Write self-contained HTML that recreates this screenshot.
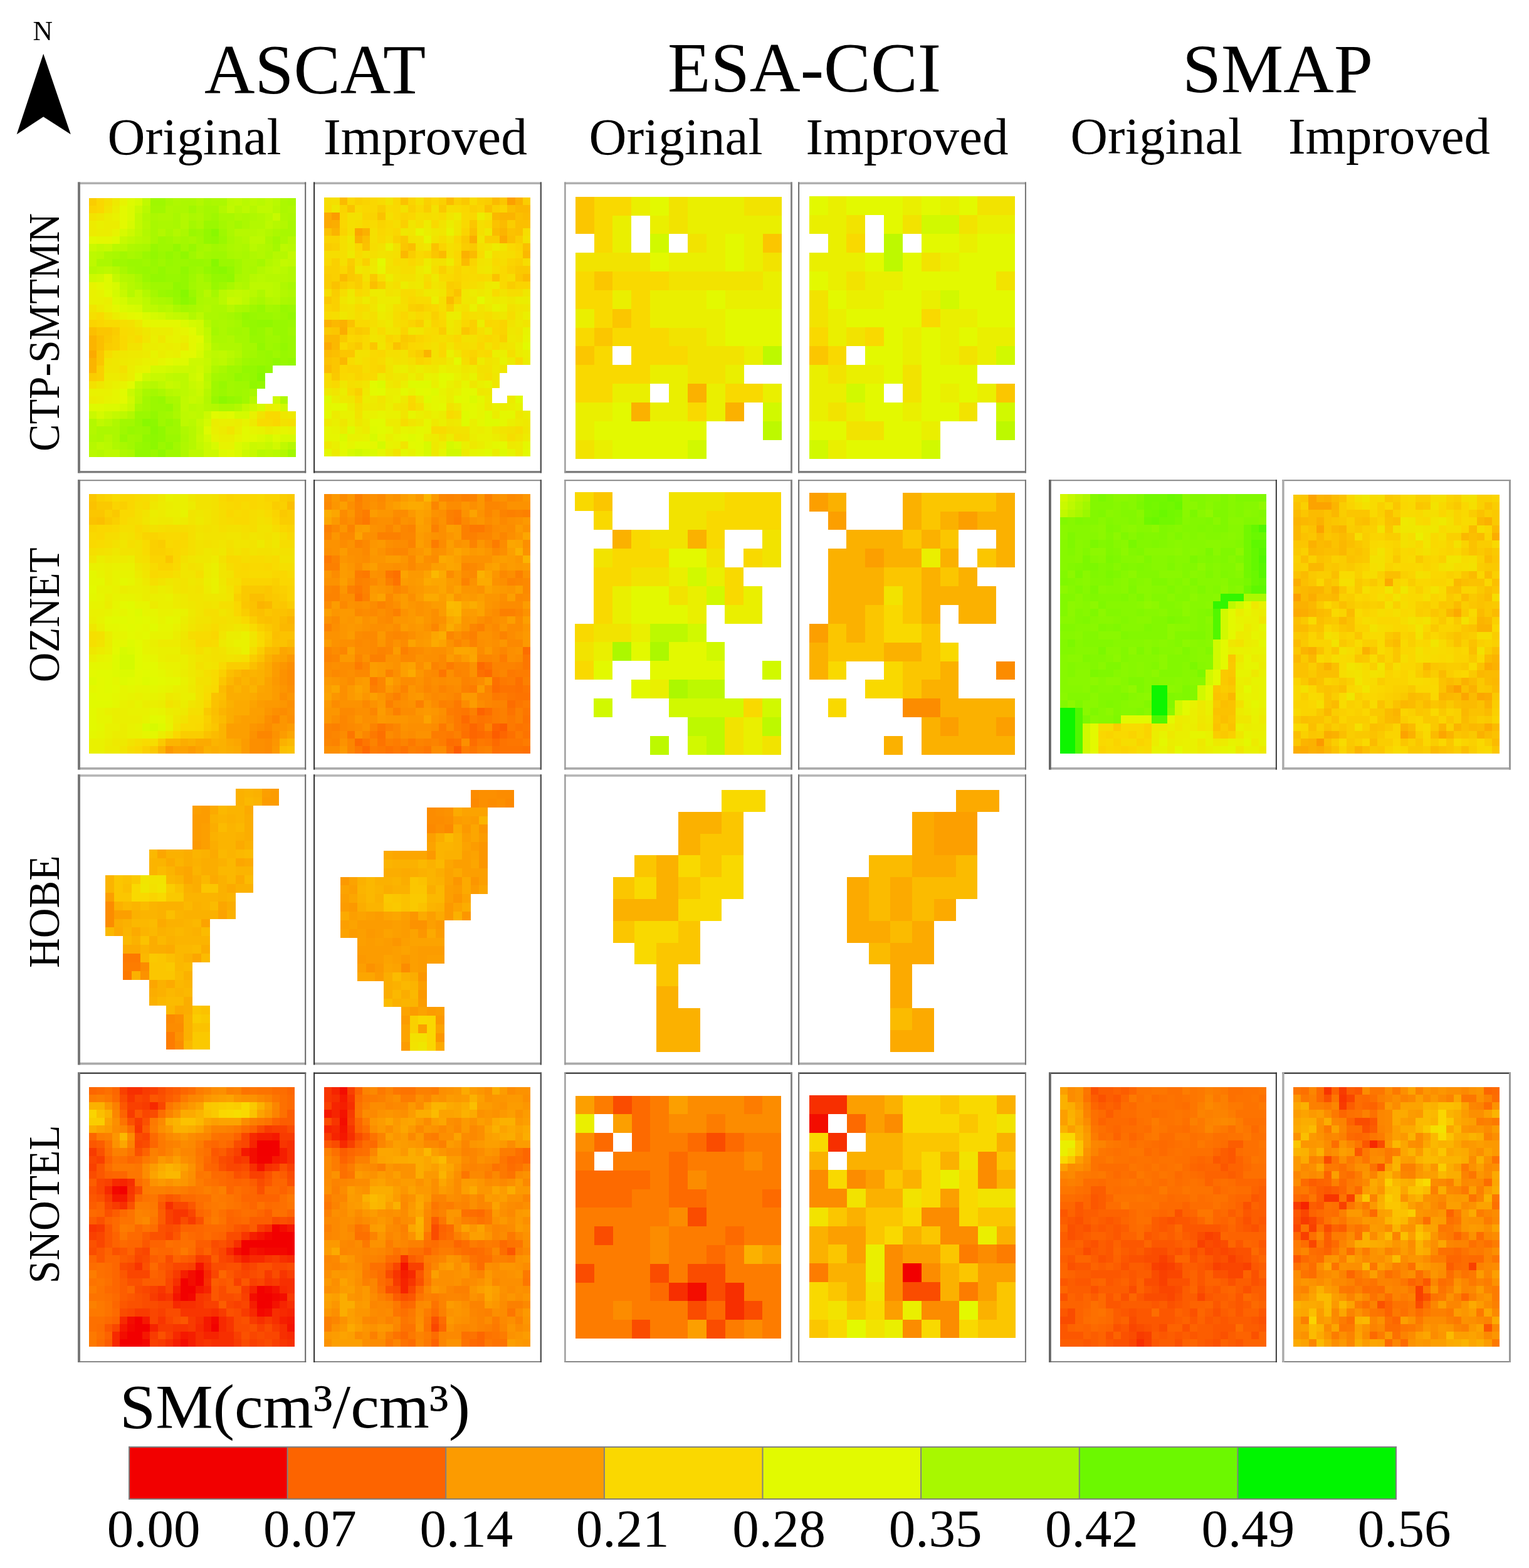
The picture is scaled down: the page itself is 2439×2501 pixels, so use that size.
<!DOCTYPE html><html><head><meta charset="utf-8"><style>html,body{margin:0;padding:0;background:#fff;width:2439px;height:2501px;overflow:hidden}svg{display:block}text{font-family:"Liberation Serif","Times New Roman",serif;fill:#000}</style></head><body>
<svg width="2439" height="2501" viewBox="0 0 2439 2501">
<g shape-rendering="crispEdges">
<path fill="#facd00" d="M142 316h12v12h-12zM179 522h12v13h-12zM166 547h13v12h-13zM142 595h12v13h-12z"/>
<path fill="#fad700" d="M154 316h12v12h-12zM154 328h12v12h-12zM154 510h12v12h-12zM435 668h12v12h-12z"/>
<path fill="#f5df00" d="M166 316h13v12h-13zM142 498h12v12h-12zM191 510h12v12h-12zM203 535h12v12h-12zM459 668h13v12h-13z"/>
<path fill="#eee900" d="M179 316h12v12h-12zM215 510h12v12h-12zM288 547h13v12h-13zM203 559h24v12h-24zM191 571h12v12h-12zM459 656h13v12h-13z"/>
<path fill="#e7f300" d="M191 316h12v12h-12zM179 365h12v12h-12zM142 450h12v12h-12zM154 462h12v12h-12zM191 498h12v12h-12zM276 522h12v13h-12zM276 535h12v12h-12zM240 559h12v12h-12zM215 583h12v12h-12zM191 608h12v12h-12zM166 632h13v12h-13zM435 644h12v12h-12zM386 668h12v12h-12zM410 680h13v13h-13zM459 680h13v13h-13zM337 693h12v12h-12zM349 705h25v12h-25z"/>
<path fill="#defa00" d="M203 316h12v12h-12zM179 377h12v12h-12zM166 437h13v13h-13zM166 450h13v12h-13zM276 571h25v12h-25zM142 644h24v12h-24zM349 656h13v12h-13zM325 680h12v13h-12zM435 693h12v12h-12zM349 717h13v12h-13z"/>
<path fill="#d7fa00" d="M215 316h12v12h-12zM203 352h12v13h-12zM191 365h12v12h-12zM179 450h12v12h-12zM203 486h12v12h-12zM313 559h12v12h-12zM410 644h13v12h-13zM447 693h25v12h-25zM337 705h12v12h-12z"/>
<path fill="#c0f900" d="M227 316h13v12h-13zM374 316h12v12h-12zM423 316h12v12h-12zM362 328h12v12h-12zM410 328h25v12h-25zM215 365h12v12h-12zM203 377h12v12h-12zM459 413h13v12h-13zM191 450h12v12h-12zM362 462h12v12h-12zM386 462h12v12h-12zM227 486h13v12h-13zM288 498h13v12h-13zM325 522h12v13h-12zM349 559h13v12h-13zM264 595h12v13h-12zM288 632h13v12h-13zM288 644h13v12h-13zM301 656h12v12h-12zM154 668h12v12h-12zM447 705h12v12h-12z"/>
<path fill="#9ff800" d="M240 316h24v12h-24zM337 340h12v12h-12zM313 365h12v12h-12zM349 365h13v12h-13zM252 377h12v12h-12zM252 389h24v12h-24zM301 401h12v12h-12zM337 401h25v12h-25zM179 413h24v12h-24zM227 413h13v12h-13zM252 413h12v12h-12zM203 425h12v12h-12zM313 425h12v12h-12zM301 437h12v13h-12zM325 437h12v13h-12zM240 450h36v12h-36zM349 450h13v12h-13zM398 486h12v12h-12zM374 498h12v12h-12zM435 498h12v12h-12zM459 522h13v13h-13zM423 535h24v12h-24zM423 547h12v12h-12zM435 559h12v12h-12zM386 571h12v12h-12zM362 583h24v12h-24zM362 595h12v13h-12zM337 608h12v12h-12zM374 608h24v12h-24zM337 620h12v12h-12zM374 620h12v12h-12zM252 656h12v12h-12zM252 668h12v12h-12zM276 668h12v12h-12zM191 680h12v13h-12zM264 680h24v13h-24zM215 693h12v12h-12zM264 717h24v12h-24z"/>
<path fill="#a9f800" d="M264 316h12v12h-12zM325 316h12v12h-12zM459 316h13v12h-13zM276 340h12v12h-12zM349 340h25v12h-25zM240 352h12v13h-12zM276 352h12v13h-12zM459 352h13v13h-13zM240 365h12v12h-12zM264 365h12v12h-12zM447 365h25v12h-25zM240 377h12v12h-12zM276 377h12v12h-12zM301 377h12v12h-12zM362 377h12v12h-12zM227 389h13v12h-13zM325 389h12v12h-12zM179 401h12v12h-12zM203 401h12v12h-12zM313 401h12v12h-12zM362 401h12v12h-12zM386 401h12v12h-12zM191 425h12v12h-12zM398 425h12v12h-12zM215 437h12v13h-12zM313 437h12v13h-12zM374 437h12v13h-12zM313 450h24v12h-24zM362 450h12v12h-12zM459 450h13v12h-13zM313 462h12v12h-12zM264 474h12v12h-12zM410 474h13v12h-13zM459 474h13v12h-13zM301 486h12v12h-12zM386 486h12v12h-12zM349 498h13v12h-13zM337 510h12v12h-12zM362 510h12v12h-12zM374 571h12v12h-12zM349 583h13v12h-13zM227 620h13v12h-13zM398 620h12v12h-12zM264 632h12v12h-12zM215 644h12v12h-12zM276 644h12v12h-12zM191 705h12v12h-12z"/>
<path fill="#aff800" d="M276 316h12v12h-12zM264 328h12v12h-12zM459 328h13v12h-13zM252 340h24v12h-24zM313 340h12v12h-12zM374 340h12v12h-12zM398 340h12v12h-12zM447 340h12v12h-12zM374 377h12v12h-12zM203 389h12v12h-12zM374 389h12v12h-12zM423 389h12v12h-12zM398 401h12v12h-12zM215 450h12v12h-12zM386 450h12v12h-12zM447 450h12v12h-12zM410 462h13v12h-13zM459 462h13v12h-13zM240 474h12v12h-12zM325 474h24v12h-24zM398 474h12v12h-12zM313 486h12v12h-12zM362 535h12v12h-12zM349 547h37v12h-37zM337 583h12v12h-12zM447 632h12v12h-12zM179 668h12v12h-12zM288 680h13v13h-13zM142 693h12v12h-12zM179 705h12v12h-12zM288 705h13v12h-13zM191 717h12v12h-12zM288 717h13v12h-13z"/>
<path fill="#acf800" d="M288 316h25v12h-25zM337 316h25v12h-25zM447 316h12v12h-12zM276 328h25v12h-25zM313 328h12v12h-12zM447 328h12v12h-12zM240 340h12v12h-12zM301 340h12v12h-12zM386 340h12v12h-12zM459 340h13v12h-13zM252 352h24v13h-24zM313 352h12v13h-12zM362 352h12v13h-12zM386 352h12v13h-12zM288 365h13v12h-13zM362 365h12v12h-12zM435 365h12v12h-12zM423 377h12v12h-12zM447 377h12v12h-12zM215 389h12v12h-12zM362 389h12v12h-12zM386 389h12v12h-12zM166 401h13v12h-13zM374 401h12v12h-12zM423 401h12v12h-12zM154 413h25v12h-25zM386 413h24v12h-24zM386 425h12v12h-12zM386 437h12v13h-12zM252 474h12v12h-12zM313 474h12v12h-12zM447 474h12v12h-12zM276 486h12v12h-12zM337 486h25v12h-25zM374 486h12v12h-12zM325 498h24v12h-24zM349 510h13v12h-13zM349 522h13v13h-13zM337 535h25v12h-25zM252 620h12v12h-12zM276 632h12v12h-12zM349 644h25v12h-25zM276 656h12v12h-12zM154 680h37v13h-37zM154 693h12v12h-12zM179 693h12v12h-12zM288 693h13v12h-13zM203 717h12v12h-12z"/>
<path fill="#b3f800" d="M313 316h12v12h-12zM349 328h13v12h-13zM227 340h13v12h-13zM288 340h13v12h-13zM410 340h13v12h-13zM288 352h13v13h-13zM398 352h25v13h-25zM447 352h12v13h-12zM227 365h13v12h-13zM252 365h12v12h-12zM276 365h12v12h-12zM423 365h12v12h-12zM386 377h12v12h-12zM410 389h13v12h-13zM410 401h13v12h-13zM423 413h12v12h-12zM410 425h13v12h-13zM459 425h13v12h-13zM203 437h12v13h-12zM459 437h13v13h-13zM374 450h12v12h-12zM227 462h13v12h-13zM447 462h12v12h-12zM423 474h12v12h-12zM325 486h12v12h-12zM301 498h12v12h-12zM337 547h12v12h-12zM374 559h12v12h-12zM362 571h12v12h-12zM325 632h12v12h-12zM337 644h12v12h-12zM374 644h12v12h-12zM203 656h12v12h-12zM142 668h12v12h-12zM142 680h12v13h-12zM447 717h12v12h-12z"/>
<path fill="#bdf900" d="M362 316h12v12h-12zM398 316h12v12h-12zM386 328h12v12h-12zM423 352h12v13h-12zM398 377h25v12h-25zM447 389h12v12h-12zM142 401h12v12h-12zM142 413h12v12h-12zM166 425h13v12h-13zM435 425h12v12h-12zM398 450h37v12h-37zM423 462h12v12h-12zM227 474h13v12h-13zM386 474h12v12h-12zM240 486h12v12h-12zM313 498h12v12h-12zM337 559h12v12h-12zM349 571h13v12h-13zM276 595h25v13h-25zM252 608h12v12h-12zM288 608h13v12h-13zM325 608h12v12h-12zM288 620h13v12h-13zM313 644h12v12h-12zM191 656h12v12h-12zM288 656h13v12h-13zM313 656h12v12h-12zM288 668h13v12h-13zM154 705h12v12h-12zM166 717h25v12h-25zM301 717h24v12h-24zM423 717h12v12h-12z"/>
<path fill="#b9f900" d="M386 316h12v12h-12zM410 316h13v12h-13zM435 316h12v12h-12zM227 328h13v12h-13zM423 340h12v12h-12zM410 365h13v12h-13zM215 377h12v12h-12zM179 389h24v12h-24zM398 389h12v12h-12zM459 389h13v12h-13zM154 401h12v12h-12zM435 413h12v12h-12zM154 425h12v12h-12zM423 425h12v12h-12zM447 425h12v12h-12zM410 437h13v13h-13zM435 450h12v12h-12zM349 462h13v12h-13zM398 462h12v12h-12zM435 462h12v12h-12zM349 474h13v12h-13zM264 486h12v12h-12zM362 559h12v12h-12zM337 571h12v12h-12zM325 595h12v13h-12zM227 608h13v12h-13zM215 620h12v12h-12zM276 620h12v12h-12zM301 644h12v12h-12zM166 668h13v12h-13zM301 668h12v12h-12zM166 705h13v12h-13zM142 717h12v12h-12zM410 717h13v12h-13zM435 717h12v12h-12z"/>
<path fill="#fad400" d="M142 328h12v12h-12zM142 510h12v12h-12z"/>
<path fill="#f2e300" d="M166 328h13v12h-13zM142 340h12v12h-12zM203 547h24v12h-24zM410 656h13v12h-13z"/>
<path fill="#ebed00" d="M179 328h12v12h-12zM166 340h13v12h-13zM166 352h25v13h-25zM154 365h25v12h-25zM179 498h12v12h-12zM240 522h36v13h-36zM227 547h25v12h-25zM264 547h12v12h-12zM252 559h12v12h-12zM215 571h12v12h-12zM203 583h12v12h-12zM203 595h12v13h-12zM166 608h13v12h-13zM142 632h12v12h-12zM337 668h12v12h-12zM374 668h12v12h-12zM423 680h12v13h-12z"/>
<path fill="#e3f900" d="M191 328h12v12h-12zM191 340h12v12h-12zM191 352h12v13h-12zM142 377h12v12h-12zM215 498h12v12h-12zM288 559h25v12h-25zM264 571h12v12h-12zM191 632h12v12h-12zM386 680h12v13h-12zM386 693h12v12h-12z"/>
<path fill="#dbfa00" d="M203 328h12v12h-12zM203 340h12v12h-12zM179 474h12v12h-12zM191 486h12v12h-12zM227 498h13v12h-13zM288 510h13v12h-13zM313 547h12v12h-12zM166 644h25v12h-25zM410 693h13v12h-13zM374 705h12v12h-12zM374 717h12v12h-12z"/>
<path fill="#caf900" d="M215 328h12v12h-12zM142 389h12v12h-12zM362 474h12v12h-12zM325 547h12v12h-12zM301 583h12v12h-12zM203 620h12v12h-12zM313 620h12v12h-12zM203 644h12v12h-12zM142 656h12v12h-12zM166 656h13v12h-13zM398 705h12v12h-12z"/>
<path fill="#a2f800" d="M240 328h24v12h-24zM301 328h12v12h-12zM264 377h12v12h-12zM313 377h12v12h-12zM435 377h12v12h-12zM288 389h13v12h-13zM337 389h12v12h-12zM191 401h12v12h-12zM325 401h12v12h-12zM374 413h12v12h-12zM374 425h12v12h-12zM301 450h12v12h-12zM435 486h12v12h-12zM374 522h12v13h-12zM423 522h12v13h-12zM398 559h12v12h-12zM349 595h13v13h-13zM362 608h12v12h-12zM362 620h12v12h-12zM386 620h12v12h-12zM227 632h13v12h-13zM386 632h12v12h-12zM227 644h13v12h-13zM264 656h12v12h-12zM191 668h24v12h-24zM203 693h12v12h-12zM203 705h12v12h-12zM276 705h12v12h-12zM459 717h13v12h-13z"/>
<path fill="#a5f800" d="M325 328h24v12h-24zM325 340h12v12h-12zM301 352h12v13h-12zM349 352h13v13h-13zM374 352h12v13h-12zM288 377h13v12h-13zM313 389h12v12h-12zM349 389h13v12h-13zM435 389h12v12h-12zM215 401h12v12h-12zM410 413h13v12h-13zM227 450h13v12h-13zM240 462h12v12h-12zM337 462h12v12h-12zM288 486h13v12h-13zM423 486h12v12h-12zM362 498h12v12h-12zM374 510h12v12h-12zM337 522h12v13h-12zM362 522h12v13h-12zM386 522h12v13h-12zM374 535h24v12h-24zM386 547h24v12h-24zM386 559h12v12h-12zM337 595h12v13h-12zM240 620h12v12h-12z"/>
<path fill="#b6f800" d="M374 328h12v12h-12zM398 328h12v12h-12zM435 328h12v12h-12zM227 352h13v13h-13zM435 352h12v13h-12zM374 365h36v12h-36zM227 377h13v12h-13zM459 377h13v12h-13zM435 401h24v12h-24zM142 425h12v12h-12zM179 425h12v12h-12zM191 437h12v13h-12zM398 437h12v13h-12zM423 437h36v13h-36zM203 450h12v12h-12zM203 462h12v12h-12zM325 462h12v12h-12zM435 474h12v12h-12zM252 486h12v12h-12zM362 486h12v12h-12zM325 510h12v12h-12zM240 608h12v12h-12zM264 620h12v12h-12zM325 620h12v12h-12zM215 632h12v12h-12zM398 632h12v12h-12zM325 644h12v12h-12zM301 680h12v13h-12zM166 693h13v12h-13zM301 693h12v12h-12zM142 705h12v12h-12zM301 705h12v12h-12zM459 705h13v12h-13zM154 717h12v12h-12z"/>
<path fill="#efe700" d="M154 340h12v12h-12zM227 522h13v13h-13zM252 535h12v12h-12zM191 559h12v12h-12zM179 571h12v12h-12zM166 583h25v12h-25zM191 595h12v13h-12zM154 608h12v12h-12zM447 656h12v12h-12z"/>
<path fill="#e9f100" d="M179 340h12v12h-12zM142 462h12v12h-12zM142 474h24v12h-24zM166 486h13v12h-13zM264 535h12v12h-12zM264 559h12v12h-12zM227 571h25v12h-25zM179 608h12v12h-12zM142 620h37v12h-37zM398 656h12v12h-12zM435 680h12v13h-12z"/>
<path fill="#c3f900" d="M215 340h12v12h-12zM215 352h12v13h-12zM154 389h12v12h-12zM459 401h13v12h-13zM447 413h12v12h-12zM179 437h12v13h-12zM215 462h12v12h-12zM374 462h12v12h-12zM276 498h12v12h-12zM325 535h12v12h-12zM325 559h12v12h-12zM325 583h12v12h-12zM215 608h12v12h-12zM276 608h12v12h-12zM301 620h12v12h-12zM313 632h12v12h-12zM386 644h12v12h-12zM179 656h12v12h-12zM313 680h12v13h-12zM313 705h12v12h-12z"/>
<path fill="#c7f900" d="M435 340h12v12h-12zM191 377h12v12h-12zM166 389h13v12h-13zM191 462h12v12h-12zM203 474h24v12h-24zM374 474h12v12h-12zM264 498h12v12h-12zM325 571h12v12h-12zM240 595h24v13h-24zM264 608h12v12h-12zM301 608h12v12h-12zM301 632h12v12h-12zM313 668h12v12h-12zM313 693h12v12h-12zM423 705h12v12h-12zM398 717h12v12h-12z"/>
<path fill="#edeb00" d="M142 352h12v13h-12zM142 365h12v12h-12zM154 486h12v12h-12zM227 559h13v12h-13zM203 571h12v12h-12zM166 595h25v13h-25zM398 668h12v12h-12zM349 680h13v13h-13z"/>
<path fill="#eaef00" d="M154 352h12v13h-12zM166 474h13v12h-13zM240 535h12v12h-12zM288 535h13v12h-13zM252 547h12v12h-12zM276 547h12v12h-12zM276 559h12v12h-12zM154 632h12v12h-12zM423 644h12v12h-12zM349 668h25v12h-25zM337 680h12v13h-12zM374 680h12v13h-12zM349 693h25v12h-25z"/>
<path fill="#9bf800" d="M325 352h24v13h-24zM301 365h12v12h-12zM349 377h13v12h-13zM227 401h13v12h-13zM252 401h12v12h-12zM276 401h12v12h-12zM203 413h24v12h-24zM276 413h25v12h-25zM325 413h12v12h-12zM349 413h25v12h-25zM215 425h12v12h-12zM240 425h12v12h-12zM264 425h24v12h-24zM301 425h12v12h-12zM227 437h13v13h-13zM252 462h12v12h-12zM301 462h12v12h-12zM459 486h13v12h-13zM410 498h25v12h-25zM447 498h12v12h-12zM459 510h13v12h-13zM459 535h13v12h-13zM435 547h12v12h-12zM459 547h13v12h-13zM410 559h13v12h-13zM459 559h13v12h-13zM398 571h25v12h-25zM349 620h13v12h-13zM240 632h12v12h-12zM240 644h24v12h-24zM215 656h25v12h-25zM215 680h12v13h-12zM264 693h24v12h-24zM252 705h12v12h-12zM240 717h12v12h-12z"/>
<path fill="#cdf900" d="M203 365h12v12h-12zM142 437h12v13h-12zM301 571h24v12h-24zM276 583h25v12h-25zM227 595h13v13h-13zM301 595h12v13h-12zM313 608h12v12h-12zM435 632h12v12h-12zM398 644h12v12h-12zM325 656h12v12h-12zM325 705h12v12h-12zM410 705h13v12h-13zM325 717h24v12h-24zM386 717h12v12h-12z"/>
<path fill="#94f800" d="M325 365h12v12h-12zM325 377h12v12h-12zM276 389h12v12h-12zM240 401h12v12h-12zM264 401h12v12h-12zM252 425h12v12h-12zM325 425h12v12h-12zM362 425h12v12h-12zM240 437h24v13h-24zM288 437h13v13h-13zM337 437h25v13h-25zM288 450h13v12h-13zM276 462h12v12h-12zM301 474h12v12h-12zM386 498h12v12h-12zM459 498h13v12h-13zM398 510h12v12h-12zM398 522h12v13h-12zM410 547h13v12h-13zM447 547h12v12h-12zM459 571h13v12h-13zM386 583h24v12h-24zM423 583h12v12h-12zM374 595h12v13h-12zM398 595h12v13h-12zM410 608h13v12h-13zM362 632h12v12h-12zM240 656h12v12h-12zM227 705h13v12h-13zM264 705h12v12h-12zM215 717h25v12h-25z"/>
<path fill="#8af800" d="M337 365h12v12h-12zM349 425h13v12h-13zM227 668h13v12h-13zM240 680h12v13h-12z"/>
<path fill="#e4f700" d="M154 377h25v12h-25zM154 450h12v12h-12zM179 486h12v12h-12zM203 498h12v12h-12zM240 510h48v12h-48zM301 535h12v12h-12zM301 547h12v12h-12z"/>
<path fill="#91f800" d="M337 377h12v12h-12zM288 401h13v12h-13zM288 425h13v12h-13zM362 437h12v13h-12zM276 450h12v12h-12zM410 510h25v12h-25zM435 571h12v12h-12zM398 608h12v12h-12zM252 680h12v13h-12zM227 693h13v12h-13zM252 693h12v12h-12zM252 717h12v12h-12z"/>
<path fill="#98f800" d="M240 389h12v12h-12zM301 389h12v12h-12zM240 413h12v12h-12zM264 413h12v12h-12zM301 413h24v12h-24zM227 425h13v12h-13zM264 437h24v13h-24zM337 450h12v12h-12zM264 462h12v12h-12zM276 474h12v12h-12zM410 486h13v12h-13zM447 486h12v12h-12zM398 498h12v12h-12zM386 510h12v12h-12zM435 510h24v12h-24zM410 522h13v13h-13zM435 522h24v13h-24zM398 535h25v12h-25zM447 535h12v12h-12zM423 559h12v12h-12zM447 559h12v12h-12zM423 571h12v12h-12zM447 571h12v12h-12zM386 595h12v13h-12zM349 608h13v12h-13zM252 632h12v12h-12zM337 632h12v12h-12zM374 632h12v12h-12zM264 644h12v12h-12zM215 668h12v12h-12zM264 668h12v12h-12zM203 680h12v13h-12zM227 680h13v13h-13zM191 693h12v12h-12zM215 705h12v12h-12z"/>
<path fill="#87f800" d="M337 413h12v12h-12zM288 462h13v12h-13zM410 595h13v13h-13z"/>
<path fill="#8df800" d="M337 425h12v12h-12zM288 474h13v12h-13zM410 583h13v12h-13zM349 632h13v12h-13zM240 668h12v12h-12zM240 693h12v12h-12zM240 705h12v12h-12z"/>
<path fill="#d1f900" d="M154 437h12v13h-12zM252 498h12v12h-12zM313 510h12v12h-12zM313 522h12v13h-12zM264 583h12v12h-12zM313 583h12v12h-12zM203 632h12v12h-12zM447 644h12v12h-12zM435 705h12v12h-12z"/>
<path fill="#e1fa00" d="M166 462h13v12h-13zM301 522h12v13h-12zM313 535h12v12h-12zM215 595h12v13h-12zM203 608h12v12h-12zM191 620h12v12h-12zM337 656h12v12h-12zM362 656h12v12h-12zM398 693h12v12h-12zM362 717h12v12h-12z"/>
<path fill="#d4fa00" d="M179 462h12v12h-12zM191 474h12v12h-12zM215 486h12v12h-12zM240 498h12v12h-12zM301 510h12v12h-12zM240 583h24v12h-24zM313 595h12v13h-12zM191 644h12v12h-12zM154 656h12v12h-12zM374 656h24v12h-24zM325 668h12v12h-12zM325 693h12v12h-12zM423 693h12v12h-12zM386 705h12v12h-12z"/>
<path fill="#f1e500" d="M142 486h12v12h-12zM166 498h13v12h-13zM227 535h13v12h-13zM179 559h12v12h-12zM166 571h13v12h-13zM362 680h12v13h-12z"/>
<path fill="#f8db00" d="M154 498h12v12h-12zM166 510h25v12h-25zM191 522h12v13h-12zM215 535h12v12h-12zM410 668h25v12h-25z"/>
<path fill="#f3e100" d="M203 510h12v12h-12zM215 522h12v13h-12zM191 583h12v12h-12zM142 608h12v12h-12zM447 668h12v12h-12z"/>
<path fill="#e6f500" d="M227 510h13v12h-13zM288 522h13v13h-13zM252 571h12v12h-12zM227 583h13v12h-13zM179 620h12v12h-12zM179 632h12v12h-12zM398 680h12v13h-12zM447 680h12v13h-12zM374 693h12v12h-12z"/>
<path fill="#fbbf00" d="M142 522h12v13h-12zM154 535h12v12h-12zM154 547h12v12h-12z"/>
<path fill="#fbc600" d="M154 522h25v13h-25zM154 559h12v12h-12zM154 571h12v12h-12z"/>
<path fill="#f6dd00" d="M203 522h12v13h-12zM166 559h13v12h-13z"/>
<path fill="#fbb400" d="M142 535h12v12h-12zM142 547h12v12h-12zM142 571h12v12h-12zM142 583h12v12h-12z"/>
<path fill="#fac900" d="M166 535h13v12h-13z"/>
<path fill="#fad000" d="M179 535h12v12h-12zM179 547h12v12h-12zM154 583h12v12h-12zM154 595h12v13h-12z"/>
<path fill="#f9d900" d="M191 535h12v12h-12zM191 547h12v12h-12zM423 656h24v12h-24z"/>
<path fill="#fcaa00" d="M142 559h12v12h-12z"/>
</g>
<g shape-rendering="crispEdges">
<path fill="#f6dd00" d="M517 315h12v12h-12zM712 327h12v12h-12zM676 339h12v12h-12zM566 351h12v13h-12zM627 351h12v13h-12zM834 364h12v12h-12zM700 376h12v12h-12zM590 388h12v12h-12zM517 400h25v12h-25zM785 400h12v12h-12zM809 400h13v12h-13zM639 412h12v12h-12zM663 412h13v12h-13zM797 412h12v12h-12zM834 412h12v12h-12zM639 424h24v13h-24zM688 424h12v13h-12zM712 424h12v13h-12zM785 424h12v13h-12zM676 437h12v12h-12zM809 437h13v12h-13zM749 449h12v12h-12zM517 461h12v12h-12zM542 461h12v12h-12zM578 461h12v12h-12zM809 461h25v12h-25zM639 473h12v12h-12zM578 485h12v12h-12zM529 497h13v13h-13zM566 497h12v13h-12zM627 497h12v13h-12zM676 497h12v13h-12zM773 497h12v13h-12zM809 497h13v13h-13zM627 510h12v12h-12zM676 522h12v12h-12zM688 534h12v12h-12zM712 534h12v12h-12zM676 546h12v12h-12zM736 546h13v12h-13zM578 570h12v12h-12zM736 570h13v12h-13zM578 582h12v13h-12zM517 607h12v12h-12zM639 668h12v12h-12zM822 680h12v12h-12zM809 692h13v12h-13z"/>
<path fill="#f5df00" d="M529 315h13v12h-13zM663 315h13v12h-13zM615 339h12v12h-12zM663 339h13v12h-13zM688 339h12v12h-12zM554 351h12v13h-12zM663 351h13v13h-13zM761 351h12v13h-12zM554 364h12v12h-12zM590 364h12v12h-12zM761 364h12v12h-12zM542 376h12v12h-12zM590 376h12v12h-12zM615 376h12v12h-12zM542 388h12v12h-12zM712 388h12v12h-12zM761 388h12v12h-12zM542 400h12v12h-12zM590 400h12v12h-12zM627 400h12v12h-12zM712 400h12v12h-12zM797 400h12v12h-12zM542 412h12v12h-12zM566 412h12v12h-12zM602 437h13v12h-13zM627 449h12v12h-12zM700 473h12v12h-12zM627 485h24v12h-24zM700 485h12v12h-12zM590 497h12v13h-12zM651 497h12v13h-12zM749 497h12v13h-12zM590 510h12v12h-12zM761 522h12v12h-12zM700 534h12v12h-12zM749 546h12v12h-12zM615 558h24v12h-24zM809 558h13v12h-13zM651 570h12v12h-12zM773 595h12v12h-12zM554 607h12v12h-12zM663 643h13v12h-13zM724 655h12v13h-12zM724 692h12v12h-12z"/>
<path fill="#fbbb00" d="M542 315h12v12h-12zM712 315h12v12h-12zM785 315h12v12h-12zM834 339h12v12h-12zM797 351h12v13h-12zM785 364h12v12h-12zM700 400h12v12h-12zM749 400h12v12h-12zM736 412h13v12h-13zM542 437h12v12h-12zM834 437h12v12h-12zM712 473h12v12h-12zM517 558h12v12h-12zM517 582h12v13h-12z"/>
<path fill="#fad700" d="M554 315h12v12h-12zM590 315h12v12h-12zM627 315h12v12h-12zM688 315h12v12h-12zM578 327h24v12h-24zM736 327h13v12h-13zM542 339h12v12h-12zM651 339h12v12h-12zM749 339h12v12h-12zM542 351h12v13h-12zM578 351h12v13h-12zM602 364h13v12h-13zM627 364h12v12h-12zM724 376h12v12h-12zM566 388h12v12h-12zM724 400h12v12h-12zM822 400h12v12h-12zM651 412h12v12h-12zM542 424h12v13h-12zM651 473h12v12h-12zM688 485h12v12h-12zM639 497h12v13h-12zM700 510h12v12h-12zM736 510h13v12h-13zM773 510h12v12h-12zM785 522h12v12h-12zM554 534h12v12h-12zM724 534h12v12h-12zM773 534h12v12h-12zM651 546h12v12h-12zM761 546h12v12h-12zM602 558h13v12h-13zM700 558h12v12h-12zM590 570h12v12h-12zM542 582h12v13h-12zM590 582h12v13h-12zM651 643h12v12h-12z"/>
<path fill="#fad000" d="M566 315h12v12h-12zM676 315h12v12h-12zM700 315h12v12h-12zM724 315h12v12h-12zM761 315h12v12h-12zM651 327h12v12h-12zM749 327h12v12h-12zM785 327h12v12h-12zM639 351h12v13h-12zM627 376h12v12h-12zM529 388h13v12h-13zM529 412h13v12h-13zM578 412h12v12h-12zM822 412h12v12h-12zM517 424h25v13h-25zM700 424h12v13h-12zM809 424h13v13h-13zM529 437h13v12h-13zM724 449h12v12h-12zM712 461h12v12h-12zM529 473h13v12h-13zM724 473h12v12h-12zM529 485h13v12h-13zM651 485h12v12h-12zM688 497h12v13h-12zM749 510h12v12h-12zM554 522h12v12h-12zM749 522h12v12h-12zM797 534h12v12h-12zM554 546h12v12h-12zM749 570h12v12h-12zM566 619h12v12h-12z"/>
<path fill="#fad400" d="M578 315h12v12h-12zM651 315h12v12h-12zM542 327h12v12h-12zM761 327h12v12h-12zM797 327h12v12h-12zM578 339h24v12h-24zM639 339h12v12h-12zM602 351h13v13h-13zM542 364h12v12h-12zM736 364h13v12h-13zM517 376h25v12h-25zM700 388h12v12h-12zM822 388h12v12h-12zM676 400h12v12h-12zM749 412h12v12h-12zM809 412h13v12h-13zM724 424h12v13h-12zM724 437h12v12h-12zM554 449h12v12h-12zM822 449h24v12h-24zM517 485h12v12h-12zM676 485h12v12h-12zM651 510h12v12h-12zM688 510h12v12h-12zM797 510h12v12h-12zM639 522h12v12h-12zM797 522h12v12h-12zM566 534h12v12h-12zM615 534h12v12h-12zM663 534h13v12h-13zM651 558h12v12h-12zM749 558h12v12h-12zM663 570h13v12h-13zM554 582h24v13h-24zM602 582h13v13h-13zM566 595h12v12h-12z"/>
<path fill="#f8db00" d="M602 315h13v12h-13zM749 315h12v12h-12zM517 327h12v12h-12zM566 327h12v12h-12zM615 327h12v12h-12zM724 327h12v12h-12zM700 339h12v12h-12zM590 351h12v13h-12zM773 351h12v13h-12zM615 364h12v12h-12zM724 388h12v12h-12zM566 400h12v12h-12zM761 400h12v12h-12zM627 412h12v12h-12zM736 424h13v13h-13zM700 437h12v12h-12zM749 437h12v12h-12zM773 437h12v12h-12zM578 449h12v12h-12zM736 449h13v12h-13zM639 461h24v12h-24zM785 461h12v12h-12zM663 473h25v12h-25zM566 485h12v12h-12zM517 497h12v13h-12zM700 497h12v13h-12zM736 497h13v13h-13zM639 510h12v12h-12zM602 522h13v12h-13zM688 522h12v12h-12zM761 534h12v12h-12zM785 534h12v12h-12zM724 546h12v12h-12zM785 546h12v12h-12zM761 558h12v12h-12zM554 570h12v12h-12zM602 570h13v12h-13zM822 570h12v12h-12zM517 595h12v12h-12zM554 595h12v12h-12zM554 619h12v12h-12zM712 655h12v13h-12zM688 680h24v12h-24z"/>
<path fill="#f2e300" d="M615 315h12v12h-12zM773 339h12v12h-12zM700 351h12v13h-12zM663 376h13v12h-13zM688 376h12v12h-12zM773 388h12v12h-12zM602 400h13v12h-13zM615 412h12v12h-12zM761 412h12v12h-12zM578 424h12v13h-12zM627 437h12v12h-12zM615 449h12v12h-12zM615 461h12v12h-12zM797 461h12v12h-12zM566 473h12v12h-12zM590 473h12v12h-12zM554 485h12v12h-12zM761 485h12v12h-12zM554 497h12v13h-12zM578 497h12v13h-12zM785 497h12v13h-12zM676 510h12v12h-12zM724 510h12v12h-12zM809 510h13v12h-13zM590 522h12v12h-12zM627 522h12v12h-12zM724 522h12v12h-12zM602 534h13v12h-13zM773 546h12v12h-12zM797 546h12v12h-12zM639 558h12v12h-12zM639 570h12v12h-12zM773 570h12v12h-12zM615 582h12v13h-12zM615 595h12v12h-12zM761 595h12v12h-12zM712 643h12v12h-12zM566 655h12v13h-12zM724 680h25v12h-25zM797 680h12v12h-12zM700 692h12v12h-12zM822 692h12v12h-12zM627 716h12v12h-12z"/>
<path fill="#fbc200" d="M639 315h12v12h-12zM554 327h12v12h-12zM602 339h13v12h-13zM785 351h12v13h-12zM517 364h12v12h-12zM809 364h13v12h-13zM578 388h12v12h-12zM688 388h12v12h-12zM785 437h12v12h-12zM529 449h13v12h-13zM724 461h12v12h-12zM554 510h12v12h-12zM627 546h12v12h-12zM517 570h12v12h-12z"/>
<path fill="#fac900" d="M736 315h13v12h-13zM700 327h12v12h-12zM639 376h12v12h-12zM736 376h13v12h-13zM749 388h12v12h-12zM554 424h12v13h-12zM822 424h24v13h-24zM554 437h12v12h-12zM590 437h12v12h-12zM517 473h12v12h-12zM517 522h12v12h-12zM566 522h12v12h-12zM542 534h12v12h-12zM639 534h12v12h-12zM566 546h12v12h-12zM529 595h13v12h-13z"/>
<path fill="#facd00" d="M773 315h12v12h-12zM834 315h12v12h-12zM602 327h13v12h-13zM676 327h12v12h-12zM809 351h13v13h-13zM773 376h24v12h-24zM822 376h12v12h-12zM517 388h12v12h-12zM736 388h13v12h-13zM651 400h12v12h-12zM554 412h12v12h-12zM517 437h12v12h-12zM566 437h12v12h-12zM517 449h12v12h-12zM542 449h12v12h-12zM566 449h12v12h-12zM602 449h13v12h-13zM712 449h12v12h-12zM809 449h13v12h-13zM529 461h13v12h-13zM663 485h13v12h-13zM712 485h12v12h-12zM663 510h13v12h-13zM578 522h12v12h-12zM700 522h12v12h-12zM651 534h12v12h-12zM639 546h12v12h-12zM663 558h13v12h-13z"/>
<path fill="#fbc600" d="M797 315h12v12h-12zM749 351h12v13h-12zM639 388h12v12h-12zM688 400h12v12h-12zM822 437h12v12h-12zM529 522h13v12h-13zM736 522h13v12h-13zM590 546h12v12h-12zM542 558h24v12h-24zM529 570h13v12h-13zM529 582h13v13h-13z"/>
<path fill="#fc9f00" d="M809 315h13v12h-13z"/>
<path fill="#fbb100" d="M822 315h12v12h-12zM578 364h12v12h-12zM566 376h12v12h-12zM736 400h13v12h-13zM517 510h12v12h-12zM542 510h12v12h-12z"/>
<path fill="#efe700" d="M529 327h13v12h-13zM639 364h12v12h-12zM688 364h12v12h-12zM773 364h12v12h-12zM554 376h12v12h-12zM590 412h12v12h-12zM566 424h12v13h-12zM773 424h12v13h-12zM663 437h13v12h-13zM651 449h12v12h-12zM736 461h13v12h-13zM761 461h12v12h-12zM834 461h12v12h-12zM736 473h25v12h-25zM809 473h13v12h-13zM834 485h12v12h-12zM542 497h12v13h-12zM615 497h12v13h-12zM797 497h12v13h-12zM822 497h12v13h-12zM651 522h12v12h-12zM712 522h12v12h-12zM773 522h12v12h-12zM809 522h13v12h-13zM822 534h12v12h-12zM785 570h12v12h-12zM651 582h12v13h-12zM688 582h12v13h-12zM736 582h13v13h-13zM797 582h12v13h-12zM627 595h12v12h-12zM663 595h13v12h-13zM785 595h12v12h-12zM542 607h12v12h-12zM749 607h12v12h-12zM785 607h12v12h-12zM761 619h12v12h-12zM554 631h12v12h-12zM602 643h13v12h-13zM822 655h12v13h-12zM542 668h12v12h-12zM566 668h12v12h-12zM712 668h12v12h-12zM785 680h12v12h-12zM834 680h12v12h-12zM797 692h12v12h-12z"/>
<path fill="#f9d900" d="M627 327h12v12h-12zM663 327h13v12h-13zM627 339h12v12h-12zM736 339h13v12h-13zM615 351h12v13h-12zM688 351h12v13h-12zM736 351h13v13h-13zM602 376h13v12h-13zM809 388h13v12h-13zM663 400h13v12h-13zM517 412h12v12h-12zM724 412h12v12h-12zM785 412h12v12h-12zM749 424h12v13h-12zM797 424h12v13h-12zM712 437h12v12h-12zM736 437h13v12h-13zM761 437h12v12h-12zM797 437h12v12h-12zM676 449h12v12h-12zM797 449h12v12h-12zM566 461h12v12h-12zM663 497h13v13h-13zM566 510h24v12h-24zM785 510h12v12h-12zM578 534h12v12h-12zM627 534h12v12h-12zM676 534h12v12h-12zM542 546h12v12h-12zM578 546h12v12h-12zM615 546h12v12h-12zM663 546h13v12h-13zM700 546h12v12h-12zM590 558h12v12h-12zM736 558h13v12h-13zM773 558h12v12h-12zM676 570h12v12h-12zM542 595h12v12h-12zM578 595h24v12h-24zM529 607h13v12h-13zM566 631h12v12h-12zM651 631h12v12h-12z"/>
<path fill="#f3e100" d="M639 327h12v12h-12zM688 327h12v12h-12zM554 339h24v12h-24zM651 376h12v12h-12zM834 376h12v12h-12zM602 388h13v12h-13zM627 388h12v12h-12zM663 388h13v12h-13zM578 400h12v12h-12zM615 400h12v12h-12zM688 412h24v12h-24zM615 424h24v13h-24zM578 437h12v12h-12zM639 437h24v12h-24zM700 449h12v12h-12zM761 449h12v12h-12zM663 461h13v12h-13zM542 485h12v12h-12zM736 485h13v12h-13zM809 485h13v12h-13zM761 497h12v13h-12zM736 534h25v12h-25zM688 546h12v12h-12zM566 558h24v12h-24zM688 558h12v12h-12zM566 570h12v12h-12zM627 570h12v12h-12zM688 570h24v12h-24zM761 582h24v13h-24zM566 607h12v12h-12zM566 643h12v12h-12zM712 680h12v12h-12zM809 680h13v12h-13zM736 692h13v12h-13z"/>
<path fill="#fbbf00" d="M773 327h12v12h-12zM809 327h13v12h-13zM822 339h12v12h-12zM822 351h24v13h-24zM749 364h12v12h-12zM822 364h12v12h-12zM578 376h12v12h-12zM809 376h13v12h-13zM651 388h12v12h-12zM834 388h12v12h-12zM590 449h12v12h-12zM529 558h13v12h-13z"/>
<path fill="#fbb800" d="M822 327h24v12h-24zM785 339h12v12h-12zM639 400h12v12h-12zM834 400h12v12h-12zM529 510h13v12h-13zM517 534h25v12h-25zM529 546h13v12h-13zM542 570h12v12h-12z"/>
<path fill="#fcaa00" d="M517 339h12v12h-12zM517 351h12v13h-12zM797 376h12v12h-12zM517 546h12v12h-12z"/>
<path fill="#fc9c00" d="M529 339h13v12h-13z"/>
<path fill="#f1e500" d="M712 339h12v12h-12zM651 351h12v13h-12zM724 351h12v13h-12zM651 364h12v12h-12zM700 364h12v12h-12zM724 364h12v12h-12zM712 376h12v12h-12zM761 376h12v12h-12zM554 388h12v12h-12zM676 388h12v12h-12zM797 388h12v12h-12zM773 412h12v12h-12zM761 424h12v13h-12zM688 449h12v12h-12zM627 461h12v12h-12zM700 461h12v12h-12zM542 473h12v12h-12zM590 485h12v12h-12zM724 485h12v12h-12zM822 485h12v12h-12zM602 510h13v12h-13zM834 510h12v12h-12zM615 522h12v12h-12zM663 522h13v12h-13zM822 522h12v12h-12zM590 534h12v12h-12zM602 546h13v12h-13zM712 546h12v12h-12zM809 546h13v12h-13zM724 558h12v12h-12zM615 570h12v12h-12zM639 595h12v12h-12zM578 607h12v12h-12zM627 607h12v12h-12zM529 619h13v12h-13zM602 631h13v12h-13zM627 643h24v12h-24zM639 655h12v13h-12zM651 668h12v12h-12zM639 704h12v12h-12z"/>
<path fill="#edeb00" d="M724 339h12v12h-12zM676 351h12v13h-12zM785 388h12v12h-12zM676 412h12v12h-12zM712 412h12v12h-12zM785 449h12v12h-12zM590 461h25v12h-25zM749 461h12v12h-12zM773 461h12v12h-12zM554 473h12v12h-12zM578 473h12v12h-12zM602 473h37v12h-37zM797 473h12v12h-12zM602 497h13v13h-13zM822 558h12v12h-12zM761 570h12v12h-12zM809 570h13v12h-13zM749 582h12v13h-12zM602 595h13v12h-13zM736 595h13v12h-13zM724 607h12v12h-12zM590 631h12v12h-12zM809 631h13v12h-13zM773 643h12v12h-12zM529 655h13v13h-13zM676 655h12v13h-12zM517 668h12v12h-12zM615 668h24v12h-24zM822 668h12v12h-12zM578 680h12v12h-12zM688 692h12v12h-12zM834 692h12v12h-12zM822 704h12v12h-12zM529 716h13v12h-13zM736 716h13v12h-13zM822 716h12v12h-12z"/>
<path fill="#ebed00" d="M761 339h12v12h-12zM712 351h12v13h-12zM676 364h12v12h-12zM773 400h12v12h-12zM615 437h12v12h-12zM639 449h12v12h-12zM773 473h12v12h-12zM822 473h24v12h-24zM712 497h24v13h-24zM761 510h12v12h-12zM822 546h12v12h-12zM834 570h12v12h-12zM627 582h12v13h-12zM663 582h13v13h-13zM712 582h24v13h-24zM542 619h12v12h-12zM712 619h12v12h-12zM529 631h13v12h-13zM578 631h12v12h-12zM615 631h12v12h-12zM712 631h12v12h-12zM773 631h12v12h-12zM554 643h12v12h-12zM797 643h12v12h-12zM700 655h12v13h-12zM785 655h12v13h-12zM834 655h12v13h-12zM578 668h12v12h-12zM542 680h12v12h-12zM627 680h12v12h-12zM761 680h12v12h-12zM676 692h12v12h-12zM712 692h12v12h-12zM749 692h12v12h-12zM785 692h12v12h-12zM761 704h12v12h-12zM615 716h12v12h-12zM785 716h12v12h-12z"/>
<path fill="#fbb400" d="M797 339h25v12h-25zM529 364h13v12h-13zM797 364h12v12h-12zM676 558h12v12h-12z"/>
<path fill="#fbad00" d="M529 351h13v13h-13zM749 376h12v12h-12zM542 522h12v12h-12z"/>
<path fill="#fca600" d="M566 364h12v12h-12z"/>
<path fill="#e6f500" d="M663 364h13v12h-13zM676 376h12v12h-12zM602 424h13v13h-13zM834 534h12v12h-12zM736 607h13v12h-13zM700 631h12v12h-12zM761 643h12v12h-12zM602 655h13v13h-13zM651 655h12v13h-12zM761 655h12v13h-12zM676 668h12v12h-12zM517 680h12v12h-12zM639 680h12v12h-12zM676 680h12v12h-12zM517 692h25v12h-25zM627 692h12v12h-12zM554 704h12v12h-12zM700 716h12v12h-12zM749 716h12v12h-12zM809 716h13v12h-13z"/>
<path fill="#e7f300" d="M712 364h12v12h-12zM785 485h12v12h-12zM834 522h12v12h-12zM797 570h12v12h-12zM676 595h12v12h-12zM749 595h12v12h-12zM773 607h12v12h-12zM651 619h12v12h-12zM700 619h12v12h-12zM676 643h12v12h-12zM822 643h12v12h-12zM529 680h13v12h-13zM651 680h12v12h-12zM578 692h12v12h-12zM615 704h12v12h-12zM773 704h12v12h-12zM651 716h12v12h-12z"/>
<path fill="#e9f100" d="M615 388h12v12h-12zM749 485h12v12h-12zM712 558h12v12h-12zM700 582h12v13h-12zM688 595h12v12h-12zM724 595h12v12h-12zM712 607h12v12h-12zM724 619h12v12h-12zM627 631h12v12h-12zM785 643h12v12h-12zM542 655h24v13h-24zM578 655h24v13h-24zM615 655h24v13h-24zM688 655h12v13h-12zM554 668h12v12h-12zM773 680h12v12h-12zM554 692h24v12h-24zM761 692h24v12h-24zM627 704h12v12h-12z"/>
<path fill="#eee900" d="M554 400h12v12h-12zM590 424h12v13h-12zM663 424h13v13h-13zM688 437h12v12h-12zM663 449h13v12h-13zM773 449h12v12h-12zM554 461h12v12h-12zM676 461h24v12h-24zM785 473h12v12h-12zM615 485h12v12h-12zM773 485h12v12h-12zM615 510h12v12h-12zM712 510h12v12h-12zM822 510h12v12h-12zM809 534h13v12h-13zM712 570h12v12h-12zM676 582h12v13h-12zM785 582h12v13h-12zM615 607h12v12h-12zM517 619h12v12h-12zM578 619h12v12h-12zM773 619h12v12h-12zM542 631h12v12h-12zM639 631h12v12h-12zM663 631h13v12h-13zM578 643h24v12h-24zM724 643h12v12h-12zM663 668h13v12h-13zM688 668h12v12h-12zM724 668h12v12h-12zM834 668h12v12h-12zM517 704h12v12h-12zM688 704h12v12h-12zM749 704h12v12h-12zM809 704h13v12h-13zM688 716h12v12h-12z"/>
<path fill="#e3f900" d="M602 412h13v12h-13zM761 473h12v12h-12zM724 570h12v12h-12zM712 595h12v12h-12zM700 607h12v12h-12zM590 619h12v12h-12zM639 619h12v12h-12zM676 619h12v12h-12zM736 619h25v12h-25zM736 631h13v12h-13zM529 643h25v12h-25zM700 643h12v12h-12zM749 643h12v12h-12zM517 655h12v13h-12zM749 655h12v13h-12zM639 692h12v12h-12zM663 692h13v12h-13zM651 704h12v12h-12zM797 704h12v12h-12zM542 716h12v12h-12zM834 716h12v12h-12z"/>
<path fill="#eaef00" d="M676 424h12v13h-12zM688 473h12v12h-12zM602 485h13v12h-13zM797 485h12v12h-12zM834 497h12v13h-12zM785 558h24v12h-24zM834 558h12v12h-12zM639 582h12v13h-12zM651 595h12v12h-12zM639 607h12v12h-12zM688 607h12v12h-12zM761 607h12v12h-12zM615 619h24v12h-24zM615 643h12v12h-12zM809 643h13v12h-13zM663 655h13v13h-13zM529 668h13v12h-13zM700 668h12v12h-12zM749 668h12v12h-12zM809 668h13v12h-13zM566 680h12v12h-12zM749 680h12v12h-12zM615 692h12v12h-12zM529 704h13v12h-13zM700 704h12v12h-12zM736 704h13v12h-13z"/>
<path fill="#e1fa00" d="M834 546h12v12h-12zM700 595h12v12h-12zM590 607h12v12h-12zM602 619h13v12h-13zM663 619h13v12h-13zM724 631h12v12h-12zM822 631h12v12h-12zM590 668h25v12h-25zM602 680h13v12h-13zM542 704h12v12h-12zM566 704h24v12h-24zM663 704h13v12h-13zM663 716h13v12h-13zM773 716h12v12h-12z"/>
<path fill="#dbfa00" d="M602 607h13v12h-13zM749 631h12v12h-12zM542 692h12v12h-12zM724 704h12v12h-12zM590 716h12v12h-12z"/>
<path fill="#defa00" d="M651 607h37v12h-37zM688 619h12v12h-12zM517 631h12v12h-12zM676 631h12v12h-12zM736 655h13v13h-13zM773 655h12v13h-12zM736 668h13v12h-13zM773 668h24v12h-24zM554 680h12v12h-12zM590 680h12v12h-12zM651 692h12v12h-12zM797 716h12v12h-12z"/>
<path fill="#e4f700" d="M688 631h12v12h-12zM761 631h12v12h-12zM517 643h12v12h-12zM688 643h12v12h-12zM736 643h13v12h-13zM797 655h25v13h-25zM761 668h12v12h-12zM797 668h12v12h-12zM615 680h12v12h-12zM663 680h13v12h-13zM602 692h13v12h-13zM590 704h12v12h-12zM785 704h12v12h-12zM834 704h12v12h-12zM517 716h12v12h-12zM602 716h13v12h-13zM639 716h12v12h-12zM761 716h12v12h-12z"/>
<path fill="#d7fa00" d="M590 692h12v12h-12zM676 704h12v12h-12zM554 716h12v12h-12zM578 716h12v12h-12zM676 716h12v12h-12z"/>
<path fill="#d4fa00" d="M602 704h13v12h-13zM712 704h12v12h-12z"/>
<path fill="#d1f900" d="M566 716h12v12h-12zM712 716h24v12h-24z"/>
</g>
<g shape-rendering="crispEdges">
<path fill="#fbc600" d="M918 314h30v30h-30zM918 344h30v29h-30zM1217 373h30v30h-30zM948 433h29v30h-29zM977 493h30v30h-30zM948 523h29v29h-29zM918 552h30v30h-30z"/>
<path fill="#f9d900" d="M948 314h59v30h-59zM948 344h29v29h-29zM948 373h29v30h-29zM918 433h30v30h-30zM977 433h90v30h-90zM918 463h59v30h-59zM1007 463h30v30h-30zM948 493h29v30h-29zM1007 493h30v30h-30zM918 523h30v29h-30zM977 523h90v29h-90zM948 552h29v30h-29zM1007 552h90v30h-90zM918 582h119v30h-119zM918 612h59v30h-59zM1157 612h60v30h-60zM1097 642h30v30h-30z"/>
<path fill="#eaef00" d="M1007 314h30v30h-30zM1097 314h90v30h-90zM977 344h30v29h-30zM1037 344h30v29h-30zM1097 344h150v29h-150zM977 373h30v30h-30zM1127 373h30v30h-30zM1187 373h30v30h-30zM1067 403h90v30h-90zM1187 403h30v30h-30zM1217 433h30v30h-30zM977 463h30v30h-30zM1037 463h90v30h-90zM1157 463h90v30h-90zM918 493h30v30h-30zM1037 493h120v30h-120zM1127 523h30v29h-30zM1187 552h30v30h-30zM1037 582h60v30h-60zM1157 582h30v30h-30zM977 612h60v30h-60zM1067 612h30v30h-30zM1127 612h30v30h-30zM1217 612h30v30h-30zM918 642h59v30h-59zM1037 642h60v30h-60zM1127 642h30v30h-30zM918 672h30v30h-30zM948 702h29v30h-29z"/>
<path fill="#e3f900" d="M1037 314h30v30h-30zM1157 373h30v30h-30zM1037 403h30v30h-30zM1157 403h30v30h-30zM1127 463h30v30h-30zM1157 493h90v30h-90zM1157 523h90v29h-90zM977 642h30v30h-30zM948 672h179v30h-179zM977 702h120v30h-120z"/>
<path fill="#f2e300" d="M1067 314h30v30h-30zM1187 314h60v30h-60zM1067 344h30v29h-30zM1097 373h30v30h-30zM918 403h119v30h-119zM1217 403h30v30h-30zM1067 433h150v30h-150zM1067 523h60v29h-60zM1097 552h90v30h-90zM1097 582h60v30h-60zM918 702h30v30h-30z"/>
<path fill="#d1f900" d="M1037 373h30v30h-30zM1217 642h30v30h-30zM1097 702h30v30h-30z"/>
<path fill="#bdf900" d="M1217 552h30v30h-30zM1217 672h30v30h-30z"/>
<path fill="#fbb100" d="M1097 612h30v30h-30zM1007 642h30v30h-30zM1157 642h30v30h-30z"/>
</g>
<g shape-rendering="crispEdges">
<path fill="#e3f900" d="M1291 313h30v30h-30zM1350 313h90v30h-90zM1470 313h30v30h-30zM1530 313h29v30h-29zM1410 343h30v30h-30zM1470 373h60v30h-60zM1559 373h60v30h-60zM1380 403h30v30h-30zM1440 403h30v30h-30zM1530 403h89v30h-89zM1291 433h30v30h-30zM1440 433h149v30h-149zM1321 463h29v30h-29zM1410 463h60v30h-60zM1530 463h89v30h-89zM1350 493h120v29h-120zM1559 493h60v29h-60zM1410 522h30v30h-30zM1470 522h30v30h-30zM1530 522h29v30h-29zM1380 552h60v30h-60zM1470 552h30v30h-30zM1410 582h30v30h-30zM1470 582h89v30h-89zM1380 612h30v30h-30zM1470 612h30v30h-30zM1530 612h29v30h-29zM1380 642h60v30h-60zM1470 642h60v30h-60zM1291 672h59v30h-59zM1410 672h60v30h-60zM1350 702h120v30h-120z"/>
<path fill="#eaef00" d="M1321 313h29v30h-29zM1440 313h30v30h-30zM1500 313h30v30h-30zM1291 343h59v30h-59zM1559 343h60v30h-60zM1321 373h29v30h-29zM1530 373h29v30h-29zM1291 403h89v30h-89zM1500 403h30v30h-30zM1321 433h29v30h-29zM1380 433h60v30h-60zM1350 463h60v30h-60zM1470 463h30v30h-30zM1321 493h29v29h-29zM1500 493h59v29h-59zM1321 522h29v30h-29zM1440 522h30v30h-30zM1500 522h30v30h-30zM1559 522h60v30h-60zM1440 552h30v30h-30zM1500 552h30v30h-30zM1559 552h30v30h-30zM1291 582h30v30h-30zM1350 582h60v30h-60zM1291 612h59v30h-59zM1500 612h30v30h-30zM1559 612h30v30h-30zM1291 642h30v30h-30zM1350 642h30v30h-30zM1440 642h30v30h-30zM1470 672h30v30h-30zM1321 702h29v30h-29z"/>
<path fill="#f2e300" d="M1559 313h60v30h-60zM1350 343h30v30h-30zM1440 343h30v30h-30zM1530 343h29v30h-29zM1470 403h30v30h-30zM1350 433h30v30h-30zM1589 433h30v30h-30zM1291 463h30v30h-30zM1291 493h30v29h-30zM1350 522h30v30h-30zM1530 552h29v30h-29zM1321 582h29v30h-29zM1440 582h30v30h-30zM1440 612h30v30h-30zM1321 642h29v30h-29zM1530 642h29v30h-29zM1350 672h60v30h-60z"/>
<path fill="#d1f900" d="M1470 343h60v30h-60zM1500 463h30v30h-30zM1589 552h30v30h-30zM1350 612h30v30h-30zM1589 642h30v30h-30zM1291 702h30v30h-30zM1470 702h30v30h-30z"/>
<path fill="#f9d900" d="M1350 373h30v30h-30zM1470 493h30v29h-30zM1291 522h30v30h-30zM1380 522h30v30h-30zM1321 552h29v30h-29z"/>
<path fill="#bdf900" d="M1410 373h30v30h-30zM1410 403h30v30h-30zM1589 672h30v30h-30z"/>
<path fill="#fbc600" d="M1291 552h30v30h-30zM1589 612h30v30h-30z"/>
</g>
<g shape-rendering="crispEdges">
<path fill="#fbc600" d="M142 788h12v12h-12zM142 813h25v12h-25zM264 886h12v12h-12zM422 934h12v13h-12zM422 947h12v12h-12zM385 959h13v12h-13zM446 959h12v12h-12zM422 971h12v12h-12zM349 1080h12v13h-12zM337 1154h12v12h-12z"/>
<path fill="#fad000" d="M154 788h13v12h-13zM191 800h12v13h-12zM446 800h12v13h-12zM167 813h12v12h-12zM179 825h12v12h-12zM239 861h13v13h-13zM239 874h25v12h-25zM434 922h12v12h-12zM446 934h12v13h-12zM373 947h12v12h-12zM410 995h12v12h-12zM422 1007h12v13h-12zM349 1068h12v12h-12zM325 1141h12v13h-12zM227 1190h12v12h-12z"/>
<path fill="#fad400" d="M167 788h12v12h-12zM361 788h12v12h-12zM422 788h24v12h-24zM179 800h12v13h-12zM434 813h12v12h-12zM142 837h12v12h-12zM458 837h12v12h-12zM227 849h25v12h-25zM264 874h12v12h-12zM239 886h25v12h-25zM252 898h24v12h-24zM385 922h49v12h-49zM458 934h12v13h-12zM458 947h12v12h-12z"/>
<path fill="#f8db00" d="M179 788h12v12h-12zM215 788h12v12h-12zM227 800h12v13h-12zM349 800h12v13h-12zM385 800h13v13h-13zM373 813h12v12h-12zM422 813h12v12h-12zM361 825h12v12h-12zM215 849h12v12h-12zM154 861h13v13h-13zM227 861h12v13h-12zM227 874h12v12h-12zM288 874h12v12h-12zM398 886h24v12h-24zM434 886h12v12h-12zM239 898h13v12h-13zM434 898h12v12h-12zM252 910h24v12h-24zM398 910h36v12h-36zM458 910h12v12h-12zM337 995h12v12h-12zM398 995h12v12h-12zM312 1007h25v13h-25zM337 1020h12v12h-12zM410 1020h12v12h-12zM337 1068h12v12h-12zM337 1080h12v13h-12zM325 1105h12v12h-12zM300 1141h25v13h-25zM288 1154h24v12h-24zM227 1178h12v12h-12z"/>
<path fill="#fad700" d="M191 788h24v12h-24zM373 788h37v12h-37zM203 800h12v13h-12zM373 800h12v13h-12zM398 800h12v13h-12zM422 800h12v13h-12zM361 813h12v12h-12zM434 825h12v12h-12zM154 837h25v12h-25zM446 837h12v12h-12zM154 849h13v12h-13zM252 849h12v12h-12zM288 849h12v12h-12zM276 861h12v13h-12zM276 874h12v12h-12zM276 886h12v12h-12zM385 898h13v12h-13zM422 898h12v12h-12zM434 910h24v12h-24zM446 922h24v12h-24zM373 934h12v13h-12zM373 959h12v12h-12zM373 971h12v12h-12zM337 1007h12v13h-12zM325 1117h12v12h-12zM276 1166h12v12h-12z"/>
<path fill="#f6dd00" d="M227 788h12v12h-12zM215 800h12v13h-12zM349 813h12v12h-12zM398 813h12v12h-12zM203 825h12v12h-12zM349 825h12v12h-12zM398 825h12v12h-12zM227 837h12v12h-12zM264 837h36v12h-36zM398 837h12v12h-12zM434 837h12v12h-12zM167 849h24v12h-24zM167 861h12v13h-12zM446 861h24v13h-24zM385 886h13v12h-13zM422 886h12v12h-12zM361 898h12v12h-12zM373 922h12v12h-12zM300 1007h12v13h-12zM398 1032h12v12h-12zM325 1093h12v12h-12zM239 1178h13v12h-13zM203 1190h12v12h-12z"/>
<path fill="#f2e300" d="M239 788h13v12h-13zM312 788h25v12h-25zM312 800h25v13h-25zM227 813h12v12h-12zM312 837h13v12h-13zM337 837h12v12h-12zM410 837h24v12h-24zM191 849h12v12h-12zM325 849h36v12h-36zM410 849h12v12h-12zM312 861h13v13h-13zM337 861h12v13h-12zM398 861h12v13h-12zM422 861h12v13h-12zM167 874h12v12h-12zM191 874h24v12h-24zM312 874h13v12h-13zM373 874h12v12h-12zM398 874h12v12h-12zM434 874h12v12h-12zM446 886h24v12h-24zM227 898h12v12h-12zM312 898h13v12h-13zM361 910h12v12h-12zM252 922h12v12h-12zM288 922h12v12h-12zM288 934h12v13h-12zM312 934h13v13h-13zM361 934h12v13h-12zM325 959h12v12h-12zM312 983h25v12h-25zM361 995h12v12h-12zM154 1020h13v12h-13zM300 1020h12v12h-12zM349 1032h12v12h-12zM325 1044h12v12h-12zM361 1044h12v12h-12zM337 1056h12v12h-12zM312 1093h13v12h-13zM312 1105h13v12h-13zM264 1117h12v12h-12zM288 1141h12v13h-12zM276 1154h12v12h-12zM203 1178h12v12h-12z"/>
<path fill="#eee900" d="M252 788h12v12h-12zM252 825h24v12h-24zM312 825h13v12h-13zM410 861h12v13h-12zM167 886h12v12h-12zM227 922h12v12h-12zM239 934h13v13h-13zM349 934h12v13h-12zM288 947h12v12h-12zM288 959h12v12h-12zM300 971h12v12h-12zM349 1020h12v12h-12zM361 1032h12v12h-12zM300 1044h12v12h-12zM300 1056h12v12h-12zM300 1068h12v12h-12zM300 1093h12v12h-12zM264 1105h12v12h-12zM288 1129h12v12h-12zM179 1178h24v12h-24z"/>
<path fill="#e9f100" d="M264 788h12v12h-12zM142 898h25v12h-25zM179 898h36v12h-36zM337 922h12v12h-12zM179 934h12v13h-12zM337 934h12v13h-12zM215 947h12v12h-12zM264 947h12v12h-12zM142 971h25v12h-25zM252 971h24v12h-24zM288 971h12v12h-12zM276 995h12v12h-12zM385 1007h13v13h-13zM373 1020h25v12h-25zM239 1032h13v12h-13zM385 1032h13v12h-13zM264 1056h24v12h-24zM276 1068h12v12h-12zM288 1080h12v13h-12zM215 1105h12v12h-12zM252 1105h12v12h-12zM191 1117h12v12h-12zM167 1129h12v12h-12zM203 1129h36v12h-36zM264 1141h12v13h-12zM167 1154h24v12h-24zM203 1154h12v12h-12zM167 1166h12v12h-12zM203 1166h24v12h-24zM142 1178h25v12h-25zM142 1190h25v12h-25z"/>
<path fill="#eaef00" d="M276 788h24v12h-24zM276 800h24v13h-24zM264 813h24v12h-24zM167 898h12v12h-12zM337 898h12v12h-12zM167 910h12v12h-12zM337 910h12v12h-12zM167 922h12v12h-12zM215 922h12v12h-12zM203 934h24v13h-24zM167 947h12v12h-12zM239 947h25v12h-25zM252 959h24v12h-24zM142 983h12v12h-12zM154 995h13v12h-13zM239 1020h13v12h-13zM167 1032h12v12h-12zM252 1032h36v12h-36zM142 1044h12v12h-12zM252 1044h12v12h-12zM288 1044h12v12h-12zM288 1056h12v12h-12zM276 1093h24v12h-24zM288 1105h24v12h-24zM203 1117h12v12h-12zM239 1117h13v12h-13zM179 1129h24v12h-24zM179 1141h48v13h-48z"/>
<path fill="#efe700" d="M300 788h12v12h-12zM239 800h13v13h-13zM312 813h13v12h-13zM434 861h12v13h-12zM179 874h12v12h-12zM325 874h12v12h-12zM349 874h12v12h-12zM312 886h25v12h-25zM215 898h12v12h-12zM264 922h12v12h-12zM300 922h12v12h-12zM349 922h12v12h-12zM325 947h36v12h-36zM300 959h12v12h-12zM300 983h12v12h-12zM142 995h12v12h-12zM373 995h12v12h-12zM288 1007h12v13h-12zM142 1032h12v12h-12zM288 1032h12v12h-12zM276 1117h12v12h-12zM276 1141h12v13h-12z"/>
<path fill="#f3e100" d="M337 788h12v12h-12zM337 800h12v13h-12zM337 813h12v12h-12zM337 825h12v12h-12zM410 825h12v12h-12zM239 837h13v12h-13zM325 837h12v12h-12zM361 837h24v12h-24zM203 849h12v12h-12zM385 849h13v12h-13zM422 849h12v12h-12zM179 861h12v13h-12zM215 861h12v13h-12zM325 861h12v13h-12zM361 861h12v13h-12zM154 874h13v12h-13zM215 874h12v12h-12zM410 874h24v12h-24zM446 874h24v12h-24zM215 886h12v12h-12zM288 886h12v12h-12zM349 886h12v12h-12zM300 898h12v12h-12zM361 971h12v12h-12zM361 983h12v12h-12zM312 995h13v12h-13zM349 995h12v12h-12zM154 1007h13v13h-13zM337 1032h12v12h-12zM337 1044h24v12h-24zM373 1044h12v12h-12zM312 1056h13v12h-13zM312 1080h25v13h-25zM312 1117h13v12h-13z"/>
<path fill="#f9d900" d="M349 788h12v12h-12zM410 788h12v12h-12zM361 800h12v13h-12zM410 800h12v13h-12zM191 813h24v12h-24zM385 813h13v12h-13zM191 825h12v12h-12zM373 825h25v12h-25zM179 837h12v12h-12zM215 837h12v12h-12zM142 849h12v12h-12zM264 849h24v12h-24zM458 849h12v12h-12zM142 861h12v13h-12zM264 861h12v13h-12zM288 861h12v13h-12zM361 886h24v12h-24zM276 898h12v12h-12zM373 898h12v12h-12zM398 898h24v12h-24zM239 910h13v12h-13zM373 910h25v12h-25zM385 983h13v12h-13zM410 1007h12v13h-12zM312 1020h25v12h-25zM349 1056h12v12h-12zM337 1093h12v12h-12zM312 1154h13v12h-13zM215 1190h12v12h-12z"/>
<path fill="#facd00" d="M446 788h12v12h-12zM434 800h12v13h-12zM458 813h12v12h-12zM446 825h24v12h-24zM252 861h12v13h-12zM434 934h12v13h-12zM446 947h12v12h-12zM458 959h12v12h-12zM385 971h13v12h-13zM398 983h12v12h-12zM422 1020h12v12h-12zM410 1032h12v12h-12zM398 1044h12v12h-12zM361 1056h37v12h-37zM325 1154h12v12h-12zM288 1166h37v12h-37z"/>
<path fill="#fac900" d="M458 788h12v12h-12zM154 800h25v13h-25zM179 813h12v12h-12zM446 813h12v12h-12zM167 825h12v12h-12zM385 934h37v13h-37zM385 947h13v12h-13zM434 947h12v12h-12zM434 959h12v12h-12zM422 995h12v12h-12zM325 1129h12v12h-12zM252 1178h12v12h-12zM239 1190h13v12h-13z"/>
<path fill="#fbc200" d="M142 800h12v13h-12zM142 825h12v12h-12zM398 959h12v12h-12zM398 971h12v12h-12zM434 971h24v12h-24zM410 983h12v12h-12zM434 983h12v12h-12zM434 995h12v12h-12zM446 1007h24v13h-24zM434 1020h24v12h-24zM410 1044h12v12h-12zM337 1105h12v12h-12zM337 1117h12v12h-12zM337 1141h12v13h-12zM325 1166h12v12h-12zM458 1190h12v12h-12z"/>
<path fill="#edeb00" d="M252 800h12v13h-12zM300 800h12v13h-12zM252 813h12v12h-12zM239 825h13v12h-13zM288 825h12v12h-12zM179 886h24v12h-24zM337 886h12v12h-12zM325 898h12v12h-12zM215 910h12v12h-12zM325 910h12v12h-12zM264 934h12v13h-12zM325 934h12v13h-12zM276 947h12v12h-12zM239 959h13v12h-13zM276 959h12v12h-12zM288 995h12v12h-12zM252 1020h36v12h-36zM154 1032h13v12h-13zM373 1032h12v12h-12zM300 1080h12v13h-12zM276 1105h12v12h-12zM276 1129h12v12h-12zM167 1190h24v12h-24z"/>
<path fill="#ebed00" d="M264 800h12v13h-12zM239 813h13v12h-13zM276 825h12v12h-12zM154 886h13v12h-13zM203 886h12v12h-12zM325 922h12v12h-12zM191 934h12v13h-12zM227 934h12v13h-12zM252 934h12v13h-12zM227 947h12v12h-12zM167 959h12v12h-12zM288 983h12v12h-12zM167 1007h12v13h-12zM276 1007h12v13h-12zM361 1007h24v13h-24zM167 1020h12v12h-12zM361 1020h12v12h-12zM264 1044h24v12h-24zM288 1068h12v12h-12zM227 1117h12v12h-12zM252 1117h12v12h-12zM288 1117h12v12h-12zM264 1129h12v12h-12zM191 1154h12v12h-12zM179 1166h24v12h-24zM252 1166h12v12h-12zM167 1178h12v12h-12z"/>
<path fill="#fbbf00" d="M458 800h12v13h-12zM154 825h13v12h-13zM398 947h24v12h-24zM410 971h12v12h-12zM458 971h12v12h-12zM422 983h12v12h-12zM434 1007h12v13h-12zM398 1056h12v12h-12zM361 1068h12v12h-12zM349 1105h12v12h-12zM337 1129h12v12h-12zM446 1190h12v12h-12z"/>
<path fill="#f5df00" d="M215 813h12v12h-12zM410 813h12v12h-12zM215 825h12v12h-12zM422 825h12v12h-12zM191 837h24v12h-24zM252 837h12v12h-12zM300 837h12v12h-12zM349 837h12v12h-12zM385 837h13v12h-13zM300 849h12v12h-12zM446 849h12v12h-12zM203 861h12v13h-12zM300 861h12v13h-12zM142 874h12v12h-12zM300 874h12v12h-12zM361 874h12v12h-12zM385 874h13v12h-13zM227 886h12v12h-12zM446 898h24v12h-24zM276 910h12v12h-12zM312 910h13v12h-13zM239 922h13v12h-13zM361 922h12v12h-12zM349 959h24v12h-24zM325 971h24v12h-24zM337 983h24v12h-24zM373 983h12v12h-12zM325 995h12v12h-12zM142 1007h12v13h-12zM142 1020h12v12h-12zM312 1032h13v12h-13zM385 1044h13v12h-13zM325 1068h12v12h-12zM300 1129h25v12h-25zM215 1178h12v12h-12z"/>
<path fill="#e7f300" d="M288 813h12v12h-12zM154 910h13v12h-13zM179 910h36v12h-36zM179 922h12v12h-12zM154 934h25v13h-25zM179 947h36v12h-36zM142 959h25v12h-25zM167 971h12v12h-12zM276 971h12v12h-12zM154 983h13v12h-13zM252 983h12v12h-12zM239 1007h37v13h-37zM227 1020h12v12h-12zM227 1032h12v12h-12zM154 1044h13v12h-13zM252 1056h12v12h-12zM264 1068h12v12h-12zM264 1093h12v12h-12zM203 1105h12v12h-12zM227 1105h25v12h-25zM215 1117h12v12h-12zM252 1129h12v12h-12zM227 1141h12v13h-12zM215 1154h12v12h-12zM264 1154h12v12h-12z"/>
<path fill="#f1e500" d="M300 813h12v12h-12zM325 813h12v12h-12zM227 825h12v12h-12zM300 825h12v12h-12zM325 825h12v12h-12zM312 849h13v12h-13zM361 849h24v12h-24zM398 849h12v12h-12zM434 849h12v12h-12zM191 861h12v13h-12zM349 861h12v13h-12zM373 861h25v13h-25zM337 874h12v12h-12zM142 886h12v12h-12zM300 886h12v12h-12zM288 898h12v12h-12zM349 898h12v12h-12zM227 910h12v12h-12zM288 910h24v12h-24zM349 910h12v12h-12zM276 922h12v12h-12zM312 922h13v12h-13zM276 934h12v13h-12zM300 934h12v13h-12zM300 947h25v12h-25zM361 947h12v12h-12zM312 959h13v12h-13zM337 959h12v12h-12zM312 971h13v12h-13zM349 971h12v12h-12zM300 995h12v12h-12zM385 995h13v12h-13zM349 1007h12v13h-12zM398 1007h12v13h-12zM288 1020h12v12h-12zM398 1020h12v12h-12zM300 1032h12v12h-12zM325 1032h12v12h-12zM312 1044h13v12h-13zM325 1056h12v12h-12zM312 1068h13v12h-13zM300 1117h12v12h-12zM264 1166h12v12h-12zM191 1190h12v12h-12z"/>
<path fill="#e4f700" d="M142 910h12v12h-12zM142 922h25v12h-25zM191 922h12v12h-12zM142 947h12v12h-12zM179 971h12v12h-12zM239 983h13v12h-13zM264 983h12v12h-12zM167 995h24v12h-24zM227 995h12v12h-12zM215 1007h12v13h-12zM179 1020h24v12h-24zM227 1044h12v12h-12zM142 1056h37v12h-37zM252 1068h12v12h-12zM179 1080h12v13h-12zM264 1080h24v13h-24zM142 1093h12v12h-12zM203 1093h12v12h-12zM239 1093h13v12h-13zM179 1105h12v12h-12zM179 1117h12v12h-12zM154 1154h13v12h-13zM142 1166h12v12h-12zM239 1166h13v12h-13z"/>
<path fill="#e6f500" d="M203 922h12v12h-12zM154 947h13v12h-13zM179 959h12v12h-12zM215 959h24v12h-24zM191 971h12v12h-12zM227 971h25v12h-25zM276 983h12v12h-12zM252 995h24v12h-24zM179 1007h24v13h-24zM167 1044h12v12h-12zM239 1044h13v12h-13zM191 1093h12v12h-12zM215 1093h24v12h-24zM252 1093h12v12h-12zM191 1105h12v12h-12zM154 1129h13v12h-13zM239 1129h13v12h-13zM154 1141h25v13h-25zM154 1166h13v12h-13zM227 1166h12v12h-12z"/>
<path fill="#e3f900" d="M142 934h12v13h-12zM191 959h12v12h-12zM203 971h12v12h-12zM167 983h12v12h-12zM203 983h12v12h-12zM227 983h12v12h-12zM191 995h12v12h-12zM215 995h12v12h-12zM203 1007h12v13h-12zM227 1007h12v13h-12zM215 1020h12v12h-12zM179 1032h12v12h-12zM227 1056h25v12h-25zM142 1068h12v12h-12zM215 1068h12v12h-12zM239 1068h13v12h-13zM154 1080h13v13h-13zM215 1080h12v13h-12zM252 1080h12v13h-12zM154 1093h13v12h-13zM179 1093h12v12h-12zM154 1105h25v12h-25zM142 1129h12v12h-12zM142 1141h12v13h-12zM252 1141h12v13h-12zM142 1154h12v12h-12z"/>
<path fill="#e1fa00" d="M203 959h12v12h-12zM179 983h24v12h-24zM215 983h12v12h-12zM203 995h12v12h-12zM239 995h13v12h-13zM215 1032h12v12h-12zM215 1044h12v12h-12zM215 1056h12v12h-12zM154 1068h25v12h-25zM227 1068h12v12h-12zM167 1080h12v13h-12zM203 1080h12v13h-12zM239 1080h13v13h-13zM167 1093h12v12h-12zM142 1105h12v12h-12zM142 1117h37v12h-37zM239 1141h13v13h-13z"/>
<path fill="#fbb400" d="M410 959h12v12h-12zM458 983h12v12h-12zM410 1056h12v12h-12zM398 1068h12v12h-12zM385 1080h13v13h-13zM373 1093h12v12h-12zM398 1093h12v12h-12zM349 1129h12v12h-12zM349 1154h12v12h-12zM349 1166h12v12h-12zM264 1178h24v12h-24zM337 1178h12v12h-12zM252 1190h12v12h-12z"/>
<path fill="#fbb800" d="M422 959h12v12h-12zM446 995h24v12h-24zM434 1032h12v12h-12zM373 1068h12v12h-12zM361 1080h12v13h-12zM458 1178h12v12h-12z"/>
<path fill="#defa00" d="M215 971h12v12h-12zM203 1020h12v12h-12zM179 1044h12v12h-12zM179 1056h12v12h-12zM179 1068h12v12h-12zM142 1080h12v13h-12zM191 1080h12v13h-12zM227 1080h12v13h-12zM252 1154h12v12h-12z"/>
<path fill="#fbbb00" d="M446 983h12v12h-12zM458 1020h12v12h-12zM422 1032h12v12h-12zM349 1093h12v12h-12zM349 1117h12v12h-12zM349 1141h12v13h-12zM337 1166h12v12h-12z"/>
<path fill="#d7fa00" d="M191 1032h12v12h-12zM239 1154h13v12h-13z"/>
<path fill="#dbfa00" d="M203 1032h12v12h-12zM191 1068h24v12h-24zM227 1154h12v12h-12z"/>
<path fill="#fca600" d="M446 1032h12v12h-12zM434 1044h12v12h-12zM410 1093h12v12h-12zM458 1166h12v12h-12zM373 1178h12v12h-12z"/>
<path fill="#fcaa00" d="M458 1032h12v12h-12zM422 1056h12v12h-12zM422 1068h12v12h-12zM398 1105h12v12h-12zM373 1117h25v12h-25zM373 1129h25v12h-25zM312 1178h25v12h-25zM361 1178h12v12h-12zM373 1190h12v12h-12z"/>
<path fill="#d4fa00" d="M191 1044h24v12h-24zM191 1056h24v12h-24z"/>
<path fill="#fbb100" d="M422 1044h12v12h-12zM385 1068h13v12h-13zM410 1068h12v12h-12zM410 1080h12v13h-12zM361 1117h12v12h-12zM300 1178h12v12h-12zM349 1178h12v12h-12zM446 1178h12v12h-12zM325 1190h12v12h-12zM349 1190h12v12h-12z"/>
<path fill="#fca300" d="M446 1044h12v12h-12zM422 1080h12v13h-12zM422 1093h12v12h-12zM410 1105h24v12h-24zM398 1117h12v12h-12zM373 1141h12v13h-12zM276 1190h24v12h-24zM312 1190h13v12h-13z"/>
<path fill="#fc9900" d="M458 1044h12v12h-12zM434 1080h12v13h-12zM422 1117h24v12h-24zM264 1190h12v12h-12zM434 1190h12v12h-12z"/>
<path fill="#fc9c00" d="M434 1056h12v12h-12zM434 1068h12v12h-12zM434 1093h12v12h-12zM434 1105h12v12h-12zM410 1117h12v12h-12zM410 1141h12v13h-12zM458 1154h12v12h-12zM446 1166h12v12h-12zM385 1178h13v12h-13zM300 1190h12v12h-12zM385 1190h13v12h-13z"/>
<path fill="#fc9600" d="M446 1056h12v12h-12zM446 1093h12v12h-12zM458 1105h12v12h-12zM446 1117h12v12h-12zM422 1129h12v12h-12zM446 1141h12v13h-12zM398 1154h12v12h-12zM434 1154h24v12h-24zM434 1178h12v12h-12z"/>
<path fill="#fc8f00" d="M458 1056h12v12h-12zM458 1093h12v12h-12zM446 1105h12v12h-12zM458 1117h12v12h-12zM434 1129h12v12h-12zM422 1141h12v13h-12zM458 1141h12v13h-12zM398 1178h24v12h-24zM398 1190h24v12h-24z"/>
<path fill="#fc9200" d="M446 1068h12v12h-12zM446 1080h12v13h-12zM458 1129h12v12h-12zM410 1154h12v12h-12zM398 1166h12v12h-12zM434 1166h12v12h-12z"/>
<path fill="#fc8c00" d="M458 1068h12v12h-12zM458 1080h12v13h-12zM446 1129h12v12h-12zM422 1154h12v12h-12zM422 1178h12v12h-12zM422 1190h12v12h-12z"/>
<path fill="#fbad00" d="M373 1080h12v13h-12zM398 1080h12v13h-12zM361 1093h12v12h-12zM385 1093h13v12h-13zM361 1105h37v12h-37zM361 1129h12v12h-12zM361 1141h12v13h-12zM288 1178h12v12h-12zM337 1190h12v12h-12zM361 1190h12v12h-12z"/>
<path fill="#fc9f00" d="M398 1129h24v12h-24zM385 1141h25v13h-25zM361 1154h37v12h-37zM361 1166h37v12h-37z"/>
<path fill="#fc8600" d="M434 1141h12v13h-12zM410 1166h24v12h-24z"/>
</g>
<g shape-rendering="crispEdges">
<path fill="#fc8c00" d="M517 788h12v12h-12zM542 788h12v12h-12zM578 788h12v12h-12zM822 788h12v12h-12zM578 800h12v13h-12zM602 800h13v13h-13zM712 800h24v13h-24zM542 813h12v12h-12zM627 813h24v12h-24zM590 825h12v12h-12zM773 825h12v12h-12zM785 837h12v12h-12zM809 837h13v12h-13zM542 861h12v13h-12zM627 861h24v13h-24zM700 861h12v13h-12zM773 861h12v13h-12zM797 861h12v13h-12zM578 886h12v12h-12zM688 886h12v12h-12zM566 898h12v12h-12zM529 910h13v12h-13zM712 910h12v12h-12zM736 910h13v12h-13zM639 934h12v13h-12zM834 947h12v12h-12zM517 959h12v12h-12zM590 959h12v12h-12zM797 959h37v12h-37zM578 971h12v12h-12zM785 971h12v12h-12zM529 983h13v12h-13zM602 983h13v12h-13zM822 983h12v12h-12zM627 995h12v12h-12zM809 995h25v12h-25zM566 1007h12v13h-12zM785 1007h12v13h-12zM809 1007h13v13h-13zM578 1020h12v12h-12zM639 1020h12v12h-12zM529 1032h13v12h-13zM566 1032h24v12h-24zM663 1032h13v12h-13zM761 1032h12v12h-12zM785 1032h12v12h-12zM822 1044h12v12h-12zM517 1056h12v12h-12zM542 1056h24v12h-24zM542 1068h12v12h-12zM676 1068h12v12h-12zM554 1080h12v13h-12zM639 1080h24v13h-24zM700 1080h12v13h-12zM761 1080h12v13h-12zM688 1093h12v12h-12zM724 1093h12v12h-12zM639 1105h12v12h-12zM700 1105h12v12h-12zM529 1117h13v12h-13zM627 1117h12v12h-12zM688 1117h12v12h-12zM736 1117h13v12h-13zM761 1117h12v12h-12zM639 1129h24v12h-24zM554 1141h12v13h-12zM700 1141h12v13h-12zM566 1154h12v12h-12zM688 1154h12v12h-12zM542 1166h12v12h-12zM615 1166h12v12h-12zM651 1166h12v12h-12zM688 1190h24v12h-24z"/>
<path fill="#fc9900" d="M529 788h13v12h-13zM663 788h13v12h-13zM688 788h12v12h-12zM615 800h12v13h-12zM700 800h12v13h-12zM651 813h12v12h-12zM529 825h13v12h-13zM676 825h12v12h-12zM834 825h12v12h-12zM602 861h13v13h-13zM590 874h12v12h-12zM749 874h12v12h-12zM578 898h12v12h-12zM822 898h12v12h-12zM554 910h12v12h-12zM651 910h25v12h-25zM724 910h12v12h-12zM651 922h12v12h-12zM724 922h12v12h-12zM590 934h12v13h-12zM663 934h13v13h-13zM712 934h12v13h-12zM797 934h12v13h-12zM749 947h12v12h-12zM542 971h24v12h-24zM651 971h12v12h-12zM542 983h12v12h-12zM651 983h12v12h-12zM749 983h12v12h-12zM554 995h12v12h-12zM663 995h13v12h-13zM700 995h12v12h-12zM602 1007h13v13h-13zM676 1007h12v13h-12zM834 1007h12v13h-12zM663 1020h13v12h-13zM834 1020h12v12h-12zM773 1032h12v12h-12zM542 1044h24v12h-24zM602 1056h13v12h-13zM602 1068h13v12h-13zM517 1080h12v13h-12zM566 1080h12v13h-12zM554 1093h12v12h-12zM615 1093h12v12h-12zM554 1105h12v12h-12zM663 1105h13v12h-13zM736 1105h25v12h-25zM517 1117h12v12h-12zM602 1117h13v12h-13zM676 1129h12v12h-12zM602 1141h13v13h-13zM542 1190h12v12h-12z"/>
<path fill="#fc9600" d="M554 788h12v12h-12zM615 788h12v12h-12zM761 788h12v12h-12zM834 788h12v12h-12zM529 800h13v13h-13zM736 800h13v13h-13zM761 800h12v13h-12zM554 813h12v12h-12zM602 813h25v12h-25zM761 825h12v12h-12zM542 837h12v12h-12zM529 849h13v12h-13zM676 849h12v12h-12zM712 849h12v12h-12zM822 849h12v12h-12zM590 861h12v13h-12zM676 861h12v13h-12zM736 861h13v13h-13zM761 861h12v13h-12zM663 874h13v12h-13zM773 874h12v12h-12zM542 886h12v12h-12zM590 886h25v12h-25zM639 886h12v12h-12zM822 886h12v12h-12zM554 898h12v12h-12zM797 898h12v12h-12zM517 910h12v12h-12zM785 910h12v12h-12zM542 934h12v13h-12zM602 934h13v13h-13zM651 934h12v13h-12zM736 934h25v13h-25zM809 934h13v13h-13zM627 947h12v12h-12zM724 947h12v12h-12zM773 947h24v12h-24zM651 959h12v12h-12zM676 959h12v12h-12zM773 959h12v12h-12zM529 971h13v12h-13zM676 971h12v12h-12zM554 983h12v12h-12zM590 983h12v12h-12zM627 983h24v12h-24zM676 983h12v12h-12zM736 983h13v12h-13zM542 995h12v12h-12zM566 995h12v12h-12zM651 995h12v12h-12zM736 995h13v12h-13zM797 995h12v12h-12zM834 995h12v12h-12zM542 1007h12v13h-12zM663 1007h13v13h-13zM602 1020h13v12h-13zM797 1020h12v12h-12zM712 1032h12v12h-12zM615 1056h12v12h-12zM663 1068h13v12h-13zM529 1080h13v13h-13zM627 1080h12v13h-12zM651 1093h12v12h-12zM529 1105h13v12h-13zM578 1105h12v12h-12zM602 1105h13v12h-13zM651 1105h12v12h-12zM676 1117h12v12h-12zM517 1129h25v12h-25zM663 1129h13v12h-13zM688 1129h12v12h-12zM517 1141h12v13h-12zM566 1141h12v13h-12zM615 1141h36v13h-36z"/>
<path fill="#fc8000" d="M566 788h12v12h-12zM736 788h13v12h-13zM773 788h12v12h-12zM712 813h12v12h-12zM809 813h13v12h-13zM834 813h12v12h-12zM566 825h12v12h-12zM712 825h12v12h-12zM517 837h12v12h-12zM688 837h12v12h-12zM736 837h13v12h-13zM602 849h37v12h-37zM736 849h25v12h-25zM517 898h25v12h-25zM822 910h12v12h-12zM566 922h12v12h-12zM615 922h12v12h-12zM554 934h12v13h-12zM578 947h12v12h-12zM627 971h12v12h-12zM797 971h25v12h-25zM761 995h12v12h-12zM749 1007h12v13h-12zM639 1032h12v12h-12zM590 1044h25v12h-25zM822 1056h12v12h-12zM785 1068h12v12h-12zM834 1080h12v13h-12zM590 1093h12v12h-12zM736 1093h13v12h-13zM627 1105h12v12h-12zM615 1117h12v12h-12zM663 1117h13v12h-13zM700 1117h12v12h-12zM627 1129h12v12h-12zM749 1129h12v12h-12zM797 1129h12v12h-12zM822 1129h12v12h-12zM797 1141h12v13h-12zM822 1141h12v13h-12zM529 1154h13v12h-13zM615 1154h12v12h-12zM724 1166h12v12h-12zM615 1178h12v12h-12zM676 1178h12v12h-12zM651 1190h12v12h-12zM761 1190h12v12h-12z"/>
<path fill="#fc8f00" d="M590 788h12v12h-12zM785 788h12v12h-12zM554 800h12v13h-12zM749 800h12v13h-12zM700 813h12v12h-12zM785 813h12v12h-12zM554 825h12v12h-12zM602 825h25v12h-25zM651 825h12v12h-12zM809 825h13v12h-13zM602 837h13v12h-13zM700 837h12v12h-12zM797 837h12v12h-12zM578 849h24v12h-24zM700 849h12v12h-12zM785 849h12v12h-12zM809 849h13v12h-13zM615 861h12v13h-12zM834 861h12v13h-12zM517 874h12v12h-12zM554 874h24v12h-24zM688 874h12v12h-12zM797 874h12v12h-12zM566 886h12v12h-12zM676 886h12v12h-12zM627 898h12v12h-12zM761 898h12v12h-12zM602 910h13v12h-13zM809 910h13v12h-13zM797 922h12v12h-12zM542 947h24v12h-24zM651 947h12v12h-12zM797 947h12v12h-12zM566 959h12v12h-12zM627 959h12v12h-12zM602 971h13v12h-13zM688 971h12v12h-12zM688 983h12v12h-12zM761 983h12v12h-12zM785 983h12v12h-12zM529 995h13v12h-13zM590 995h25v12h-25zM773 995h12v12h-12zM651 1007h12v13h-12zM724 1007h12v13h-12zM542 1020h24v12h-24zM736 1020h13v12h-13zM761 1020h12v12h-12zM785 1020h12v12h-12zM688 1032h24v12h-24zM809 1032h13v12h-13zM676 1044h24v12h-24zM809 1044h13v12h-13zM529 1056h13v12h-13zM663 1056h13v12h-13zM517 1068h12v12h-12zM554 1068h12v12h-12zM627 1068h12v12h-12zM712 1068h12v12h-12zM688 1080h12v13h-12zM712 1080h24v13h-24zM542 1093h12v12h-12zM627 1093h12v12h-12zM663 1093h13v12h-13zM542 1105h12v12h-12zM676 1105h12v12h-12zM639 1117h12v12h-12zM566 1129h24v12h-24zM615 1129h12v12h-12zM700 1129h12v12h-12zM529 1141h13v13h-13zM578 1141h24v13h-24zM651 1154h37v12h-37zM639 1166h12v12h-12zM736 1178h13v12h-13zM517 1190h25v12h-25z"/>
<path fill="#fc8900" d="M602 788h13v12h-13zM809 788h13v12h-13zM517 800h12v13h-12zM797 800h12v13h-12zM542 825h12v12h-12zM688 825h12v12h-12zM736 825h13v12h-13zM797 825h12v12h-12zM529 837h13v12h-13zM542 849h24v12h-24zM578 861h12v13h-12zM578 874h12v12h-12zM615 874h12v12h-12zM785 874h12v12h-12zM651 886h12v12h-12zM651 898h12v12h-12zM749 898h12v12h-12zM749 910h12v12h-12zM797 910h12v12h-12zM590 922h12v12h-12zM834 922h12v12h-12zM834 934h12v13h-12zM615 947h12v12h-12zM822 947h12v12h-12zM542 959h12v12h-12zM615 959h12v12h-12zM566 971h12v12h-12zM590 971h12v12h-12zM615 971h12v12h-12zM615 983h12v12h-12zM773 983h12v12h-12zM785 995h12v12h-12zM578 1007h24v13h-24zM615 1007h12v13h-12zM639 1007h12v13h-12zM566 1020h12v12h-12zM590 1020h12v12h-12zM615 1020h12v12h-12zM809 1020h25v12h-25zM590 1032h12v12h-12zM651 1032h12v12h-12zM639 1044h24v12h-24zM700 1044h12v12h-12zM785 1044h12v12h-12zM700 1056h12v12h-12zM529 1068h13v12h-13zM566 1068h24v12h-24zM688 1068h12v12h-12zM676 1080h12v13h-12zM712 1093h12v12h-12zM615 1105h12v12h-12zM688 1105h12v12h-12zM712 1105h12v12h-12zM578 1117h12v12h-12zM542 1129h24v12h-24zM554 1154h12v12h-12zM712 1154h12v12h-12z"/>
<path fill="#fc9200" d="M627 788h12v12h-12zM797 788h12v12h-12zM590 800h12v13h-12zM809 800h37v13h-37zM688 813h12v12h-12zM736 813h13v12h-13zM761 813h12v12h-12zM639 825h12v12h-12zM700 825h12v12h-12zM749 825h12v12h-12zM785 825h12v12h-12zM822 825h12v12h-12zM590 837h12v12h-12zM627 837h12v12h-12zM834 837h12v12h-12zM688 849h12v12h-12zM517 861h25v13h-25zM554 861h12v13h-12zM724 861h12v13h-12zM529 874h13v12h-13zM602 874h13v12h-13zM651 874h12v12h-12zM700 874h12v12h-12zM834 874h12v12h-12zM554 886h12v12h-12zM736 886h49v12h-49zM602 898h25v12h-25zM639 898h12v12h-12zM663 898h25v12h-25zM590 910h12v12h-12zM834 910h12v12h-12zM517 922h25v12h-25zM554 922h12v12h-12zM602 922h13v12h-13zM749 922h12v12h-12zM785 922h12v12h-12zM615 934h12v13h-12zM761 934h12v13h-12zM554 959h12v12h-12zM578 959h12v12h-12zM663 959h13v12h-13zM785 959h12v12h-12zM639 971h12v12h-12zM663 971h13v12h-13zM773 971h12v12h-12zM834 971h12v12h-12zM517 983h12v12h-12zM578 983h12v12h-12zM700 983h12v12h-12zM797 983h12v12h-12zM578 995h12v12h-12zM615 995h12v12h-12zM676 995h12v12h-12zM517 1007h25v13h-25zM761 1007h24v13h-24zM822 1007h12v13h-12zM529 1020h13v12h-13zM627 1020h12v12h-12zM712 1020h12v12h-12zM773 1020h12v12h-12zM676 1032h12v12h-12zM822 1032h12v12h-12zM578 1044h12v12h-12zM615 1044h24v12h-24zM663 1044h13v12h-13zM724 1044h12v12h-12zM627 1056h12v12h-12zM749 1056h12v12h-12zM749 1068h12v12h-12zM542 1080h12v13h-12zM663 1080h13v13h-13zM542 1117h36v12h-36zM590 1117h12v12h-12zM651 1117h12v12h-12zM651 1141h25v13h-25zM688 1141h12v13h-12zM578 1154h12v12h-12zM639 1154h12v12h-12zM566 1166h12v12h-12zM663 1166h25v12h-25zM542 1178h12v12h-12z"/>
<path fill="#fc9c00" d="M639 788h12v12h-12zM590 813h12v12h-12zM566 837h12v12h-12zM676 837h12v12h-12zM724 837h12v12h-12zM822 837h12v12h-12zM663 849h13v12h-13zM724 849h12v12h-12zM542 874h12v12h-12zM712 874h12v12h-12zM761 874h12v12h-12zM615 886h24v12h-24zM663 886h13v12h-13zM785 886h12v12h-12zM809 886h13v12h-13zM542 898h12v12h-12zM809 898h13v12h-13zM834 898h12v12h-12zM542 910h12v12h-12zM639 922h12v12h-12zM663 922h13v12h-13zM712 922h12v12h-12zM785 934h12v13h-12zM590 947h12v12h-12zM639 947h12v12h-12zM663 947h13v12h-13zM736 947h13v12h-13zM529 959h13v12h-13zM639 959h12v12h-12zM688 959h24v12h-24zM834 959h12v12h-12zM700 971h12v12h-12zM736 971h25v12h-25zM566 983h12v12h-12zM639 995h12v12h-12zM554 1007h12v13h-12zM517 1020h12v12h-12zM676 1020h12v12h-12zM627 1032h12v12h-12zM712 1044h12v12h-12zM736 1044h13v12h-13zM590 1056h12v12h-12zM676 1056h12v12h-12zM578 1080h12v13h-12zM773 1080h12v13h-12zM578 1093h12v12h-12zM761 1093h12v12h-12zM749 1117h12v12h-12zM602 1129h13v12h-13z"/>
<path fill="#fca300" d="M651 788h12v12h-12zM676 800h12v13h-12zM663 813h13v12h-13zM749 813h12v12h-12zM663 825h13v12h-13zM566 849h12v12h-12zM822 861h12v13h-12zM724 898h12v12h-12zM785 898h12v12h-12zM639 910h12v12h-12zM676 910h12v12h-12zM724 934h12v13h-12zM773 934h12v13h-12zM602 947h13v12h-13zM761 959h12v12h-12zM761 971h12v12h-12zM651 1020h12v12h-12zM700 1020h12v12h-12zM749 1032h12v12h-12zM651 1056h12v12h-12zM615 1080h12v13h-12zM566 1093h12v12h-12zM517 1105h12v12h-12zM676 1141h12v13h-12z"/>
<path fill="#fbb400" d="M676 788h12v12h-12zM834 886h12v12h-12zM712 971h12v12h-12z"/>
<path fill="#fc8600" d="M700 788h12v12h-12zM724 788h12v12h-12zM688 800h12v13h-12zM773 800h24v13h-24zM773 813h12v12h-12zM627 825h12v12h-12zM615 837h12v12h-12zM639 837h12v12h-12zM517 849h12v12h-12zM639 849h24v12h-24zM761 849h24v12h-24zM797 849h12v12h-12zM627 874h24v12h-24zM736 898h13v12h-13zM822 922h12v12h-12zM517 934h12v13h-12zM627 934h12v13h-12zM822 971h12v12h-12zM688 995h12v12h-12zM749 995h12v12h-12zM627 1007h12v13h-12zM712 1007h12v13h-12zM736 1007h13v13h-13zM724 1020h12v12h-12zM517 1032h12v12h-12zM542 1032h12v12h-12zM615 1032h12v12h-12zM797 1032h12v12h-12zM529 1044h13v12h-13zM566 1044h12v12h-12zM761 1044h24v12h-24zM578 1056h12v12h-12zM724 1056h25v12h-25zM736 1068h13v12h-13zM797 1068h12v12h-12zM602 1080h13v13h-13zM749 1080h12v13h-12zM602 1093h13v12h-13zM676 1093h12v12h-12zM761 1105h24v12h-24zM773 1117h12v12h-12zM590 1129h12v12h-12zM542 1141h12v13h-12zM542 1154h12v12h-12zM627 1154h12v12h-12zM529 1166h13v12h-13zM578 1166h12v12h-12zM627 1166h12v12h-12zM517 1178h12v12h-12zM554 1178h12v12h-12zM554 1190h12v12h-12z"/>
<path fill="#fc8300" d="M712 788h12v12h-12zM749 788h12v12h-12zM566 800h12v13h-12zM566 813h12v12h-12zM797 813h12v12h-12zM822 813h12v12h-12zM554 837h12v12h-12zM651 837h12v12h-12zM773 837h12v12h-12zM566 861h12v13h-12zM651 861h12v13h-12zM749 861h12v13h-12zM529 886h13v12h-13zM578 922h12v12h-12zM736 922h13v12h-13zM809 922h13v12h-13zM529 934h13v13h-13zM578 934h12v13h-12zM517 947h25v12h-25zM602 959h13v12h-13zM517 995h12v12h-12zM797 1007h12v13h-12zM749 1020h12v12h-12zM602 1032h13v12h-13zM517 1044h12v12h-12zM688 1056h12v12h-12zM785 1056h37v12h-37zM615 1068h12v12h-12zM724 1068h12v12h-12zM736 1080h13v13h-13zM639 1093h12v12h-12zM700 1093h12v12h-12zM773 1093h12v12h-12zM724 1105h12v12h-12zM712 1117h12v12h-12zM785 1117h24v12h-24zM712 1141h12v13h-12zM517 1154h12v12h-12zM590 1154h12v12h-12zM773 1154h12v12h-12zM517 1166h12v12h-12zM529 1178h13v12h-13zM590 1178h12v12h-12zM639 1178h12v12h-12zM663 1178h13v12h-13zM688 1178h12v12h-12zM773 1190h12v12h-12z"/>
<path fill="#fc9f00" d="M542 800h12v13h-12zM627 800h12v13h-12zM676 813h12v12h-12zM578 837h12v12h-12zM663 837h13v12h-13zM712 837h12v12h-12zM663 861h13v13h-13zM712 861h12v13h-12zM676 874h12v12h-12zM736 874h13v12h-13zM809 874h13v12h-13zM724 886h12v12h-12zM797 886h12v12h-12zM590 898h12v12h-12zM688 898h24v12h-24zM773 898h12v12h-12zM542 922h12v12h-12zM676 934h24v13h-24zM822 934h12v13h-12zM700 947h12v12h-12zM761 947h12v12h-12zM809 947h13v12h-13zM517 971h12v12h-12zM663 983h13v12h-13zM809 983h13v12h-13zM834 983h12v12h-12zM724 995h12v12h-12zM554 1032h12v12h-12zM639 1056h12v12h-12zM590 1068h12v12h-12zM639 1068h12v12h-12zM517 1093h12v12h-12zM566 1105h12v12h-12zM590 1105h12v12h-12z"/>
<path fill="#fca600" d="M639 800h12v13h-12zM529 813h13v12h-13zM517 825h12v12h-12zM834 849h12v12h-12zM809 861h13v13h-13zM724 874h12v12h-12zM712 886h12v12h-12zM712 898h12v12h-12zM773 910h12v12h-12zM688 922h24v12h-24zM700 934h12v13h-12zM736 959h13v12h-13zM712 983h12v12h-12zM688 1007h12v13h-12zM724 1032h25v12h-25zM749 1044h12v12h-12zM529 1093h13v12h-13z"/>
<path fill="#fcaa00" d="M651 800h25v13h-25zM700 886h12v12h-12zM700 910h12v12h-12zM676 922h12v12h-12zM761 922h24v12h-24zM676 947h24v12h-24zM712 947h12v12h-12zM688 1020h12v12h-12zM651 1068h12v12h-12z"/>
<path fill="#fbad00" d="M517 813h12v12h-12zM749 959h12v12h-12zM724 983h12v12h-12zM712 995h12v12h-12zM700 1007h12v13h-12z"/>
<path fill="#fd7c00" d="M578 813h12v12h-12zM724 813h12v12h-12zM688 861h12v13h-12zM785 861h12v13h-12zM566 910h12v12h-12zM797 1044h12v12h-12zM566 1056h12v12h-12zM712 1056h12v12h-12zM822 1068h24v12h-24zM809 1080h13v13h-13zM749 1093h12v12h-12zM797 1105h12v12h-12zM834 1117h12v12h-12zM712 1129h12v12h-12zM785 1129h12v12h-12zM785 1141h12v13h-12zM688 1166h24v12h-24zM822 1166h12v12h-12zM627 1178h12v12h-12zM700 1178h12v12h-12zM834 1178h12v12h-12zM590 1190h12v12h-12zM663 1190h13v12h-13zM736 1190h13v12h-13z"/>
<path fill="#fd7900" d="M578 825h12v12h-12zM724 825h12v12h-12zM749 837h24v12h-24zM517 886h12v12h-12zM578 910h12v12h-12zM566 934h12v13h-12zM809 1068h13v12h-13zM590 1080h12v13h-12zM797 1080h12v13h-12zM785 1105h12v12h-12zM724 1117h12v12h-12zM724 1129h12v12h-12zM724 1141h12v13h-12zM749 1141h12v13h-12zM809 1141h13v13h-13zM700 1154h12v12h-12zM724 1154h12v12h-12zM809 1154h13v12h-13zM590 1166h12v12h-12zM712 1166h12v12h-12zM651 1178h12v12h-12zM761 1178h12v12h-12zM566 1190h12v12h-12zM602 1190h13v12h-13zM627 1190h12v12h-12z"/>
<path fill="#fbb100" d="M822 874h12v12h-12zM761 910h12v12h-12z"/>
<path fill="#fd7600" d="M615 910h12v12h-12zM834 1044h12v12h-12zM834 1056h12v12h-12zM700 1068h12v12h-12zM834 1093h12v12h-12zM809 1105h13v12h-13zM822 1117h12v12h-12zM736 1129h13v12h-13zM834 1129h12v12h-12zM773 1141h12v13h-12zM602 1154h13v12h-13zM834 1154h12v12h-12zM554 1166h12v12h-12zM578 1178h12v12h-12zM773 1178h12v12h-12zM809 1178h25v12h-25zM676 1190h12v12h-12zM749 1190h12v12h-12z"/>
<path fill="#fd7000" d="M627 910h12v12h-12zM761 1068h12v12h-12zM785 1080h12v13h-12zM822 1080h12v13h-12zM822 1093h12v12h-12zM761 1154h12v12h-12zM602 1166h13v12h-13zM736 1166h13v12h-13zM773 1166h12v12h-12zM809 1166h13v12h-13zM724 1178h12v12h-12zM785 1190h12v12h-12zM834 1190h12v12h-12z"/>
<path fill="#fbb800" d="M688 910h12v12h-12zM724 959h12v12h-12zM724 971h12v12h-12z"/>
<path fill="#fd7300" d="M627 922h12v12h-12zM566 947h12v12h-12zM773 1056h12v12h-12zM797 1093h25v12h-25zM822 1105h24v12h-24zM809 1129h13v12h-13zM761 1141h12v13h-12zM834 1141h12v13h-12zM736 1154h13v12h-13zM822 1154h12v12h-12zM834 1166h12v12h-12zM602 1178h13v12h-13zM797 1178h12v12h-12zM615 1190h12v12h-12zM639 1190h12v12h-12zM712 1190h12v12h-12zM797 1190h37v12h-37z"/>
<path fill="#fbbb00" d="M712 959h12v12h-12z"/>
<path fill="#fd6d00" d="M834 1032h12v12h-12zM785 1093h12v12h-12zM809 1117h13v12h-13zM773 1129h12v12h-12zM712 1178h12v12h-12zM749 1178h12v12h-12z"/>
<path fill="#fd6a00" d="M761 1056h12v12h-12zM773 1068h12v12h-12zM736 1141h13v13h-13zM761 1166h12v12h-12zM566 1178h12v12h-12zM785 1178h12v12h-12zM578 1190h12v12h-12z"/>
<path fill="#fd6300" d="M761 1129h12v12h-12zM785 1154h12v12h-12z"/>
<path fill="#fd6600" d="M749 1154h12v12h-12zM749 1166h12v12h-12zM797 1166h12v12h-12z"/>
<path fill="#fc5d00" d="M797 1154h12v12h-12zM785 1166h12v12h-12zM724 1190h12v12h-12z"/>
</g>
<g shape-rendering="crispEdges">
<path fill="#f9d900" d="M917 785h30v30h-30zM1156 785h90v30h-90zM947 815h30v30h-30zM1127 815h119v30h-119zM1007 845h30v30h-30zM1127 845h29v30h-29zM977 875h90v30h-90zM1186 875h30v30h-30zM947 905h60v30h-60zM1156 905h30v30h-30zM947 935h30v30h-30zM1156 935h30v30h-30zM947 965h30v30h-30zM917 995h30v29h-30zM917 1054h30v30h-30zM1186 1114h30v30h-30z"/>
<path fill="#fbc600" d="M947 785h30v30h-30z"/>
<path fill="#f2e300" d="M1067 785h89v30h-89zM1067 815h60v30h-60zM1037 845h60v30h-60zM1216 845h30v30h-30zM947 875h30v30h-30zM1127 875h29v30h-29zM1216 875h30v30h-30zM1007 905h60v30h-60zM1067 935h30v30h-30zM947 995h60v29h-60zM917 1024h30v30h-30zM1156 1144h30v30h-30zM1156 1174h30v30h-30zM1216 1174h30v30h-30z"/>
<path fill="#fbb100" d="M977 845h30v30h-30zM1097 845h30v30h-30z"/>
<path fill="#e3f900" d="M1067 875h60v30h-60zM1007 935h60v30h-60zM1007 965h90v30h-90zM1007 1024h30v30h-30zM1067 1024h60v30h-60zM947 1054h30v30h-30zM1037 1054h119v30h-119zM1007 1084h30v30h-30z"/>
<path fill="#eaef00" d="M1067 905h30v30h-30zM1127 905h29v30h-29zM977 935h30v30h-30zM1097 935h30v30h-30zM1186 935h30v30h-30zM977 965h30v30h-30zM1097 965h30v30h-30zM1156 965h60v30h-60zM1007 995h30v29h-30zM947 1024h30v30h-30zM1037 1084h30v30h-30zM1186 1144h30v30h-30zM1186 1174h30v30h-30z"/>
<path fill="#d1f900" d="M1097 905h30v30h-30zM1127 935h29v30h-29zM1097 995h30v29h-30zM1127 1024h29v30h-29zM1216 1054h30v30h-30zM947 1114h30v30h-30zM1067 1114h119v30h-119zM1216 1114h30v30h-30zM1097 1174h30v30h-30z"/>
<path fill="#bdf900" d="M1037 995h60v29h-60zM1097 1084h59v30h-59zM1097 1144h59v30h-59zM1216 1144h30v30h-30zM1037 1174h30v30h-30zM1127 1174h29v30h-29z"/>
<path fill="#acf800" d="M977 1024h30v30h-30zM1037 1024h30v30h-30zM1067 1084h30v30h-30z"/>
</g>
<g shape-rendering="crispEdges">
<path fill="#fc9f00" d="M1291 786h30v30h-30zM1321 816h29v29h-29zM1529 816h30v29h-30zM1380 875h30v30h-30zM1291 995h30v30h-30zM1500 1144h29v30h-29zM1589 1144h30v30h-30z"/>
<path fill="#fbb100" d="M1321 786h29v30h-29zM1440 786h30v30h-30zM1589 786h30v30h-30zM1440 816h30v29h-30zM1500 816h29v29h-29zM1559 816h60v29h-60zM1350 845h90v30h-90zM1470 845h30v30h-30zM1589 845h30v30h-30zM1321 875h59v30h-59zM1410 875h60v30h-60zM1500 875h29v30h-29zM1589 875h30v30h-30zM1321 905h89v30h-89zM1470 905h30v30h-30zM1529 905h30v30h-30zM1321 935h89v30h-89zM1470 935h119v30h-119zM1321 965h59v30h-59zM1470 965h30v30h-30zM1529 965h60v30h-60zM1350 995h30v30h-30zM1291 1025h30v30h-30zM1410 1025h60v30h-60zM1291 1055h30v29h-30zM1500 1055h29v29h-29zM1470 1084h59v30h-59zM1500 1114h119v30h-119zM1470 1144h30v30h-30zM1529 1144h60v30h-60zM1410 1174h30v30h-30zM1470 1174h149v30h-149z"/>
<path fill="#fbc600" d="M1470 786h119v30h-119zM1470 816h30v29h-30zM1440 845h30v30h-30zM1500 845h29v30h-29zM1559 875h30v30h-30zM1410 905h60v30h-60zM1500 905h29v30h-29zM1440 935h30v30h-30zM1380 965h30v30h-30zM1440 965h30v30h-30zM1321 995h29v30h-29zM1380 995h30v30h-30zM1470 995h30v30h-30zM1321 1025h89v30h-89zM1470 1025h30v30h-30zM1440 1055h60v29h-60zM1440 1084h30v30h-30z"/>
<path fill="#eaef00" d="M1470 875h30v30h-30z"/>
<path fill="#f2e300" d="M1410 935h30v30h-30z"/>
<path fill="#f9d900" d="M1410 965h30v30h-30zM1410 995h60v30h-60zM1500 1025h29v30h-29zM1321 1055h29v29h-29zM1410 1055h30v29h-30zM1380 1084h60v30h-60zM1321 1114h29v30h-29z"/>
<path fill="#fc8c00" d="M1589 1055h30v29h-30zM1440 1114h60v30h-60z"/>
</g>
<g shape-rendering="crispEdges">
<path fill="#d1f900" d="M1691 788h12v12h-12zM1971 959h13v12h-13zM1947 971h12v12h-12zM1947 983h12v12h-12zM1947 995h12v12h-12zM1947 1007h12v13h-12zM1935 1020h12v12h-12zM1935 1032h12v12h-12zM1935 1044h12v12h-12zM1935 1056h12v12h-12zM1923 1068h12v12h-12zM1923 1080h12v13h-12zM1910 1093h13v12h-13zM1910 1105h13v12h-13zM1874 1117h12v12h-12zM1874 1129h12v12h-12zM1727 1154h12v12h-12zM1727 1166h12v12h-12zM1727 1178h12v12h-12zM1727 1190h12v12h-12z"/>
<path fill="#c3f900" d="M1703 788h12v12h-12z"/>
<path fill="#b6f800" d="M1715 788h12v12h-12z"/>
<path fill="#acf800" d="M1727 788h12v12h-12zM1984 947h36v12h-36z"/>
<path fill="#83f800" d="M1739 788h13v12h-13zM1764 788h12v12h-12zM1898 788h25v12h-25zM1739 800h37v13h-37zM1788 800h12v13h-12zM1910 800h13v13h-13zM1935 800h12v13h-12zM1971 800h13v13h-13zM1739 813h13v12h-13zM1788 813h25v12h-25zM1971 813h13v12h-13zM2008 813h12v12h-12zM1691 825h12v12h-12zM1727 825h25v12h-25zM1764 825h12v12h-12zM1800 825h13v12h-13zM1898 825h25v12h-25zM1984 825h24v12h-24zM1776 837h12v12h-12zM1862 837h12v12h-12zM1886 837h24v12h-24zM1923 837h12v12h-12zM1764 849h12v12h-12zM1825 849h24v12h-24zM1898 849h12v12h-12zM1923 849h24v12h-24zM1752 861h12v13h-12zM1813 861h24v13h-24zM1849 861h13v13h-13zM1971 861h13v13h-13zM1703 874h12v12h-12zM1727 874h12v12h-12zM1776 874h12v12h-12zM1800 874h13v12h-13zM1862 886h12v12h-12zM1910 886h13v12h-13zM1935 886h12v12h-12zM1703 898h12v12h-12zM1752 898h12v12h-12zM1800 898h13v12h-13zM1825 898h12v12h-12zM1886 898h24v12h-24zM1923 898h12v12h-12zM1947 898h24v12h-24zM1691 910h12v12h-12zM1752 910h12v12h-12zM1813 910h36v12h-36zM1886 910h12v12h-12zM1959 910h12v12h-12zM1703 922h12v12h-12zM1739 922h25v12h-25zM1800 922h13v12h-13zM1874 922h12v12h-12zM1886 934h12v13h-12zM1935 934h12v13h-12zM1959 934h12v13h-12zM1691 947h24v12h-24zM1727 947h12v12h-12zM1752 947h36v12h-36zM1837 947h25v12h-25zM1874 947h24v12h-24zM1691 959h12v12h-12zM1849 959h25v12h-25zM1691 971h12v12h-12zM1715 971h12v12h-12zM1764 971h24v12h-24zM1813 971h12v12h-12zM1862 971h24v12h-24zM1910 971h13v12h-13zM1715 983h12v12h-12zM1788 983h12v12h-12zM1837 983h25v12h-25zM1886 983h12v12h-12zM1910 983h13v12h-13zM1691 995h24v12h-24zM1764 995h12v12h-12zM1837 995h25v12h-25zM1910 995h13v12h-13zM1727 1007h25v13h-25zM1800 1007h62v13h-62zM1874 1007h24v13h-24zM1691 1020h12v12h-12zM1727 1020h49v12h-49zM1874 1020h12v12h-12zM1691 1032h24v12h-24zM1788 1032h12v12h-12zM1923 1032h12v12h-12zM1739 1044h25v12h-25zM1788 1044h12v12h-12zM1862 1044h36v12h-36zM1703 1056h12v12h-12zM1739 1056h13v12h-13zM1837 1056h12v12h-12zM1862 1056h24v12h-24zM1703 1068h12v12h-12zM1849 1068h37v12h-37zM1837 1080h12v13h-12zM1739 1093h13v12h-13zM1776 1093h12v12h-12zM1898 1093h12v12h-12zM1703 1105h36v12h-36zM1752 1105h36v12h-36zM1874 1105h12v12h-12zM1898 1105h12v12h-12zM1691 1117h12v12h-12zM1752 1117h12v12h-12zM1776 1117h12v12h-12zM1825 1117h12v12h-12zM1862 1117h12v12h-12zM1776 1129h12v12h-12zM1813 1129h12v12h-12z"/>
<path fill="#7cf800" d="M1752 788h12v12h-12zM1813 800h12v13h-12zM1898 813h12v12h-12zM1739 861h13v13h-13zM1923 874h12v12h-12zM1727 886h12v12h-12zM1764 886h12v12h-12zM1898 886h12v12h-12zM1727 898h25v12h-25zM1715 910h12v12h-12zM1764 910h12v12h-12zM1739 934h13v13h-13zM1862 983h12v12h-12zM1703 1020h12v12h-12zM1752 1032h12v12h-12zM1898 1056h12v12h-12zM1739 1068h13v12h-13zM1910 1068h13v12h-13zM1727 1141h12v13h-12z"/>
<path fill="#8af800" d="M1776 788h24v12h-24zM1886 788h12v12h-12zM1886 800h24v13h-24zM1923 800h12v13h-12zM1764 813h12v12h-12zM1813 813h12v12h-12zM1886 813h12v12h-12zM1910 813h13v12h-13zM1984 813h12v12h-12zM1752 825h12v12h-12zM1935 825h12v12h-12zM1959 825h25v12h-25zM1691 837h12v12h-12zM1739 837h13v12h-13zM1788 837h12v12h-12zM1691 849h12v12h-12zM1959 849h12v12h-12zM1715 861h12v13h-12zM1788 861h12v13h-12zM1874 861h12v13h-12zM1923 861h24v13h-24zM1715 874h12v12h-12zM1825 874h49v12h-49zM1898 874h12v12h-12zM1935 874h12v12h-12zM1715 886h12v12h-12zM1752 886h12v12h-12zM1813 886h12v12h-12zM1727 910h12v12h-12zM1849 910h37v12h-37zM1898 910h12v12h-12zM1727 922h12v12h-12zM1788 922h12v12h-12zM1825 922h12v12h-12zM1886 922h12v12h-12zM1947 922h12v12h-12zM1752 934h12v13h-12zM1788 934h12v13h-12zM1813 934h24v13h-24zM1715 947h12v12h-12zM1825 947h12v12h-12zM1862 947h12v12h-12zM1935 947h12v12h-12zM1715 959h12v12h-12zM1813 959h12v12h-12zM1923 959h12v12h-12zM1849 971h13v12h-13zM1691 983h24v12h-24zM1752 983h24v12h-24zM1813 983h24v12h-24zM1923 983h12v12h-12zM1739 995h13v12h-13zM1874 995h24v12h-24zM1715 1007h12v13h-12zM1752 1007h36v13h-36zM1825 1020h12v12h-12zM1849 1020h13v12h-13zM1898 1020h12v12h-12zM1923 1020h12v12h-12zM1764 1032h24v12h-24zM1825 1032h12v12h-12zM1874 1032h12v12h-12zM1910 1032h13v12h-13zM1703 1044h24v12h-24zM1910 1044h25v12h-25zM1752 1056h12v12h-12zM1788 1056h12v12h-12zM1813 1056h12v12h-12zM1923 1056h12v12h-12zM1715 1068h24v12h-24zM1788 1068h12v12h-12zM1813 1068h12v12h-12zM1703 1080h36v13h-36zM1874 1080h12v13h-12zM1898 1080h25v13h-25zM1727 1093h12v12h-12zM1788 1093h12v12h-12zM1874 1093h12v12h-12zM1691 1105h12v12h-12zM1739 1105h13v12h-13zM1813 1105h12v12h-12zM1727 1117h25v12h-25zM1800 1117h25v12h-25zM1727 1129h12v12h-12zM1825 1129h12v12h-12zM1862 1129h12v12h-12zM1739 1141h13v13h-13z"/>
<path fill="#87f800" d="M1800 788h13v12h-13zM1923 788h24v12h-24zM1959 788h12v12h-12zM1776 800h12v13h-12zM1800 800h13v13h-13zM1959 800h12v13h-12zM1984 800h24v13h-24zM1776 813h12v12h-12zM1959 813h12v12h-12zM1996 813h12v12h-12zM1703 825h12v12h-12zM1776 825h24v12h-24zM1813 825h12v12h-12zM1886 825h12v12h-12zM2008 825h12v12h-12zM1703 837h36v12h-36zM1813 837h24v12h-24zM1874 837h12v12h-12zM1959 837h25v12h-25zM1715 849h37v12h-37zM1800 849h13v12h-13zM1862 849h12v12h-12zM1886 849h12v12h-12zM1910 849h13v12h-13zM1947 849h12v12h-12zM1971 849h13v12h-13zM1691 861h12v13h-12zM1727 861h12v13h-12zM1776 861h12v13h-12zM1862 861h12v13h-12zM1886 861h37v13h-37zM1947 861h24v13h-24zM1691 874h12v12h-12zM1886 874h12v12h-12zM1910 874h13v12h-13zM1691 886h24v12h-24zM1739 886h13v12h-13zM1788 886h25v12h-25zM1837 886h25v12h-25zM1874 886h24v12h-24zM1959 886h12v12h-12zM1691 898h12v12h-12zM1776 898h12v12h-12zM1837 898h25v12h-25zM1874 898h12v12h-12zM1935 898h12v12h-12zM1788 910h12v12h-12zM1910 910h13v12h-13zM1935 910h12v12h-12zM1971 910h13v12h-13zM1715 922h12v12h-12zM1776 922h12v12h-12zM1813 922h12v12h-12zM1862 922h12v12h-12zM1910 922h37v12h-37zM1703 934h12v13h-12zM1727 934h12v13h-12zM1764 934h24v13h-24zM1837 934h25v13h-25zM1874 934h12v13h-12zM1898 934h12v13h-12zM1923 934h12v13h-12zM1971 934h13v13h-13zM1800 947h13v12h-13zM1910 947h25v12h-25zM1727 959h12v12h-12zM1764 959h49v12h-49zM1874 959h12v12h-12zM1898 959h25v12h-25zM1727 971h12v12h-12zM1788 971h25v12h-25zM1825 971h24v12h-24zM1898 971h12v12h-12zM1739 983h13v12h-13zM1776 983h12v12h-12zM1800 983h13v12h-13zM1898 983h12v12h-12zM1715 995h24v12h-24zM1788 995h37v12h-37zM1898 995h12v12h-12zM1923 995h12v12h-12zM1691 1007h24v13h-24zM1923 1007h12v13h-12zM1715 1020h12v12h-12zM1776 1020h49v12h-49zM1837 1020h12v12h-12zM1862 1020h12v12h-12zM1910 1020h13v12h-13zM1715 1032h37v12h-37zM1849 1032h25v12h-25zM1898 1032h12v12h-12zM1691 1044h12v12h-12zM1764 1044h12v12h-12zM1800 1044h49v12h-49zM1898 1044h12v12h-12zM1691 1056h12v12h-12zM1715 1056h24v12h-24zM1800 1056h13v12h-13zM1825 1056h12v12h-12zM1886 1056h12v12h-12zM1910 1056h13v12h-13zM1691 1068h12v12h-12zM1776 1068h12v12h-12zM1800 1068h13v12h-13zM1825 1068h12v12h-12zM1886 1068h24v12h-24zM1691 1080h12v13h-12zM1752 1080h12v13h-12zM1788 1080h12v13h-12zM1825 1080h12v13h-12zM1849 1080h25v13h-25zM1886 1080h12v13h-12zM1691 1093h36v12h-36zM1752 1093h24v12h-24zM1825 1093h12v12h-12zM1800 1105h13v12h-13zM1788 1117h12v12h-12zM1752 1129h12v12h-12zM1788 1129h25v12h-25zM1752 1141h24v13h-24z"/>
<path fill="#80f800" d="M1813 788h12v12h-12zM1947 788h12v12h-12zM1971 788h49v12h-49zM1947 800h12v13h-12zM1752 813h12v12h-12zM1935 813h24v12h-24zM1715 825h12v12h-12zM1923 825h12v12h-12zM1947 825h12v12h-12zM1764 837h12v12h-12zM1849 837h13v12h-13zM1910 837h13v12h-13zM1935 837h24v12h-24zM1703 849h12v12h-12zM1788 849h12v12h-12zM1813 849h12v12h-12zM1849 849h13v12h-13zM1874 849h12v12h-12zM1703 861h12v13h-12zM1764 861h12v13h-12zM1837 861h12v13h-12zM1764 874h12v12h-12zM1813 874h12v12h-12zM1947 874h24v12h-24zM1776 886h12v12h-12zM1825 886h12v12h-12zM1923 886h12v12h-12zM1947 886h12v12h-12zM1971 886h13v12h-13zM1715 898h12v12h-12zM1764 898h12v12h-12zM1788 898h12v12h-12zM1813 898h12v12h-12zM1862 898h12v12h-12zM1739 910h13v12h-13zM1776 910h12v12h-12zM1923 910h12v12h-12zM1947 910h12v12h-12zM1691 922h12v12h-12zM1764 922h12v12h-12zM1837 922h25v12h-25zM1898 922h12v12h-12zM1959 922h25v12h-25zM1715 934h12v13h-12zM1800 934h13v13h-13zM1862 934h12v13h-12zM1910 934h13v13h-13zM1739 947h13v12h-13zM1788 947h12v12h-12zM1813 947h12v12h-12zM1752 959h12v12h-12zM1739 971h13v12h-13zM1923 971h12v12h-12zM1727 983h12v12h-12zM1874 983h12v12h-12zM1752 995h12v12h-12zM1776 995h12v12h-12zM1825 995h12v12h-12zM1788 1007h12v13h-12zM1898 1007h25v13h-25zM1813 1032h12v12h-12zM1837 1032h12v12h-12zM1886 1032h12v12h-12zM1727 1044h12v12h-12zM1764 1056h24v12h-24zM1752 1068h24v12h-24zM1800 1080h25v13h-25zM1813 1093h12v12h-12zM1886 1093h12v12h-12zM1788 1105h12v12h-12zM1862 1105h12v12h-12zM1886 1105h12v12h-12zM1715 1117h12v12h-12zM1764 1117h12v12h-12zM1739 1129h13v12h-13zM1776 1141h12v13h-12z"/>
<path fill="#72f800" d="M1825 788h37v12h-37zM1825 800h12v13h-12zM1862 800h12v13h-12zM1837 813h12v12h-12zM1862 813h12v12h-12zM1849 825h25v12h-25zM1984 837h12v12h-12zM1984 849h12v12h-12zM1984 861h12v13h-12zM1984 874h12v12h-12zM1984 886h12v12h-12zM1984 898h12v12h-12zM1984 910h12v12h-12z"/>
<path fill="#6af800" d="M1862 788h12v12h-12zM1874 800h12v13h-12zM1849 813h13v12h-13zM1837 825h12v12h-12zM1996 849h24v12h-24zM1996 910h12v12h-12zM1996 922h12v12h-12z"/>
<path fill="#6ff800" d="M1874 788h12v12h-12zM1849 800h13v13h-13zM1825 825h12v12h-12zM1984 934h12v13h-12z"/>
<path fill="#caf900" d="M1691 800h12v13h-12z"/>
<path fill="#bdf900" d="M1703 800h12v13h-12zM1959 959h12v12h-12z"/>
<path fill="#aff800" d="M1715 800h12v13h-12z"/>
<path fill="#a2f800" d="M1727 800h12v13h-12z"/>
<path fill="#75f800" d="M1837 800h12v13h-12zM1825 813h12v12h-12zM1874 813h12v12h-12z"/>
<path fill="#91f800" d="M2008 800h12v13h-12zM1923 813h12v12h-12zM1825 959h12v12h-12zM1800 1093h13v12h-13z"/>
<path fill="#c0f900" d="M1691 813h12v12h-12z"/>
<path fill="#b3f800" d="M1703 813h12v12h-12z"/>
<path fill="#a9f800" d="M1715 813h12v12h-12z"/>
<path fill="#9bf800" d="M1727 813h12v12h-12z"/>
<path fill="#79f800" d="M1874 825h12v12h-12zM1800 861h13v13h-13zM1984 922h12v12h-12z"/>
<path fill="#8df800" d="M1752 837h12v12h-12zM1800 837h13v12h-13zM1837 837h12v12h-12zM1752 849h12v12h-12zM1776 849h12v12h-12zM1739 874h25v12h-25zM1788 874h12v12h-12zM1874 874h12v12h-12zM1971 874h13v12h-13zM1910 898h13v12h-13zM1971 898h13v12h-13zM1703 910h12v12h-12zM1800 910h13v12h-13zM1691 934h12v13h-12zM1947 934h12v13h-12zM1898 947h12v12h-12zM1703 959h12v12h-12zM1739 959h13v12h-13zM1837 959h12v12h-12zM1886 959h12v12h-12zM1703 971h12v12h-12zM1752 971h12v12h-12zM1886 971h12v12h-12zM1862 995h12v12h-12zM1862 1007h12v13h-12zM1886 1020h12v12h-12zM1800 1032h13v12h-13zM1776 1044h12v12h-12zM1849 1044h13v12h-13zM1849 1056h13v12h-13zM1837 1068h12v12h-12zM1739 1080h13v13h-13zM1764 1080h24v13h-24zM1862 1093h12v12h-12zM1825 1105h12v12h-12zM1703 1117h12v12h-12zM1764 1129h12v12h-12z"/>
<path fill="#64f800" d="M1996 837h12v12h-12zM1996 874h12v12h-12zM1996 886h12v12h-12zM1996 898h12v12h-12zM2008 922h12v12h-12z"/>
<path fill="#52f700" d="M2008 837h12v12h-12zM2008 886h12v12h-12zM1935 971h12v12h-12zM1935 983h12v12h-12zM1935 995h12v12h-12zM1935 1007h12v13h-12zM1715 1129h12v12h-12zM1715 1141h12v13h-12zM1837 1141h25v13h-25zM1715 1154h12v12h-12zM1715 1166h12v12h-12zM1715 1178h12v12h-12zM1715 1190h12v12h-12z"/>
<path fill="#5ef800" d="M1996 861h24v13h-24zM1996 934h24v13h-24z"/>
<path fill="#58f700" d="M2008 874h12v12h-12zM2008 898h12v12h-12zM2008 910h12v12h-12z"/>
<path fill="#33f600" d="M1947 947h37v12h-37zM1935 959h24v12h-24z"/>
<path fill="#e3f900" d="M1984 959h12v12h-12zM1959 971h12v12h-12zM1959 983h12v12h-12zM1959 995h12v12h-12zM1959 1007h12v13h-12zM1947 1020h12v12h-12zM1947 1032h12v12h-12zM1947 1044h12v12h-12zM1947 1056h12v12h-12zM1935 1068h12v12h-12zM1935 1080h12v13h-12zM1923 1093h12v12h-12zM1984 1093h12v12h-12zM1923 1105h12v12h-12zM1886 1117h12v12h-12zM1886 1129h12v12h-12zM1788 1141h49v13h-49zM1862 1141h12v13h-12zM1739 1154h13v12h-13zM1739 1166h13v12h-13zM1739 1178h13v12h-13zM1739 1190h13v12h-13zM1874 1190h12v12h-12z"/>
<path fill="#eee900" d="M1996 959h12v12h-12zM1971 1044h13v12h-13zM1996 1068h12v12h-12zM1910 1117h13v12h-13zM1910 1129h13v12h-13zM1874 1154h12v12h-12zM1923 1154h12v12h-12zM1862 1166h12v12h-12zM1910 1178h13v12h-13zM1935 1178h12v12h-12z"/>
<path fill="#e9f100" d="M2008 959h12v12h-12zM1984 983h24v12h-24zM1996 995h12v12h-12zM1971 1032h25v12h-25zM2008 1068h12v12h-12zM1996 1093h12v12h-12zM1996 1105h12v12h-12zM1898 1117h12v12h-12zM1984 1117h12v12h-12zM1996 1141h12v13h-12zM1971 1154h13v12h-13zM1923 1166h12v12h-12zM1996 1166h24v12h-24zM1886 1178h24v12h-24zM1971 1178h13v12h-13zM1886 1190h24v12h-24zM1984 1190h24v12h-24z"/>
<path fill="#ebed00" d="M1971 971h13v12h-13zM2008 971h12v12h-12zM1984 1007h12v13h-12zM1984 1020h12v12h-12zM1996 1044h12v12h-12zM2008 1056h12v12h-12zM1984 1080h12v13h-12zM1971 1093h13v12h-13zM1886 1141h12v13h-12zM1898 1154h12v12h-12zM1984 1154h12v12h-12zM1837 1166h12v12h-12zM1837 1178h12v12h-12zM1862 1178h12v12h-12z"/>
<path fill="#e6f500" d="M1984 971h12v12h-12zM1971 995h13v12h-13zM1996 1007h12v13h-12zM1984 1044h12v12h-12zM1984 1056h24v12h-24zM1898 1166h25v12h-25zM1947 1190h12v12h-12z"/>
<path fill="#eaef00" d="M1996 971h12v12h-12zM1996 1020h12v12h-12zM1959 1032h12v12h-12zM2008 1044h12v12h-12zM1971 1056h13v12h-13zM1971 1080h13v13h-13zM1971 1105h13v12h-13zM1923 1117h12v12h-12zM1898 1129h12v12h-12zM1923 1129h12v12h-12zM1984 1129h12v12h-12zM2008 1129h12v12h-12zM1898 1141h12v13h-12zM1862 1154h12v12h-12zM1886 1154h12v12h-12zM1996 1154h24v12h-24zM1874 1166h24v12h-24zM1874 1178h12v12h-12zM1923 1190h12v12h-12z"/>
<path fill="#e7f300" d="M1971 983h13v12h-13zM2008 1007h12v13h-12zM1996 1032h24v12h-24zM1971 1068h25v12h-25zM1996 1080h24v13h-24zM2008 1093h12v12h-12zM1984 1105h12v12h-12zM2008 1105h12v12h-12zM2008 1117h12v12h-12zM1996 1129h12v12h-12zM1849 1166h13v12h-13zM1984 1166h12v12h-12zM1923 1178h12v12h-12zM1959 1178h12v12h-12zM2008 1178h12v12h-12zM1837 1190h25v12h-25zM1935 1190h12v12h-12z"/>
<path fill="#efe700" d="M2008 983h12v12h-12zM1959 1020h12v12h-12zM1910 1141h13v13h-13zM1971 1141h25v13h-25zM1971 1166h13v12h-13zM1971 1190h13v12h-13z"/>
<path fill="#edeb00" d="M1984 995h12v12h-12zM1971 1007h13v13h-13zM1971 1129h13v12h-13zM1874 1141h12v13h-12zM1923 1141h12v13h-12zM2008 1141h12v13h-12zM1837 1154h25v12h-25zM1947 1178h12v12h-12zM1996 1178h12v12h-12zM1862 1190h12v12h-12zM1910 1190h13v12h-13zM2008 1190h12v12h-12z"/>
<path fill="#e4f700" d="M2008 995h12v12h-12zM2008 1020h12v12h-12zM1996 1117h12v12h-12zM1849 1178h13v12h-13zM1984 1178h12v12h-12zM1959 1190h12v12h-12z"/>
<path fill="#f2e300" d="M1971 1020h13v12h-13z"/>
<path fill="#fbc600" d="M1959 1044h12v12h-12zM1959 1068h12v12h-12zM1935 1093h12v12h-12zM1947 1105h12v12h-12zM1935 1141h12v13h-12zM1959 1141h12v13h-12z"/>
<path fill="#fac900" d="M1959 1056h12v12h-12zM1947 1068h12v12h-12zM1947 1080h12v13h-12zM1959 1093h12v12h-12zM1935 1117h12v12h-12zM1947 1166h12v12h-12z"/>
<path fill="#fbc200" d="M1959 1080h12v13h-12zM1935 1105h12v12h-12zM1959 1117h12v12h-12zM1935 1129h36v12h-36zM1935 1154h12v12h-12zM1959 1154h12v12h-12z"/>
<path fill="#0ef500" d="M1837 1093h25v12h-25zM1837 1105h25v12h-25zM1837 1117h25v12h-25zM1691 1129h24v12h-24zM1837 1129h25v12h-25zM1691 1141h24v13h-24zM1691 1154h24v12h-24zM1691 1166h24v12h-24zM1691 1178h24v12h-24zM1691 1190h24v12h-24z"/>
<path fill="#facd00" d="M1947 1093h12v12h-12zM1776 1154h12v12h-12zM1947 1154h12v12h-12zM1935 1166h12v12h-12z"/>
<path fill="#fbb800" d="M1959 1105h12v12h-12z"/>
<path fill="#fbbf00" d="M1947 1117h12v12h-12zM1947 1141h12v13h-12z"/>
<path fill="#f3e100" d="M1971 1117h13v12h-13z"/>
<path fill="#f6dd00" d="M1752 1154h24v12h-24zM1788 1178h25v12h-25zM1813 1190h12v12h-12z"/>
<path fill="#f8db00" d="M1788 1154h37v12h-37zM1813 1166h12v12h-12zM1764 1178h12v12h-12zM1825 1190h12v12h-12z"/>
<path fill="#fad400" d="M1825 1154h12v12h-12zM1764 1166h12v12h-12zM1800 1166h13v12h-13zM1825 1166h12v12h-12zM1776 1178h12v12h-12zM1813 1178h12v12h-12zM1752 1190h12v12h-12zM1788 1190h12v12h-12z"/>
<path fill="#f1e500" d="M1910 1154h13v12h-13z"/>
<path fill="#fad700" d="M1752 1166h12v12h-12zM1776 1190h12v12h-12zM1800 1190h13v12h-13z"/>
<path fill="#f9d900" d="M1776 1166h24v12h-24zM1752 1178h12v12h-12zM1825 1178h12v12h-12zM1764 1190h12v12h-12z"/>
<path fill="#fad000" d="M1959 1166h12v12h-12z"/>
</g>
<g shape-rendering="crispEdges">
<path fill="#fac900" d="M2063 789h12v12h-12zM2209 789h13v12h-13zM2270 801h12v12h-12zM2319 801h12v12h-12zM2380 813h12v12h-12zM2136 825h12v13h-12zM2380 825h12v13h-12zM2075 838h12v12h-12zM2161 838h12v12h-12zM2063 874h12v12h-12zM2173 874h12v12h-12zM2356 874h12v12h-12zM2380 874h12v12h-12zM2173 886h12v12h-12zM2222 886h12v12h-12zM2258 886h12v12h-12zM2112 898h12v13h-12zM2148 898h13v13h-13zM2368 898h24v13h-24zM2087 911h13v12h-13zM2124 923h12v12h-12zM2161 923h12v12h-12zM2185 923h12v12h-12zM2161 935h12v12h-12zM2356 935h12v12h-12zM2307 947h12v12h-12zM2343 947h13v12h-13zM2100 959h12v12h-12zM2148 959h13v12h-13zM2307 959h12v12h-12zM2380 959h12v12h-12zM2331 971h12v13h-12zM2075 984h12v12h-12zM2124 984h12v12h-12zM2295 984h12v12h-12zM2319 984h12v12h-12zM2282 996h13v12h-13zM2063 1008h12v12h-12zM2100 1008h12v12h-12zM2209 1008h13v12h-13zM2307 1008h12v12h-12zM2331 1008h12v12h-12zM2075 1020h12v12h-12zM2136 1020h12v12h-12zM2075 1044h12v13h-12zM2173 1044h12v13h-12zM2197 1044h12v13h-12zM2343 1044h13v13h-13zM2295 1057h12v12h-12zM2331 1057h12v12h-12zM2087 1069h13v12h-13zM2343 1069h13v12h-13zM2075 1081h12v12h-12zM2136 1081h12v12h-12zM2356 1081h12v12h-12zM2246 1093h12v12h-12zM2356 1093h12v12h-12zM2234 1105h12v12h-12zM2380 1105h12v12h-12zM2173 1117h12v13h-12zM2307 1117h12v13h-12zM2100 1130h12v12h-12zM2185 1130h24v12h-24zM2270 1130h12v12h-12zM2295 1130h12v12h-12zM2063 1142h12v12h-12zM2270 1142h25v12h-25zM2368 1142h12v12h-12zM2209 1154h13v12h-13zM2282 1154h13v12h-13zM2100 1166h12v12h-12zM2161 1166h24v12h-24zM2197 1166h12v12h-12zM2343 1166h13v12h-13zM2148 1178h13v12h-13zM2185 1190h12v12h-12zM2246 1190h24v12h-24z"/>
<path fill="#fbc600" d="M2075 789h12v12h-12zM2222 801h12v12h-12zM2258 801h12v12h-12zM2075 813h12v12h-12zM2148 813h37v12h-37zM2124 825h12v13h-12zM2209 838h13v12h-13zM2087 850h13v12h-13zM2112 850h12v12h-12zM2063 862h24v12h-24zM2161 862h12v12h-12zM2148 874h13v12h-13zM2112 886h12v12h-12zM2161 886h12v12h-12zM2380 886h12v12h-12zM2124 898h12v13h-12zM2331 911h12v12h-12zM2087 923h13v12h-13zM2136 935h12v12h-12zM2380 935h12v12h-12zM2295 959h12v12h-12zM2343 959h13v12h-13zM2368 959h12v12h-12zM2282 971h13v13h-13zM2368 971h12v13h-12zM2112 984h12v12h-12zM2087 996h13v12h-13zM2136 996h12v12h-12zM2331 996h12v12h-12zM2075 1008h12v12h-12zM2161 1008h12v12h-12zM2063 1032h12v12h-12zM2124 1032h12v12h-12zM2222 1032h12v12h-12zM2161 1044h12v13h-12zM2222 1044h12v13h-12zM2282 1057h13v12h-13zM2100 1093h12v12h-12zM2124 1093h12v12h-12zM2368 1093h12v12h-12zM2258 1117h12v13h-12zM2282 1117h13v13h-13zM2258 1130h12v12h-12zM2197 1142h12v12h-12zM2307 1142h12v12h-12zM2343 1142h13v12h-13zM2136 1154h12v12h-12zM2087 1166h13v12h-13zM2319 1166h12v12h-12zM2063 1178h12v12h-12zM2234 1178h12v12h-12zM2258 1178h12v12h-12zM2307 1178h12v12h-12zM2148 1190h13v12h-13zM2197 1190h12v12h-12zM2307 1190h12v12h-12zM2380 1190h12v12h-12z"/>
<path fill="#fca300" d="M2087 789h13v12h-13zM2087 801h37v12h-37zM2100 838h12v12h-12zM2234 1166h12v12h-12z"/>
<path fill="#fbb400" d="M2100 789h12v12h-12zM2124 801h12v12h-12zM2063 825h12v13h-12zM2136 838h12v12h-12zM2087 935h25v12h-25zM2087 971h13v13h-13zM2356 984h12v12h-12zM2075 1032h12v12h-12zM2380 1044h12v13h-12zM2295 1105h12v12h-12zM2222 1130h12v12h-12zM2295 1154h12v12h-12zM2319 1154h12v12h-12zM2307 1166h12v12h-12zM2075 1178h12v12h-12zM2161 1190h12v12h-12z"/>
<path fill="#fbb100" d="M2112 789h12v12h-12zM2100 825h12v13h-12zM2368 825h12v13h-12zM2087 862h13v12h-13zM2124 935h12v12h-12zM2063 959h24v12h-24zM2356 996h24v12h-24zM2173 1032h12v12h-12zM2112 1057h12v12h-12zM2380 1057h12v12h-12zM2331 1081h12v12h-12zM2343 1093h13v12h-13zM2368 1117h12v13h-12zM2234 1154h12v12h-12zM2124 1166h12v12h-12zM2246 1166h12v12h-12zM2356 1166h12v12h-12zM2087 1178h13v12h-13zM2087 1190h13v12h-13z"/>
<path fill="#fbbb00" d="M2124 789h12v12h-12zM2063 813h12v12h-12zM2087 813h25v12h-25zM2087 825h13v13h-13zM2343 838h13v12h-13zM2380 838h12v12h-12zM2136 850h12v12h-12zM2356 850h12v12h-12zM2100 862h12v12h-12zM2100 874h12v12h-12zM2368 886h12v12h-12zM2075 911h12v12h-12zM2343 911h13v12h-13zM2368 911h12v12h-12zM2063 935h12v12h-12zM2100 947h24v12h-24zM2331 947h12v12h-12zM2368 947h12v12h-12zM2319 959h12v12h-12zM2100 971h12v13h-12zM2148 971h13v13h-13zM2356 971h12v13h-12zM2380 971h12v13h-12zM2063 996h24v12h-24zM2063 1020h12v12h-12zM2222 1020h12v12h-12zM2368 1044h12v13h-12zM2295 1069h12v12h-12zM2368 1069h24v12h-24zM2087 1081h13v12h-13zM2307 1081h12v12h-12zM2343 1081h13v12h-13zM2368 1081h12v12h-12zM2380 1093h12v12h-12zM2246 1105h12v12h-12zM2319 1105h12v12h-12zM2343 1105h13v12h-13zM2124 1117h12v13h-12zM2246 1117h12v13h-12zM2270 1117h12v13h-12zM2331 1117h25v13h-25zM2209 1130h13v12h-13zM2368 1130h12v12h-12zM2209 1142h13v12h-13zM2331 1142h12v12h-12zM2246 1154h12v12h-12zM2356 1154h12v12h-12zM2380 1154h12v12h-12zM2282 1166h13v12h-13zM2368 1166h12v12h-12zM2185 1178h12v12h-12zM2380 1178h12v12h-12zM2282 1190h13v12h-13z"/>
<path fill="#fbc200" d="M2136 789h12v12h-12zM2063 801h12v12h-12zM2368 801h12v12h-12zM2112 813h12v12h-12zM2356 813h12v12h-12zM2112 825h12v13h-12zM2161 825h12v13h-12zM2209 825h13v13h-13zM2087 838h13v12h-13zM2112 838h12v12h-12zM2075 850h12v12h-12zM2124 850h12v12h-12zM2148 850h13v12h-13zM2124 862h12v12h-12zM2343 862h13v12h-13zM2161 874h12v12h-12zM2343 874h13v12h-13zM2368 874h12v12h-12zM2100 886h12v12h-12zM2148 886h13v12h-13zM2063 911h12v12h-12zM2112 923h12v12h-12zM2343 923h25v12h-25zM2112 935h12v12h-12zM2307 935h12v12h-12zM2356 947h12v12h-12zM2356 959h12v12h-12zM2148 984h13v12h-13zM2100 996h12v12h-12zM2148 996h13v12h-13zM2343 996h13v12h-13zM2222 1008h12v12h-12zM2319 1008h12v12h-12zM2209 1020h13v12h-13zM2319 1020h12v12h-12zM2343 1020h13v12h-13zM2100 1032h12v12h-12zM2185 1032h12v12h-12zM2063 1057h24v12h-24zM2356 1057h12v12h-12zM2063 1069h24v12h-24zM2270 1069h12v12h-12zM2100 1081h12v12h-12zM2295 1081h12v12h-12zM2319 1081h12v12h-12zM2112 1093h12v12h-12zM2295 1093h12v12h-12zM2112 1105h12v12h-12zM2270 1105h12v12h-12zM2112 1117h12v13h-12zM2197 1117h12v13h-12zM2222 1117h12v13h-12zM2356 1117h12v13h-12zM2343 1130h25v12h-25zM2087 1142h25v12h-25zM2124 1142h12v12h-12zM2112 1154h12v12h-12zM2197 1154h12v12h-12zM2185 1166h12v12h-12zM2331 1166h12v12h-12zM2380 1166h12v12h-12zM2124 1190h12v12h-12zM2295 1190h12v12h-12z"/>
<path fill="#fad700" d="M2148 789h13v12h-13zM2234 801h12v12h-12zM2331 801h12v12h-12zM2295 813h12v12h-12zM2331 838h12v12h-12zM2368 838h12v12h-12zM2209 862h13v12h-13zM2246 874h12v12h-12zM2295 874h12v12h-12zM2319 874h12v12h-12zM2282 886h13v12h-13zM2234 898h24v13h-24zM2282 911h25v12h-25zM2356 911h12v12h-12zM2100 923h12v12h-12zM2258 923h24v12h-24zM2368 923h12v12h-12zM2148 935h13v12h-13zM2185 935h12v12h-12zM2161 947h12v12h-12zM2185 947h12v12h-12zM2209 947h13v12h-13zM2112 959h12v12h-12zM2185 971h12v13h-12zM2161 984h12v12h-12zM2197 984h37v12h-37zM2307 984h12v12h-12zM2112 996h12v12h-12zM2222 996h24v12h-24zM2270 996h12v12h-12zM2380 996h12v12h-12zM2282 1008h13v12h-13zM2270 1020h12v12h-12zM2234 1032h24v12h-24zM2331 1032h12v12h-12zM2246 1044h12v13h-12zM2234 1057h24v12h-24zM2331 1069h12v12h-12zM2282 1081h13v12h-13zM2087 1093h13v12h-13zM2148 1093h13v12h-13zM2197 1093h12v12h-12zM2258 1093h24v12h-24zM2173 1105h24v12h-24zM2282 1105h13v12h-13zM2087 1117h13v13h-13zM2173 1130h12v12h-12zM2185 1142h12v12h-12zM2258 1142h12v12h-12zM2075 1154h12v12h-12zM2258 1154h12v12h-12zM2222 1178h12v12h-12zM2270 1178h12v12h-12zM2295 1178h12v12h-12zM2234 1190h12v12h-12zM2356 1190h12v12h-12z"/>
<path fill="#f3e100" d="M2161 789h12v12h-12zM2343 789h13v12h-13zM2173 801h12v12h-12zM2307 825h12v13h-12zM2222 838h12v12h-12zM2234 850h12v12h-12zM2234 862h12v12h-12zM2319 862h12v12h-12zM2270 874h12v12h-12zM2185 886h24v12h-24zM2197 898h12v13h-12zM2295 898h12v13h-12zM2343 898h13v13h-13zM2258 911h12v12h-12zM2209 959h13v12h-13zM2331 984h12v12h-12zM2112 1008h12v12h-12zM2136 1032h12v12h-12zM2258 1032h12v12h-12zM2356 1032h12v12h-12zM2161 1057h12v12h-12zM2148 1069h13v12h-13zM2197 1069h12v12h-12zM2075 1093h12v12h-12z"/>
<path fill="#efe700" d="M2173 789h12v12h-12zM2246 825h12v13h-12zM2234 838h24v12h-24zM2270 838h25v12h-25zM2234 935h12v12h-12zM2148 1105h13v12h-13z"/>
<path fill="#f8db00" d="M2185 789h12v12h-12zM2246 789h12v12h-12zM2161 801h12v12h-12zM2185 801h12v12h-12zM2234 813h24v12h-24zM2258 825h12v13h-12zM2331 825h12v13h-12zM2295 838h12v12h-12zM2197 862h12v12h-12zM2295 862h12v12h-12zM2185 874h12v12h-12zM2282 874h13v12h-13zM2246 886h12v12h-12zM2136 911h25v12h-25zM2173 911h12v12h-12zM2270 935h12v12h-12zM2295 935h12v12h-12zM2234 947h12v12h-12zM2161 971h12v13h-12zM2209 971h13v13h-13zM2246 971h12v13h-12zM2087 984h13v12h-13zM2185 984h12v12h-12zM2209 996h13v12h-13zM2246 996h12v12h-12zM2185 1008h24v12h-24zM2161 1020h12v12h-12zM2197 1020h12v12h-12zM2295 1020h12v12h-12zM2197 1032h12v12h-12zM2270 1032h12v12h-12zM2295 1032h12v12h-12zM2136 1044h12v13h-12zM2185 1044h12v13h-12zM2282 1044h13v13h-13zM2307 1044h12v13h-12zM2136 1057h12v12h-12zM2173 1057h12v12h-12zM2343 1057h13v12h-13zM2246 1069h12v12h-12zM2185 1081h12v12h-12zM2246 1081h24v12h-24zM2161 1093h12v12h-12zM2087 1105h13v12h-13zM2136 1105h12v12h-12zM2136 1117h12v13h-12zM2185 1117h12v13h-12zM2270 1154h12v12h-12zM2136 1178h12v12h-12zM2319 1178h12v12h-12zM2222 1190h12v12h-12z"/>
<path fill="#f6dd00" d="M2197 789h12v12h-12zM2307 813h12v12h-12zM2356 838h12v12h-12zM2161 850h12v12h-12zM2246 850h12v12h-12zM2258 874h12v12h-12zM2331 886h12v12h-12zM2319 898h12v13h-12zM2185 911h12v12h-12zM2197 947h12v12h-12zM2380 947h12v12h-12zM2234 959h12v12h-12zM2197 971h12v13h-12zM2173 984h12v12h-12zM2234 984h12v12h-12zM2197 996h12v12h-12zM2124 1008h12v12h-12zM2356 1008h24v12h-24zM2148 1032h13v12h-13zM2282 1032h13v12h-13zM2124 1044h12v13h-12zM2234 1044h12v13h-12zM2270 1044h12v13h-12zM2222 1057h12v12h-12zM2136 1069h12v12h-12zM2173 1069h12v12h-12zM2173 1081h12v12h-12z"/>
<path fill="#facd00" d="M2222 789h12v12h-12zM2136 801h12v12h-12zM2380 801h12v12h-12zM2136 813h12v12h-12zM2343 813h13v12h-13zM2368 813h12v12h-12zM2185 825h12v13h-12zM2148 838h13v12h-13zM2173 850h12v12h-12zM2209 850h25v12h-25zM2173 862h12v12h-12zM2356 862h24v12h-24zM2331 874h12v12h-12zM2136 886h12v12h-12zM2063 898h12v13h-12zM2136 898h12v13h-12zM2356 898h12v13h-12zM2100 911h24v12h-24zM2246 923h12v12h-12zM2148 947h13v12h-13zM2124 959h12v12h-12zM2173 959h12v12h-12zM2197 959h12v12h-12zM2270 959h12v12h-12zM2331 959h12v12h-12zM2258 971h12v13h-12zM2295 971h12v13h-12zM2343 1008h13v12h-13zM2380 1008h12v12h-12zM2368 1032h12v12h-12zM2087 1057h13v12h-13zM2209 1057h13v12h-13zM2307 1057h24v12h-24zM2258 1069h12v12h-12zM2282 1069h13v12h-13zM2307 1069h12v12h-12zM2197 1081h12v12h-12zM2124 1105h12v12h-12zM2222 1105h12v12h-12zM2380 1117h12v13h-12zM2124 1130h12v12h-12zM2112 1142h12v12h-12zM2148 1142h37v12h-37zM2234 1142h12v12h-12zM2356 1142h12v12h-12zM2124 1154h12v12h-12zM2148 1154h13v12h-13zM2148 1166h13v12h-13zM2258 1166h12v12h-12zM2124 1178h12v12h-12zM2197 1178h25v12h-25zM2282 1178h13v12h-13zM2368 1178h12v12h-12zM2270 1190h12v12h-12zM2319 1190h12v12h-12zM2343 1190h13v12h-13z"/>
<path fill="#f9d900" d="M2234 789h12v12h-12zM2209 801h13v12h-13zM2246 801h12v12h-12zM2295 801h12v12h-12zM2185 813h12v12h-12zM2258 813h12v12h-12zM2331 813h12v12h-12zM2270 825h12v13h-12zM2343 825h13v13h-13zM2282 850h13v12h-13zM2185 862h12v12h-12zM2258 862h12v12h-12zM2282 862h13v12h-13zM2380 862h12v12h-12zM2209 874h13v12h-13zM2234 874h12v12h-12zM2209 886h13v12h-13zM2234 886h12v12h-12zM2222 898h12v13h-12zM2258 898h12v13h-12zM2282 898h13v13h-13zM2234 923h12v12h-12zM2307 923h12v12h-12zM2197 935h12v12h-12zM2246 935h12v12h-12zM2246 947h24v12h-24zM2295 947h12v12h-12zM2246 959h12v12h-12zM2124 971h12v13h-12zM2234 971h12v13h-12zM2343 971h13v13h-13zM2173 1008h12v12h-12zM2234 1020h12v12h-12zM2258 1020h12v12h-12zM2307 1032h12v12h-12zM2100 1044h12v13h-12zM2148 1044h13v13h-13zM2295 1044h12v13h-12zM2356 1044h12v13h-12zM2222 1069h12v12h-12zM2270 1081h12v12h-12zM2063 1093h12v12h-12zM2185 1093h12v12h-12zM2282 1093h13v12h-13zM2063 1105h12v12h-12zM2100 1105h12v12h-12zM2063 1130h12v12h-12zM2282 1130h13v12h-13zM2063 1154h12v12h-12zM2270 1166h12v12h-12zM2173 1178h12v12h-12zM2356 1178h12v12h-12zM2368 1190h12v12h-12z"/>
<path fill="#fad000" d="M2258 789h24v12h-24zM2319 789h12v12h-12zM2356 789h24v12h-24zM2075 801h12v12h-12zM2197 801h12v12h-12zM2307 801h12v12h-12zM2356 801h12v12h-12zM2197 813h12v12h-12zM2222 813h12v12h-12zM2148 825h13v13h-13zM2173 838h24v12h-24zM2307 850h24v12h-24zM2075 874h12v12h-12zM2222 874h12v12h-12zM2063 886h12v12h-12zM2087 886h13v12h-13zM2124 886h12v12h-12zM2295 886h12v12h-12zM2356 886h12v12h-12zM2075 898h12v13h-12zM2161 898h12v13h-12zM2161 911h12v12h-12zM2197 911h12v12h-12zM2234 911h12v12h-12zM2307 911h12v12h-12zM2380 911h12v12h-12zM2173 923h12v12h-12zM2258 935h12v12h-12zM2136 947h12v12h-12zM2319 947h12v12h-12zM2161 959h12v12h-12zM2185 959h12v12h-12zM2222 959h12v12h-12zM2258 959h12v12h-12zM2270 971h12v13h-12zM2380 984h12v12h-12zM2124 996h12v12h-12zM2319 996h12v12h-12zM2136 1008h12v12h-12zM2246 1008h12v12h-12zM2270 1008h12v12h-12zM2295 1008h12v12h-12zM2148 1020h13v12h-13zM2173 1020h24v12h-24zM2246 1020h12v12h-12zM2307 1020h12v12h-12zM2331 1020h12v12h-12zM2356 1020h12v12h-12zM2380 1020h12v12h-12zM2185 1057h12v12h-12zM2258 1057h12v12h-12zM2124 1081h12v12h-12zM2148 1081h13v12h-13zM2222 1093h24v12h-24zM2075 1105h12v12h-12zM2161 1105h12v12h-12zM2209 1105h13v12h-13zM2148 1117h13v13h-13zM2209 1117h13v13h-13zM2136 1130h12v12h-12zM2161 1130h12v12h-12zM2246 1130h12v12h-12zM2319 1130h12v12h-12zM2380 1130h12v12h-12zM2319 1142h12v12h-12zM2100 1154h12v12h-12zM2173 1154h12v12h-12zM2307 1154h12v12h-12zM2075 1166h12v12h-12zM2161 1178h12v12h-12zM2246 1178h12v12h-12zM2343 1178h13v12h-13z"/>
<path fill="#f5df00" d="M2282 789h25v12h-25zM2331 789h12v12h-12zM2343 801h13v12h-13zM2270 813h25v12h-25zM2307 838h24v12h-24zM2295 850h12v12h-12zM2246 862h12v12h-12zM2343 886h13v12h-13zM2185 898h12v13h-12zM2331 898h12v13h-12zM2270 911h12v12h-12zM2136 923h25v12h-25zM2173 935h12v12h-12zM2270 947h12v12h-12zM2222 971h12v13h-12zM2258 984h12v12h-12zM2258 1044h12v13h-12zM2100 1117h12v13h-12zM2161 1154h12v12h-12z"/>
<path fill="#fad400" d="M2307 789h12v12h-12zM2380 789h12v12h-12zM2148 801h13v12h-13zM2319 813h12v12h-12zM2197 825h12v13h-12zM2319 825h12v13h-12zM2185 850h24v12h-24zM2368 850h12v12h-12zM2222 862h12v12h-12zM2307 862h12v12h-12zM2331 862h12v12h-12zM2307 874h12v12h-12zM2270 886h12v12h-12zM2173 898h12v13h-12zM2209 898h13v13h-13zM2270 898h12v13h-12zM2246 911h12v12h-12zM2319 911h12v12h-12zM2197 923h12v12h-12zM2222 923h12v12h-12zM2282 923h25v12h-25zM2222 935h12v12h-12zM2331 935h25v12h-25zM2173 947h12v12h-12zM2282 947h13v12h-13zM2282 959h13v12h-13zM2136 971h12v13h-12zM2173 971h12v13h-12zM2282 984h13v12h-13zM2343 984h13v12h-13zM2161 996h24v12h-24zM2295 996h24v12h-24zM2087 1008h13v12h-13zM2148 1008h13v12h-13zM2234 1008h12v12h-12zM2087 1020h37v12h-37zM2368 1020h12v12h-12zM2112 1032h12v12h-12zM2161 1032h12v12h-12zM2209 1032h13v12h-13zM2319 1032h12v12h-12zM2112 1044h12v13h-12zM2209 1044h13v13h-13zM2319 1044h24v13h-24zM2209 1069h13v12h-13zM2234 1069h12v12h-12zM2319 1069h12v12h-12zM2063 1081h12v12h-12zM2112 1081h12v12h-12zM2209 1081h37v12h-37zM2209 1093h13v12h-13zM2197 1105h12v12h-12zM2063 1117h24v13h-24zM2161 1117h12v13h-12zM2075 1130h25v12h-25zM2148 1130h13v12h-13zM2234 1130h12v12h-12zM2307 1130h12v12h-12zM2136 1142h12v12h-12zM2246 1142h12v12h-12zM2295 1142h12v12h-12zM2380 1142h12v12h-12zM2222 1154h12v12h-12zM2209 1166h25v12h-25zM2331 1178h12v12h-12zM2136 1190h12v12h-12zM2209 1190h13v12h-13z"/>
<path fill="#f2e300" d="M2282 801h13v12h-13zM2197 838h12v12h-12zM2197 874h12v12h-12zM2307 898h12v13h-12zM2282 935h13v12h-13zM2222 947h12v12h-12zM2246 984h12v12h-12zM2270 984h12v12h-12zM2185 996h12v12h-12zM2258 1008h12v12h-12zM2124 1020h12v12h-12zM2161 1069h12v12h-12zM2185 1069h12v12h-12z"/>
<path fill="#fbb800" d="M2124 813h12v12h-12zM2075 825h12v13h-12zM2356 825h12v13h-12zM2063 838h12v12h-12zM2124 838h12v12h-12zM2063 850h12v12h-12zM2100 850h12v12h-12zM2331 850h12v12h-12zM2112 862h12v12h-12zM2136 862h12v12h-12zM2087 874h13v12h-13zM2136 874h12v12h-12zM2087 898h25v13h-25zM2319 923h12v12h-12zM2075 935h12v12h-12zM2075 947h12v12h-12zM2124 947h12v12h-12zM2087 959h13v12h-13zM2307 971h12v13h-12zM2136 984h12v12h-12zM2368 984h12v12h-12zM2063 1044h12v13h-12zM2087 1044h13v13h-13zM2270 1057h12v12h-12zM2356 1069h12v12h-12zM2380 1081h12v12h-12zM2307 1105h12v12h-12zM2234 1117h12v13h-12zM2112 1130h12v12h-12zM2331 1130h12v12h-12zM2222 1142h12v12h-12zM2343 1154h13v12h-13zM2112 1190h12v12h-12z"/>
<path fill="#fbbf00" d="M2209 813h13v12h-13zM2173 825h12v13h-12zM2222 825h12v13h-12zM2343 850h13v12h-13zM2148 862h13v12h-13zM2112 874h24v12h-24zM2075 886h12v12h-12zM2124 911h12v12h-12zM2209 911h25v12h-25zM2075 923h12v12h-12zM2331 923h12v12h-12zM2380 923h12v12h-12zM2319 935h12v12h-12zM2368 935h12v12h-12zM2136 959h12v12h-12zM2112 971h12v13h-12zM2063 984h12v12h-12zM2100 984h12v12h-12zM2343 1032h13v12h-13zM2380 1032h12v12h-12zM2100 1057h12v12h-12zM2124 1057h12v12h-12zM2100 1069h36v12h-36zM2136 1093h12v12h-12zM2331 1093h12v12h-12zM2258 1105h12v12h-12zM2295 1117h12v13h-12zM2319 1117h12v13h-12zM2075 1142h12v12h-12zM2087 1154h13v12h-13zM2185 1154h12v12h-12zM2331 1154h12v12h-12zM2063 1166h12v12h-12zM2136 1166h12v12h-12zM2112 1178h12v12h-12zM2173 1190h12v12h-12zM2331 1190h12v12h-12z"/>
<path fill="#eee900" d="M2234 825h12v13h-12zM2295 825h12v13h-12zM2258 838h12v12h-12z"/>
<path fill="#f1e500" d="M2282 825h13v13h-13zM2270 850h12v12h-12zM2270 862h12v12h-12zM2307 886h24v12h-24zM2209 935h13v12h-13zM2258 996h12v12h-12zM2282 1020h13v12h-13zM2148 1057h13v12h-13zM2197 1057h12v12h-12zM2161 1081h12v12h-12zM2173 1093h12v12h-12z"/>
<path fill="#eaef00" d="M2258 850h12v12h-12z"/>
<path fill="#fbad00" d="M2380 850h12v12h-12zM2063 923h12v12h-12zM2087 947h13v12h-13zM2075 971h12v13h-12zM2087 1032h13v12h-13zM2307 1093h12v12h-12zM2112 1166h12v12h-12zM2063 1190h12v12h-12zM2100 1190h12v12h-12z"/>
<path fill="#fcaa00" d="M2209 923h13v12h-13zM2063 971h12v13h-12zM2319 971h12v13h-12zM2368 1057h12v12h-12zM2368 1105h12v12h-12zM2368 1154h12v12h-12zM2075 1190h12v12h-12z"/>
<path fill="#fc9f00" d="M2063 947h12v12h-12zM2319 1093h12v12h-12z"/>
<path fill="#fca600" d="M2331 1105h12v12h-12zM2356 1105h12v12h-12zM2295 1166h12v12h-12z"/>
<path fill="#fc9900" d="M2100 1178h12v12h-12z"/>
</g>
<g shape-rendering="crispEdges">
<path fill="#fbb100" d="M376 1258h14v14h-14zM404 1258h14v14h-14zM376 1272h14v13h-14zM335 1299h13v14h-13zM362 1299h14v14h-14zM335 1327h13v14h-13zM376 1327h14v14h-14zM390 1341h14v14h-14zM265 1355h28v14h-28zM321 1355h14v14h-14zM307 1369h14v13h-14zM348 1369h14v13h-14zM348 1396h14v14h-14zM293 1410h14v14h-14zM348 1410h14v14h-14zM376 1410h28v14h-28zM348 1424h14v14h-14zM182 1438h14v14h-14zM251 1438h42v14h-42zM307 1438h14v14h-14zM210 1452h14v14h-14zM251 1452h14v14h-14zM293 1452h55v14h-55zM362 1452h14v14h-14zM196 1466h14v13h-14zM265 1466h28v13h-28zM251 1479h14v14h-14zM307 1479h14v14h-14zM210 1493h14v14h-14zM265 1493h14v14h-14zM293 1521h14v14h-14zM210 1549h14v14h-14zM293 1549h14v14h-14zM251 1563h14v13h-14zM251 1576h14v14h-14zM238 1590h13v14h-13zM293 1618h14v14h-14zM293 1632h14v14h-14zM293 1646h14v14h-14z"/>
<path fill="#fbb400" d="M390 1258h14v14h-14zM404 1272h14v13h-14zM362 1285h28v14h-28zM348 1299h14v14h-14zM376 1299h14v14h-14zM362 1313h14v14h-14zM348 1327h28v14h-28zM348 1341h28v14h-28zM307 1355h14v14h-14zM362 1355h14v14h-14zM238 1369h27v13h-27zM279 1369h14v13h-14zM238 1382h13v14h-13zM265 1382h14v14h-14zM307 1382h14v14h-14zM376 1382h28v14h-28zM168 1396h14v14h-14zM279 1396h14v14h-14zM168 1410h14v14h-14zM293 1424h55v14h-55zM362 1424h14v14h-14zM210 1438h14v14h-14zM238 1438h13v14h-13zM321 1438h14v14h-14zM224 1452h27v14h-27zM279 1452h14v14h-14zM293 1466h14v13h-14zM196 1479h14v14h-14zM224 1479h14v14h-14zM265 1479h14v14h-14zM293 1479h14v14h-14zM279 1493h56v14h-56zM224 1507h14v14h-14zM293 1563h14v13h-14zM279 1576h14v14h-14z"/>
<path fill="#fc9f00" d="M418 1258h14v14h-14zM307 1285h14v14h-14zM321 1313h14v14h-14zM321 1327h14v14h-14zM321 1341h14v14h-14zM168 1424h14v14h-14zM182 1452h28v14h-28z"/>
<path fill="#fc9c00" d="M432 1258h13v14h-13zM418 1272h27v13h-27zM321 1285h14v14h-14zM307 1299h28v14h-28zM307 1313h14v14h-14zM307 1327h14v14h-14z"/>
<path fill="#fbb800" d="M390 1272h14v13h-14zM348 1285h14v14h-14zM376 1313h14v14h-14zM238 1355h13v14h-13zM348 1355h14v14h-14zM376 1355h14v14h-14zM362 1369h14v13h-14zM348 1382h28v14h-28zM265 1396h14v14h-14zM321 1396h14v14h-14zM362 1396h14v14h-14zM196 1438h14v14h-14zM293 1438h14v14h-14zM210 1466h28v13h-28zM307 1466h14v13h-14zM168 1479h14v14h-14zM238 1479h13v14h-13zM279 1479h14v14h-14zM196 1493h14v14h-14zM251 1493h14v14h-14zM279 1507h28v14h-28zM224 1521h14v14h-14zM279 1521h14v14h-14zM279 1535h14v14h-14zM279 1563h14v13h-14zM265 1576h14v14h-14zM293 1576h14v14h-14zM251 1590h14v14h-14zM265 1604h14v14h-14zM293 1660h14v14h-14z"/>
<path fill="#fcaa00" d="M335 1285h13v14h-13zM390 1285h14v14h-14zM376 1341h14v14h-14zM335 1355h13v14h-13zM265 1369h14v13h-14zM390 1369h14v13h-14zM279 1382h14v14h-14zM335 1396h13v14h-13zM376 1396h14v14h-14zM362 1410h14v14h-14zM251 1466h14v13h-14zM182 1479h14v14h-14zM210 1479h14v14h-14zM196 1507h28v14h-28zM265 1507h14v14h-14zM265 1563h14v13h-14zM279 1604h14v14h-14z"/>
<path fill="#fbad00" d="M390 1299h14v14h-14zM335 1313h13v14h-13zM390 1313h14v14h-14zM390 1327h14v14h-14zM335 1341h13v14h-13zM293 1355h14v14h-14zM293 1369h14v13h-14zM321 1369h27v13h-27zM321 1382h27v14h-27zM307 1396h14v14h-14zM307 1410h14v14h-14zM362 1438h14v14h-14zM182 1466h14v13h-14zM238 1493h13v14h-13zM238 1507h27v14h-27zM321 1507h14v14h-14zM238 1576h13v14h-13zM293 1590h14v14h-14zM293 1604h14v14h-14z"/>
<path fill="#fbbb00" d="M348 1313h14v14h-14zM390 1355h14v14h-14zM251 1382h14v14h-14zM390 1396h14v14h-14zM224 1438h14v14h-14zM335 1438h13v14h-13zM238 1466h13v13h-13zM321 1479h14v14h-14zM307 1507h14v14h-14zM321 1521h14v14h-14zM293 1535h14v14h-14zM279 1549h14v14h-14zM265 1590h28v14h-28z"/>
<path fill="#fc9900" d="M307 1341h14v14h-14z"/>
<path fill="#fca600" d="M251 1355h14v14h-14zM376 1369h14v13h-14zM293 1382h14v14h-14zM293 1396h14v14h-14zM348 1438h14v14h-14zM307 1521h14v14h-14zM238 1563h13v13h-13z"/>
<path fill="#fbc600" d="M182 1396h14v14h-14zM182 1410h14v14h-14zM321 1410h27v14h-27zM182 1424h28v14h-28zM251 1521h14v14h-14zM238 1535h27v14h-27zM238 1549h41v14h-41zM307 1604h14v14h-14z"/>
<path fill="#fbc200" d="M196 1396h14v14h-14zM279 1410h14v14h-14zM224 1493h14v14h-14zM321 1604h14v14h-14zM307 1632h28v14h-28z"/>
<path fill="#fac900" d="M210 1396h14v14h-14zM265 1424h28v14h-28zM238 1521h13v14h-13zM265 1535h14v14h-14zM321 1618h14v14h-14zM307 1646h28v14h-28zM307 1660h28v14h-28z"/>
<path fill="#f1e500" d="M224 1396h14v14h-14zM251 1410h14v14h-14z"/>
<path fill="#f2e300" d="M238 1396h27v14h-27z"/>
<path fill="#fbbf00" d="M196 1410h14v14h-14zM265 1452h14v14h-14zM265 1521h14v14h-14z"/>
<path fill="#f9d900" d="M210 1410h14v14h-14zM210 1424h28v14h-28zM251 1424h14v14h-14z"/>
<path fill="#efe700" d="M224 1410h14v14h-14z"/>
<path fill="#f3e100" d="M238 1410h13v14h-13z"/>
<path fill="#facd00" d="M265 1410h14v14h-14zM307 1618h14v14h-14z"/>
<path fill="#fad400" d="M238 1424h13v14h-13z"/>
<path fill="#fc8c00" d="M168 1438h14v14h-14zM168 1452h14v14h-14zM168 1466h14v13h-14zM224 1535h14v14h-14zM265 1632h28v14h-28zM279 1660h14v14h-14z"/>
<path fill="#fca300" d="M348 1452h14v14h-14zM321 1466h14v13h-14z"/>
<path fill="#fd7900" d="M196 1521h28v14h-28zM196 1549h14v14h-14z"/>
<path fill="#fd7c00" d="M196 1535h28v14h-28zM265 1646h14v14h-14zM265 1660h14v14h-14z"/>
<path fill="#fc9200" d="M224 1549h14v14h-14zM279 1646h14v14h-14z"/>
<path fill="#fc8900" d="M265 1618h14v14h-14z"/>
<path fill="#fc8f00" d="M279 1618h14v14h-14z"/>
</g>
<g shape-rendering="crispEdges">
<path fill="#fc8c00" d="M751 1260h13v14h-13zM792 1260h28v14h-28zM778 1274h14v14h-14zM681 1288h14v14h-14zM681 1302h28v13h-28zM640 1537h14v14h-14z"/>
<path fill="#fc8f00" d="M764 1260h28v14h-28zM764 1274h14v14h-14zM792 1274h14v14h-14zM695 1288h14v14h-14zM709 1302h14v13h-14zM695 1315h14v14h-14z"/>
<path fill="#fc8900" d="M751 1274h13v14h-13zM806 1274h14v14h-14zM681 1315h14v14h-14zM709 1315h14v14h-14z"/>
<path fill="#fc9200" d="M709 1288h14v14h-14zM654 1468h27v14h-27zM584 1537h14v14h-14z"/>
<path fill="#fcaa00" d="M723 1288h14v14h-14zM723 1315h14v14h-14zM612 1357h14v14h-14zM640 1385h14v14h-14zM723 1385h14v14h-14zM737 1399h14v13h-14zM737 1412h14v14h-14zM543 1454h14v14h-14zM667 1454h14v14h-14zM695 1454h14v14h-14zM681 1482h14v14h-14zM695 1662h14v14h-14z"/>
<path fill="#fca300" d="M737 1288h41v14h-41zM681 1343h14v14h-14zM737 1343h14v14h-14zM751 1357h13v14h-13zM709 1385h14v14h-14zM557 1399h13v13h-13zM709 1399h14v13h-14zM543 1412h14v14h-14zM737 1426h14v14h-14zM723 1440h14v14h-14zM570 1454h14v14h-14zM612 1454h14v14h-14zM557 1468h13v14h-13zM543 1482h14v14h-14zM612 1482h14v14h-14zM654 1482h13v14h-13zM654 1496h55v13h-55zM640 1509h14v14h-14zM612 1523h14v14h-14zM626 1537h14v14h-14zM640 1606h14v14h-14zM667 1606h14v14h-14zM640 1634h14v14h-14zM695 1634h14v14h-14zM640 1648h14v14h-14z"/>
<path fill="#fc9c00" d="M723 1302h14v13h-14zM751 1302h13v13h-13zM764 1329h14v14h-14zM751 1343h13v14h-13zM723 1412h14v14h-14zM751 1412h13v14h-13zM543 1440h14v14h-14zM598 1454h14v14h-14zM570 1468h56v14h-56zM640 1468h14v14h-14zM557 1482h13v14h-13zM598 1482h14v14h-14zM640 1482h14v14h-14zM695 1482h14v14h-14zM584 1496h14v13h-14zM612 1496h14v13h-14zM570 1509h56v14h-56zM667 1509h42v14h-42zM584 1523h28v14h-28zM667 1523h14v14h-14zM667 1537h14v14h-14zM598 1551h14v14h-14zM667 1593h14v13h-14zM654 1606h13v14h-13zM681 1606h14v14h-14zM640 1620h14v14h-14zM640 1662h14v14h-14z"/>
<path fill="#fc9f00" d="M737 1302h14v13h-14zM681 1329h14v14h-14zM737 1329h14v14h-14zM737 1357h14v14h-14zM723 1371h28v14h-28zM737 1385h41v14h-41zM764 1399h14v13h-14zM557 1412h13v14h-13zM709 1412h14v14h-14zM543 1426h14v14h-14zM709 1426h14v14h-14zM557 1454h13v14h-13zM584 1454h14v14h-14zM640 1454h14v14h-14zM681 1454h14v14h-14zM543 1468h14v14h-14zM626 1468h14v14h-14zM681 1468h14v14h-14zM570 1482h14v14h-14zM626 1482h14v14h-14zM570 1496h14v13h-14zM598 1496h14v13h-14zM640 1496h14v13h-14zM626 1509h14v14h-14zM654 1509h13v14h-13zM626 1523h14v14h-14zM654 1523h13v14h-13zM681 1523h28v14h-28zM570 1537h14v14h-14zM654 1537h13v14h-13zM667 1565h14v14h-14zM695 1606h14v14h-14zM667 1634h14v14h-14z"/>
<path fill="#fbb400" d="M764 1302h14v13h-14zM695 1343h28v14h-28zM695 1357h14v14h-14zM612 1371h14v14h-14zM681 1385h14v14h-14zM626 1399h14v13h-14zM681 1399h14v13h-14zM570 1412h14v14h-14zM598 1412h14v14h-14zM584 1440h28v14h-28zM681 1440h14v14h-14zM654 1565h13v14h-13zM640 1593h27v13h-27z"/>
<path fill="#fc9900" d="M737 1315h14v14h-14zM681 1357h14v14h-14zM543 1399h14v13h-14zM557 1440h13v14h-13zM709 1440h14v14h-14zM709 1454h14v14h-14zM695 1468h14v14h-14zM584 1482h14v14h-14zM570 1523h14v14h-14zM640 1523h14v14h-14zM598 1537h14v14h-14zM667 1579h14v14h-14zM695 1620h14v14h-14z"/>
<path fill="#fca600" d="M751 1315h13v14h-13zM751 1329h13v14h-13zM626 1357h55v14h-55zM709 1371h14v14h-14zM751 1371h13v14h-13zM764 1412h14v14h-14zM557 1426h13v14h-13zM626 1454h14v14h-14zM612 1537h14v14h-14zM570 1551h28v14h-28z"/>
<path fill="#fc9600" d="M764 1315h14v14h-14zM764 1343h14v14h-14zM764 1357h14v14h-14zM764 1371h14v14h-14zM723 1399h14v13h-14zM751 1399h13v13h-13zM723 1426h14v14h-14zM654 1454h13v14h-13zM737 1454h14v14h-14zM667 1482h14v14h-14zM626 1496h14v13h-14zM667 1551h14v14h-14zM695 1648h14v14h-14z"/>
<path fill="#fbad00" d="M695 1329h14v14h-14zM612 1385h28v14h-28zM654 1385h13v14h-13zM695 1385h14v14h-14zM640 1399h14v13h-14zM612 1412h14v14h-14zM681 1412h14v14h-14zM570 1440h14v14h-14zM737 1440h14v14h-14zM612 1551h14v14h-14zM654 1551h13v14h-13zM612 1565h14v14h-14zM612 1579h14v14h-14zM640 1579h14v14h-14z"/>
<path fill="#fbbb00" d="M709 1329h14v14h-14zM626 1551h14v14h-14zM612 1593h14v13h-14z"/>
<path fill="#fbb100" d="M723 1329h14v14h-14zM723 1343h14v14h-14zM709 1357h28v14h-28zM626 1371h41v14h-41zM681 1371h14v14h-14zM667 1385h14v14h-14zM570 1399h14v13h-14zM598 1399h28v13h-28zM695 1399h14v13h-14zM626 1412h28v14h-28zM570 1426h14v14h-14zM598 1426h14v14h-14zM695 1440h14v14h-14zM723 1454h14v14h-14zM640 1551h14v14h-14zM626 1565h14v14h-14zM626 1593h14v13h-14z"/>
<path fill="#fbb800" d="M667 1371h14v14h-14zM695 1371h14v14h-14zM584 1399h14v13h-14zM584 1412h14v14h-14zM695 1412h14v14h-14zM584 1426h14v14h-14zM681 1426h28v14h-28zM640 1565h14v14h-14zM626 1579h14v14h-14zM654 1579h13v14h-13z"/>
<path fill="#fbc600" d="M654 1399h13v13h-13zM654 1412h27v14h-27zM626 1426h14v14h-14zM612 1440h14v14h-14z"/>
<path fill="#fbc200" d="M667 1399h14v13h-14zM640 1426h14v14h-14zM640 1440h14v14h-14zM667 1440h14v14h-14z"/>
<path fill="#fac900" d="M612 1426h14v14h-14zM654 1426h27v14h-27zM626 1440h14v14h-14zM654 1440h13v14h-13z"/>
<path fill="#fad000" d="M654 1620h13v14h-13zM654 1634h13v14h-13z"/>
<path fill="#f9d900" d="M667 1620h14v14h-14z"/>
<path fill="#fad700" d="M681 1620h14v14h-14zM681 1634h14v14h-14zM681 1648h14v14h-14zM681 1662h14v14h-14z"/>
<path fill="#f3e100" d="M654 1648h27v14h-27z"/>
<path fill="#f2e300" d="M654 1662h13v14h-13z"/>
<path fill="#efe700" d="M667 1662h14v14h-14z"/>
</g>
<g shape-rendering="crispEdges">
<path fill="#f9d900" d="M1151 1260h70v35h-70zM1082 1364h35v35h-35zM1151 1364h35v35h-35zM1012 1399h35v35h-35zM1117 1399h69v35h-69zM1082 1434h69v35h-69zM1012 1469h70v35h-70zM1012 1504h35v34h-35z"/>
<path fill="#fbb100" d="M1082 1295h69v35h-69zM1082 1330h35v34h-35zM1047 1364h35v35h-35zM1047 1399h35v35h-35zM978 1434h104v35h-104zM1047 1573h35v35h-35zM1047 1608h70v35h-70zM1047 1643h70v35h-70z"/>
<path fill="#fbc600" d="M1151 1295h35v35h-35zM1117 1330h69v34h-69zM1012 1364h35v35h-35zM1117 1364h34v35h-34zM978 1399h34v35h-34zM1082 1399h35v35h-35zM978 1469h34v35h-34zM1082 1469h35v35h-35zM1047 1504h70v34h-70zM1047 1538h35v35h-35z"/>
</g>
<g shape-rendering="crispEdges">
<path fill="#fcaa00" d="M1525 1260h69v35h-69zM1455 1295h35v35h-35zM1455 1330h35v34h-35zM1455 1364h70v35h-70zM1351 1399h35v35h-35zM1420 1399h35v35h-35zM1351 1434h35v35h-35zM1420 1434h35v35h-35zM1490 1434h35v35h-35zM1351 1469h69v35h-69zM1455 1469h35v35h-35zM1420 1504h70v34h-70zM1420 1538h35v35h-35zM1420 1573h35v35h-35zM1455 1608h35v35h-35zM1420 1643h70v35h-70z"/>
<path fill="#fc9f00" d="M1490 1295h69v35h-69zM1490 1330h69v34h-69z"/>
<path fill="#fbbb00" d="M1386 1364h69v35h-69zM1525 1364h34v35h-34zM1386 1399h34v35h-34zM1455 1399h104v35h-104zM1386 1434h34v35h-34zM1455 1434h35v35h-35zM1420 1469h35v35h-35zM1386 1504h34v34h-34zM1420 1608h35v35h-35z"/>
</g>
<g shape-rendering="crispEdges">
<path fill="#fd6600" d="M142 1734h12v12h-12zM179 1734h12v12h-12zM288 1734h12v12h-12zM458 1734h12v12h-12zM276 1746h12v12h-12zM142 1807h12v12h-12zM239 1819h13v12h-13zM337 1819h12v12h-12zM361 1819h12v12h-12zM203 1844h12v12h-12zM325 1856h12v12h-12zM179 1868h24v12h-24zM361 1880h12v12h-12zM385 1880h13v12h-13zM434 1880h24v12h-24zM361 1892h12v13h-12zM398 1892h12v13h-12zM385 1905h25v12h-25zM398 1917h12v12h-12zM154 1929h13v12h-13zM312 1929h13v12h-13zM361 1929h12v12h-12zM410 1929h12v12h-12zM458 1929h12v12h-12zM373 1941h12v12h-12zM312 1953h13v12h-13zM312 1965h13v13h-13zM337 1965h12v13h-12zM203 1978h24v12h-24zM252 1990h24v12h-24zM142 2002h12v12h-12zM167 2002h24v12h-24zM179 2014h12v12h-12zM179 2026h12v13h-12zM349 2026h12v13h-12zM179 2039h12v12h-12zM179 2051h12v12h-12zM203 2051h12v12h-12zM179 2075h12v12h-12z"/>
<path fill="#fd6a00" d="M154 1734h13v12h-13zM179 1746h12v12h-12zM458 1746h12v12h-12zM458 1758h12v12h-12zM239 1807h13v12h-13zM325 1819h12v12h-12zM215 1844h12v12h-12zM325 1844h12v12h-12zM337 1868h24v12h-24zM349 1880h12v12h-12zM385 1892h13v13h-13zM422 1892h24v13h-24zM215 1905h12v12h-12zM288 1905h24v12h-24zM422 1917h12v12h-12zM142 1929h12v12h-12zM191 1929h12v12h-12zM373 1929h12v12h-12zM179 1941h12v12h-12zM385 1941h13v12h-13zM179 1953h12v12h-12zM215 1953h12v12h-12zM325 1953h36v12h-36zM203 1965h24v13h-24zM300 1965h12v13h-12zM191 1978h12v12h-12zM239 1990h13v12h-13zM239 2014h13v12h-13zM167 2051h12v12h-12zM179 2063h12v12h-12zM179 2087h12v13h-12zM167 2100h12v12h-12z"/>
<path fill="#fd7000" d="M167 1734h12v12h-12zM446 1746h12v12h-12zM446 1758h12v12h-12zM446 1770h12v13h-12zM349 1807h24v12h-24zM325 1831h12v13h-12zM191 1844h12v12h-12zM337 1880h12v12h-12zM373 1892h12v13h-12zM312 1905h25v12h-25zM373 1905h12v12h-12zM446 1905h12v12h-12zM446 1917h12v12h-12zM349 1929h12v12h-12zM385 1929h13v12h-13zM434 1929h24v12h-24zM288 1965h12v13h-12zM264 1978h12v12h-12zM288 1978h24v12h-24zM154 2014h13v12h-13zM154 2026h13v13h-13zM167 2039h12v12h-12zM167 2063h12v12h-12zM142 2100h25v12h-25zM142 2112h12v12h-12zM154 2124h13v12h-13z"/>
<path fill="#f94000" d="M191 1734h12v12h-12zM239 1734h13v12h-13zM227 1746h12v12h-12zM203 1758h24v12h-24zM434 1795h24v12h-24zM373 1831h12v13h-12zM154 1844h13v12h-13zM142 1856h12v12h-12zM458 1856h12v12h-12zM398 1868h24v12h-24zM167 1880h12v12h-12zM264 1929h12v12h-12zM264 1941h12v12h-12zM142 1965h12v13h-12zM325 2002h12v12h-12zM361 2002h12v12h-12zM300 2014h12v12h-12zM385 2014h13v12h-13zM458 2026h12v13h-12zM373 2039h12v12h-12zM398 2039h12v12h-12zM239 2051h13v12h-13zM385 2063h13v12h-13zM325 2075h24v12h-24zM373 2075h12v12h-12zM252 2087h12v13h-12zM410 2112h12v12h-12zM264 2124h12v12h-12zM373 2124h12v12h-12zM239 2136h13v12h-13zM398 2136h12v12h-12zM434 2136h12v12h-12z"/>
<path fill="#f72f00" d="M203 1734h24v12h-24zM458 1819h12v12h-12zM458 1831h12v13h-12zM458 1844h12v12h-12zM398 1856h12v12h-12zM422 1856h12v12h-12zM203 1880h12v12h-12zM191 1917h12v12h-12zM264 1917h12v12h-12zM422 1953h12v12h-12zM373 1978h12v12h-12zM373 2002h12v12h-12zM446 2002h12v12h-12zM276 2039h12v12h-12zM325 2039h12v12h-12zM446 2039h24v12h-24zM458 2051h12v12h-12zM252 2063h12v12h-12zM288 2075h24v12h-24zM458 2075h12v12h-12zM337 2087h12v13h-12zM434 2087h12v13h-12zM312 2100h13v12h-13zM410 2100h12v12h-12zM434 2100h12v12h-12zM446 2112h12v12h-12zM312 2124h13v12h-13zM349 2124h24v12h-24zM446 2124h12v12h-12zM264 2136h12v12h-12zM312 2136h13v12h-13zM337 2136h36v12h-36zM458 2136h12v12h-12z"/>
<path fill="#f83b00" d="M227 1734h12v12h-12zM227 1758h12v12h-12zM203 1770h12v13h-12zM215 1783h12v12h-12zM422 1795h12v12h-12zM446 1807h24v12h-24zM142 1831h12v13h-12zM385 1844h13v12h-13zM167 1905h12v12h-12zM203 1905h12v12h-12zM179 1917h12v12h-12zM300 1941h12v12h-12zM154 1953h13v12h-13zM410 1953h12v12h-12zM312 2002h13v12h-13zM434 2002h12v12h-12zM276 2026h12v13h-12zM422 2026h12v13h-12zM434 2039h12v12h-12zM385 2051h13v12h-13zM239 2063h13v12h-13zM325 2063h12v12h-12zM458 2063h12v12h-12zM215 2087h24v13h-24zM349 2087h12v13h-12zM385 2087h13v13h-13zM300 2100h12v12h-12zM398 2100h12v12h-12zM422 2100h12v12h-12zM252 2112h24v12h-24zM300 2112h12v12h-12zM434 2112h12v12h-12zM239 2124h13v12h-13zM252 2136h12v12h-12zM373 2136h12v12h-12z"/>
<path fill="#fa4c00" d="M252 1734h12v12h-12zM191 1746h12v12h-12zM239 1770h13v13h-13zM410 1795h12v12h-12zM458 1795h12v12h-12zM215 1807h12v12h-12zM227 1819h12v12h-12zM373 1819h12v12h-12zM361 1831h12v13h-12zM349 1844h12v12h-12zM385 1856h13v12h-13zM142 1868h12v12h-12zM458 1868h12v12h-12zM410 1880h12v12h-12zM215 1892h12v13h-12zM288 1941h12v12h-12zM434 1941h12v12h-12zM458 1941h12v12h-12zM264 1953h12v12h-12zM361 1965h24v13h-24zM337 1978h12v12h-12zM142 1990h12v12h-12zM215 1990h12v12h-12zM227 2002h12v12h-12zM264 2002h12v12h-12zM191 2014h12v12h-12zM337 2014h24v12h-24zM458 2014h12v12h-12zM264 2026h12v13h-12zM373 2026h12v13h-12zM398 2026h12v13h-12zM434 2026h12v13h-12zM215 2051h12v12h-12zM349 2051h12v12h-12zM227 2063h12v12h-12zM349 2063h24v12h-24zM227 2075h25v12h-25zM191 2087h12v13h-12zM264 2087h24v13h-24zM373 2087h12v13h-12zM373 2100h12v12h-12zM373 2112h25v12h-25zM422 2112h12v12h-12zM410 2124h12v12h-12zM385 2136h13v12h-13zM422 2136h12v12h-12z"/>
<path fill="#fc5700" d="M264 1734h12v12h-12zM239 1746h13v12h-13zM191 1758h12v12h-12zM215 1770h12v13h-12zM142 1819h12v12h-12zM337 1831h12v13h-12zM154 1856h13v12h-13zM154 1868h13v12h-13zM385 1868h13v12h-13zM422 1880h12v12h-12zM142 1905h12v12h-12zM264 1905h12v12h-12zM252 1917h12v12h-12zM300 1917h12v12h-12zM167 1953h12v12h-12zM373 1953h12v12h-12zM167 1965h12v13h-12zM276 1965h12v13h-12zM167 1978h12v12h-12zM227 1978h12v12h-12zM154 1990h13v12h-13zM191 1990h12v12h-12zM312 1990h13v12h-13zM154 2002h13v12h-13zM203 2002h12v12h-12zM300 2002h12v12h-12zM252 2014h12v12h-12zM191 2026h12v13h-12zM361 2026h12v13h-12zM349 2039h12v12h-12zM385 2039h13v12h-13zM337 2051h12v12h-12zM203 2063h12v12h-12zM337 2063h12v12h-12zM191 2075h12v12h-12zM288 2100h12v12h-12zM167 2112h12v12h-12z"/>
<path fill="#fc5d00" d="M276 1734h12v12h-12zM264 1746h12v12h-12zM458 1770h12v13h-12zM446 1783h24v12h-24zM227 1795h12v12h-12zM154 1819h13v12h-13zM349 1831h12v13h-12zM337 1844h12v12h-12zM446 1868h12v12h-12zM142 1880h12v12h-12zM398 1880h12v12h-12zM276 1905h12v12h-12zM142 1917h12v12h-12zM179 1929h12v12h-12zM252 1929h12v12h-12zM422 1929h12v12h-12zM142 1941h12v12h-12zM252 1941h12v12h-12zM398 1941h36v12h-36zM398 1953h12v12h-12zM227 1965h12v13h-12zM312 1978h25v12h-25zM191 2002h12v12h-12zM239 2002h13v12h-13zM288 2002h12v12h-12zM337 2002h12v12h-12zM252 2026h12v13h-12zM191 2039h12v12h-12zM227 2039h37v12h-37zM337 2039h12v12h-12zM361 2039h12v12h-12zM191 2051h12v12h-12zM361 2051h24v12h-24zM191 2063h12v12h-12zM349 2075h12v12h-12zM167 2136h12v12h-12z"/>
<path fill="#fd6d00" d="M300 1734h12v12h-12zM434 1734h24v12h-24zM252 1770h12v13h-12zM203 1795h12v12h-12zM385 1795h13v12h-13zM349 1819h12v12h-12zM167 1831h12v13h-12zM167 1856h12v12h-12zM215 1880h12v12h-12zM458 1892h12v13h-12zM312 1917h13v12h-13zM385 1917h13v12h-13zM434 1917h12v12h-12zM325 1929h12v12h-12zM398 1929h12v12h-12zM239 1953h13v12h-13zM325 1965h12v13h-12zM276 1978h12v12h-12zM276 1990h12v12h-12zM300 1990h12v12h-12zM142 2014h12v12h-12zM167 2014h12v12h-12zM167 2026h12v13h-12zM154 2112h13v12h-13zM154 2136h13v12h-13z"/>
<path fill="#fd7c00" d="M312 1734h13v12h-13zM142 1746h12v12h-12zM239 1795h13v12h-13zM154 1807h13v12h-13zM252 1807h12v12h-12zM312 1819h13v12h-13zM312 1856h13v12h-13zM312 1880h13v12h-13zM227 1892h12v13h-12zM264 1892h12v13h-12zM288 1892h12v13h-12zM337 1905h12v12h-12zM215 1917h24v12h-24zM349 1917h12v12h-12zM239 1929h13v12h-13zM337 1941h12v12h-12zM191 1953h12v12h-12zM142 2026h12v13h-12zM142 2051h12v12h-12z"/>
<path fill="#fc8300" d="M325 1734h12v12h-12zM373 1734h12v12h-12zM422 1746h12v12h-12zM276 1758h12v12h-12zM264 1770h12v13h-12zM434 1770h12v13h-12zM337 1795h24v12h-24zM325 1807h12v12h-12zM203 1819h12v12h-12zM276 1819h12v12h-12zM264 1831h12v13h-12zM239 1844h13v12h-13zM215 1929h12v12h-12zM215 1941h12v12h-12z"/>
<path fill="#fc8c00" d="M337 1734h12v12h-12zM385 1783h13v12h-13zM179 1795h12v12h-12zM203 1807h12v12h-12zM300 1807h12v12h-12zM288 1819h12v12h-12zM227 1856h12v12h-12zM227 1868h12v12h-12zM300 1880h12v12h-12z"/>
<path fill="#fc8f00" d="M349 1734h12v12h-12zM288 1758h12v12h-12zM179 1783h12v12h-12zM252 1795h12v12h-12zM325 1795h12v12h-12zM276 1807h12v12h-12zM276 1831h12v13h-12zM288 1844h12v12h-12zM300 1868h12v12h-12z"/>
<path fill="#fc8000" d="M361 1734h12v12h-12zM154 1746h13v12h-13zM179 1758h12v12h-12zM398 1783h12v12h-12zM361 1795h12v12h-12zM167 1807h12v12h-12zM264 1819h12v12h-12zM179 1831h24v13h-24zM239 1831h13v13h-13zM239 1892h25v13h-25zM276 1892h12v13h-12zM325 1892h12v13h-12zM349 1892h12v13h-12zM227 1929h12v12h-12zM142 2075h12v12h-12z"/>
<path fill="#fd7300" d="M385 1734h13v12h-13zM410 1734h24v12h-24zM191 1783h12v12h-12zM422 1783h12v12h-12zM337 1807h12v12h-12zM167 1819h12v12h-12zM203 1831h12v13h-12zM179 1844h12v12h-12zM325 1880h12v12h-12zM227 1905h12v12h-12zM373 1917h12v12h-12zM410 1917h12v12h-12zM203 1929h12v12h-12zM191 1941h24v12h-24zM325 1941h12v12h-12zM349 1941h12v12h-12zM227 1953h12v12h-12zM142 2039h12v12h-12zM154 2051h13v12h-13zM142 2063h25v12h-25zM167 2075h12v12h-12zM167 2087h12v13h-12z"/>
<path fill="#fd7600" d="M398 1734h12v12h-12zM434 1746h12v12h-12zM264 1758h12v12h-12zM312 1831h13v13h-13zM215 1856h12v12h-12zM203 1868h24v12h-24zM312 1868h13v12h-13zM300 1892h12v13h-12zM239 1905h13v12h-13zM361 1905h12v12h-12zM325 1917h12v12h-12zM361 1917h12v12h-12zM458 1917h12v12h-12zM239 1941h13v12h-13zM191 1965h12v13h-12zM154 2039h13v12h-13z"/>
<path fill="#fd7900" d="M167 1746h12v12h-12zM288 1746h12v12h-12zM239 1783h13v12h-13zM410 1783h12v12h-12zM373 1795h12v12h-12zM252 1819h12v12h-12zM252 1831h12v13h-12zM227 1844h12v12h-12zM312 1844h13v12h-13zM179 1856h36v12h-36zM325 1868h12v12h-12zM227 1880h12v12h-12zM312 1892h13v13h-13zM337 1892h12v13h-12zM349 1905h12v12h-12zM458 1905h12v12h-12zM239 1917h13v12h-13zM337 1917h12v12h-12zM337 1929h12v12h-12zM203 1953h12v12h-12zM288 1990h12v12h-12zM154 2075h13v12h-13zM142 2087h25v13h-25zM142 2124h12v12h-12zM142 2136h12v12h-12z"/>
<path fill="#f83500" d="M203 1746h12v12h-12zM215 1795h12v12h-12zM446 1819h12v12h-12zM373 1844h12v12h-12zM434 1856h12v12h-12zM203 1892h12v13h-12zM276 1929h24v12h-24zM276 1941h12v12h-12zM142 1953h12v12h-12zM385 1965h13v13h-13zM422 2002h12v12h-12zM215 2014h12v12h-12zM325 2014h12v12h-12zM446 2026h12v13h-12zM422 2039h12v12h-12zM252 2051h12v12h-12zM264 2063h12v12h-12zM312 2063h13v12h-13zM312 2075h13v12h-13zM288 2087h49v13h-49zM252 2100h12v12h-12zM361 2100h12v12h-12zM276 2112h24v12h-24zM361 2112h12v12h-12zM325 2136h12v12h-12zM446 2136h12v12h-12z"/>
<path fill="#fa4600" d="M215 1746h12v12h-12zM252 1758h12v12h-12zM227 1770h12v13h-12zM227 1807h12v12h-12zM385 1807h13v12h-13zM215 1819h12v12h-12zM385 1819h13v12h-13zM142 1844h12v12h-12zM361 1844h12v12h-12zM361 1856h24v12h-24zM154 1880h13v12h-13zM154 1892h13v13h-13zM167 1917h12v12h-12zM276 1917h24v12h-24zM300 1929h12v12h-12zM154 1965h13v13h-13zM264 1965h12v13h-12zM154 1978h13v12h-13zM361 1978h12v12h-12zM227 1990h12v12h-12zM349 1990h12v12h-12zM215 2002h12v12h-12zM349 2002h12v12h-12zM203 2014h12v12h-12zM276 2014h24v12h-24zM398 2014h12v12h-12zM434 2014h24v12h-24zM203 2026h36v13h-36zM337 2026h12v13h-12zM385 2026h13v13h-13zM264 2039h12v12h-12zM410 2039h12v12h-12zM227 2051h12v12h-12zM264 2051h12v12h-12zM252 2075h24v12h-24zM361 2075h12v12h-12zM385 2075h13v12h-13zM203 2087h12v13h-12zM239 2087h13v13h-13zM239 2100h13v12h-13zM264 2100h12v12h-12zM179 2112h12v12h-12zM398 2124h12v12h-12zM422 2124h24v12h-24zM410 2136h12v12h-12z"/>
<path fill="#fb5100" d="M252 1746h12v12h-12zM203 1783h12v12h-12zM227 1783h12v12h-12zM154 1831h13v13h-13zM215 1831h12v13h-12zM349 1856h12v12h-12zM446 1856h12v12h-12zM373 1868h12v12h-12zM422 1868h12v12h-12zM458 1880h12v12h-12zM142 1892h12v13h-12zM410 1892h12v13h-12zM154 1905h13v12h-13zM203 1917h12v12h-12zM167 1929h12v12h-12zM154 1941h13v12h-13zM312 1941h13v12h-13zM446 1941h12v12h-12zM252 1953h12v12h-12zM276 1953h12v12h-12zM385 1953h13v12h-13zM239 1965h25v13h-25zM142 1978h12v12h-12zM349 1978h12v12h-12zM179 1990h12v12h-12zM337 1990h12v12h-12zM227 2014h12v12h-12zM264 2014h12v12h-12zM361 2014h24v12h-24zM410 2014h24v12h-24zM410 2026h12v13h-12zM203 2039h24v12h-24zM215 2063h12v12h-12zM373 2063h12v12h-12zM203 2075h24v12h-24zM361 2087h12v13h-12zM276 2100h12v12h-12zM385 2100h13v12h-13zM398 2112h12v12h-12zM252 2124h12v12h-12zM385 2124h13v12h-13z"/>
<path fill="#fc8600" d="M300 1746h12v12h-12zM434 1758h12v12h-12zM179 1770h12v13h-12zM191 1795h12v12h-12zM312 1807h13v12h-13zM288 1831h24v13h-24z"/>
<path fill="#fc8900" d="M312 1746h13v12h-13zM410 1746h12v12h-12zM252 1783h12v12h-12zM264 1807h12v12h-12zM300 1819h12v12h-12zM300 1844h12v12h-12zM227 1941h12v12h-12z"/>
<path fill="#fc9600" d="M325 1746h12v12h-12zM373 1746h12v12h-12zM167 1758h12v12h-12zM422 1770h12v13h-12zM179 1807h12v12h-12zM288 1807h12v12h-12zM288 1880h12v12h-12z"/>
<path fill="#fc9c00" d="M337 1746h12v12h-12zM422 1758h12v12h-12zM167 1795h12v12h-12zM239 1856h13v12h-13z"/>
<path fill="#fc9f00" d="M349 1746h12v12h-12zM337 1783h12v12h-12zM276 1844h12v12h-12z"/>
<path fill="#fca300" d="M361 1746h12v12h-12zM312 1758h13v12h-13zM410 1770h12v13h-12zM167 1783h12v12h-12zM349 1783h36v12h-36zM154 1795h13v12h-13zM312 1795h13v12h-13zM288 1856h12v12h-12zM239 1868h13v12h-13z"/>
<path fill="#fc9200" d="M385 1746h25v12h-25zM276 1770h12v13h-12zM179 1819h12v12h-12zM264 1844h12v12h-12zM300 1856h12v12h-12zM239 1880h13v12h-13zM264 1880h12v12h-12z"/>
<path fill="#fbb100" d="M142 1758h25v12h-25zM410 1758h12v12h-12zM167 1770h12v13h-12zM276 1795h24v12h-24zM252 1868h12v12h-12z"/>
<path fill="#f72900" d="M239 1758h13v12h-13zM398 1807h12v12h-12zM179 1880h12v12h-12zM167 1892h12v13h-12zM361 1990h12v12h-12zM398 2002h24v12h-24zM458 2002h12v12h-12zM325 2026h12v13h-12zM446 2051h12v12h-12zM276 2075h12v12h-12zM398 2087h12v13h-12zM446 2087h12v13h-12zM191 2100h12v12h-12zM349 2100h12v12h-12zM312 2112h13v12h-13zM349 2112h12v12h-12zM179 2124h12v12h-12zM276 2124h12v12h-12zM458 2124h12v12h-12zM179 2136h12v12h-12z"/>
<path fill="#fc9900" d="M300 1758h12v12h-12zM264 1795h12v12h-12zM252 1844h12v12h-12zM288 1868h12v12h-12zM252 1880h12v12h-12zM276 1880h12v12h-12z"/>
<path fill="#fbc600" d="M325 1758h12v12h-12z"/>
<path fill="#fac900" d="M337 1758h12v12h-12zM398 1758h12v12h-12zM337 1770h12v13h-12z"/>
<path fill="#facd00" d="M349 1758h12v12h-12zM373 1758h12v12h-12zM142 1783h25v12h-25z"/>
<path fill="#fad000" d="M361 1758h12v12h-12z"/>
<path fill="#f9d900" d="M385 1758h13v12h-13zM361 1770h12v13h-12zM385 1770h13v13h-13z"/>
<path fill="#fad400" d="M142 1770h12v13h-12z"/>
<path fill="#fbbf00" d="M154 1770h13v13h-13z"/>
<path fill="#fd6300" d="M191 1770h12v13h-12zM434 1783h12v12h-12zM398 1795h12v12h-12zM373 1807h12v12h-12zM227 1831h12v13h-12zM167 1844h12v12h-12zM337 1856h12v12h-12zM167 1868h12v12h-12zM361 1868h12v12h-12zM434 1868h12v12h-12zM373 1880h12v12h-12zM446 1892h12v13h-12zM252 1905h12v12h-12zM410 1905h36v12h-36zM154 1917h13v12h-13zM167 1941h12v12h-12zM361 1941h12v12h-12zM288 1953h24v12h-24zM361 1953h12v12h-12zM179 1965h12v13h-12zM349 1965h12v13h-12zM179 1978h12v12h-12zM239 1978h25v12h-25zM167 1990h12v12h-12zM203 1990h12v12h-12zM325 1990h12v12h-12zM252 2002h12v12h-12zM276 2002h12v12h-12zM239 2026h13v13h-13zM179 2100h12v12h-12zM167 2124h12v12h-12z"/>
<path fill="#fcaa00" d="M288 1770h24v13h-24zM252 1856h12v12h-12z"/>
<path fill="#fbb400" d="M312 1770h13v13h-13zM276 1783h12v12h-12zM264 1856h12v12h-12z"/>
<path fill="#fbc200" d="M325 1770h12v13h-12zM398 1770h12v13h-12zM288 1783h24v12h-24z"/>
<path fill="#fad700" d="M349 1770h12v13h-12z"/>
<path fill="#f6dd00" d="M373 1770h12v13h-12z"/>
<path fill="#fbad00" d="M264 1783h12v12h-12zM142 1795h12v12h-12zM300 1795h12v12h-12zM276 1856h12v12h-12z"/>
<path fill="#fbb800" d="M312 1783h13v12h-13zM191 1807h12v12h-12zM264 1868h24v12h-24z"/>
<path fill="#fca600" d="M325 1783h12v12h-12zM191 1819h12v12h-12z"/>
<path fill="#f51e00" d="M410 1807h24v12h-24zM446 1831h12v13h-12zM446 1844h12v12h-12zM398 1965h12v13h-12zM385 2002h13v12h-13zM288 2026h12v13h-12zM276 2051h12v12h-12zM398 2075h12v12h-12zM446 2100h12v12h-12zM300 2124h12v12h-12zM276 2136h12v12h-12zM300 2136h12v12h-12z"/>
<path fill="#f51800" d="M434 1807h12v12h-12zM385 1831h13v13h-13zM434 1844h12v12h-12zM179 1905h24v12h-24zM458 1953h12v12h-12zM312 2051h13v12h-13zM227 2100h12v12h-12zM325 2100h12v12h-12zM458 2100h12v12h-12zM191 2112h12v12h-12zM325 2112h12v12h-12zM227 2124h12v12h-12zM288 2124h12v12h-12z"/>
<path fill="#f62400" d="M398 1819h12v12h-12zM191 1880h12v12h-12zM325 2051h12v12h-12zM398 2051h12v12h-12zM446 2075h12v12h-12zM458 2087h12v13h-12zM239 2112h13v12h-13zM325 2124h24v12h-24z"/>
<path fill="#f20000" d="M410 1819h24v12h-24zM410 1831h24v13h-24zM191 1892h12v13h-12zM434 1965h36v13h-36zM398 1978h60v12h-60zM312 2026h13v13h-13zM288 2039h12v12h-12zM300 2051h12v12h-12zM422 2063h12v12h-12zM410 2075h12v12h-12zM215 2100h12v12h-12zM215 2112h24v12h-24zM203 2124h24v12h-24zM191 2136h36v12h-36z"/>
<path fill="#f20100" d="M434 1819h12v12h-12zM434 1831h12v13h-12zM410 1844h24v12h-24zM434 1953h12v12h-12zM385 1978h13v12h-13zM458 1978h12v12h-12zM385 1990h13v12h-13zM458 1990h12v12h-12zM312 2039h13v12h-13zM288 2051h12v12h-12zM410 2051h12v12h-12zM288 2063h12v12h-12zM410 2063h12v12h-12zM422 2075h12v12h-12zM337 2112h12v12h-12z"/>
<path fill="#f30d00" d="M398 1831h12v13h-12zM398 1844h12v12h-12zM446 1953h12v12h-12zM373 1990h12v12h-12zM410 1990h12v12h-12zM300 2026h12v13h-12zM300 2039h12v12h-12zM398 2063h12v12h-12zM446 2063h12v12h-12zM422 2087h12v13h-12zM203 2100h12v12h-12zM191 2124h12v12h-12zM288 2136h12v12h-12z"/>
<path fill="#f41300" d="M410 1856h12v12h-12zM410 1965h12v13h-12zM398 1990h12v12h-12zM312 2014h13v12h-13zM434 2051h12v12h-12zM276 2063h12v12h-12zM434 2075h12v12h-12zM458 2112h12v12h-12z"/>
<path fill="#f30700" d="M179 1892h12v13h-12zM422 1965h12v13h-12zM422 1990h36v12h-36zM422 2051h12v12h-12zM300 2063h12v12h-12zM434 2063h12v12h-12zM410 2087h12v13h-12zM337 2100h12v12h-12zM203 2112h12v12h-12zM227 2136h12v12h-12z"/>
</g>
<g shape-rendering="crispEdges">
<path fill="#f83500" d="M517 1734h12v12h-12zM517 1746h12v12h-12zM554 1746h12v12h-12zM529 1783h13v12h-13zM554 1795h12v12h-12zM639 2002h12v12h-12zM627 2026h12v13h-12zM651 2039h12v12h-12z"/>
<path fill="#f62400" d="M529 1734h13v12h-13zM529 1758h13v12h-13zM529 1770h13v13h-13zM517 1795h12v12h-12zM529 1807h13v12h-13zM639 2039h12v12h-12zM639 2051h12v12h-12z"/>
<path fill="#f30d00" d="M542 1734h12v12h-12zM542 1783h12v12h-12z"/>
<path fill="#f94000" d="M554 1734h12v12h-12zM517 1758h12v12h-12zM554 1783h12v12h-12zM554 1819h12v12h-12zM651 2014h25v12h-25z"/>
<path fill="#fd6300" d="M566 1734h12v12h-12zM566 1795h12v12h-12zM542 1844h12v12h-12zM700 1953h12v12h-12zM676 1990h12v12h-12zM615 2039h12v12h-12zM688 2136h12v12h-12z"/>
<path fill="#fc8300" d="M578 1734h12v12h-12zM615 1734h12v12h-12zM602 1807h13v12h-13zM736 1831h13v13h-13zM749 1856h12v12h-12zM773 1856h12v12h-12zM529 1880h13v12h-13zM688 1905h24v12h-24zM529 1917h13v12h-13zM736 1917h13v12h-13zM700 1929h12v12h-12zM627 1941h12v12h-12zM590 1965h12v13h-12zM639 1965h12v13h-12zM578 2002h24v12h-24zM736 2002h13v12h-13zM761 2026h12v13h-12zM700 2063h12v12h-12zM736 2063h13v12h-13zM700 2075h12v12h-12zM749 2075h24v12h-24zM761 2087h12v13h-12zM615 2100h12v12h-12zM761 2100h12v12h-12zM822 2100h12v12h-12zM761 2112h12v12h-12zM663 2124h13v12h-13z"/>
<path fill="#fc8900" d="M590 1734h12v12h-12zM615 1746h12v12h-12zM627 1758h24v12h-24zM590 1770h12v13h-12zM663 1795h13v12h-13zM700 1795h12v12h-12zM724 1795h12v12h-12zM749 1795h12v12h-12zM651 1807h12v12h-12zM749 1807h12v12h-12zM676 1819h24v12h-24zM517 1844h12v12h-12zM785 1844h12v12h-12zM517 1856h12v12h-12zM590 1856h12v12h-12zM517 1868h12v12h-12zM749 1868h24v12h-24zM785 1868h12v12h-12zM554 1880h12v12h-12zM797 1880h12v12h-12zM834 1880h12v12h-12zM639 1917h12v12h-12zM773 1917h12v12h-12zM822 1917h12v12h-12zM676 1929h12v12h-12zM809 1929h13v12h-13zM517 1941h25v12h-25zM529 1953h13v12h-13zM627 1953h12v12h-12zM797 1953h12v12h-12zM529 1965h13v13h-13zM822 1965h12v13h-12zM542 1978h12v12h-12zM627 1978h12v12h-12zM554 1990h24v12h-24zM590 1990h12v12h-12zM785 1990h12v12h-12zM834 1990h12v12h-12zM529 2002h13v12h-13zM566 2002h12v12h-12zM517 2014h12v12h-12zM749 2026h12v13h-12zM736 2039h13v12h-13zM785 2039h12v12h-12zM602 2075h13v12h-13zM663 2075h13v12h-13zM834 2075h12v12h-12zM602 2087h13v13h-13zM578 2100h12v12h-12zM627 2100h12v12h-12zM749 2100h12v12h-12zM797 2100h12v12h-12zM724 2112h12v12h-12zM749 2112h12v12h-12zM712 2124h24v12h-24z"/>
<path fill="#fd7900" d="M602 1734h13v12h-13zM578 1746h12v12h-12zM797 1856h12v12h-12zM797 1868h12v12h-12zM773 1929h12v12h-12zM773 1941h12v12h-12zM578 1953h12v12h-12zM809 1965h13v13h-13zM578 1978h12v12h-12zM785 1978h12v12h-12zM676 2026h12v13h-12zM834 2026h12v13h-12zM627 2075h12v12h-12zM651 2087h12v13h-12zM785 2112h12v12h-12zM651 2124h12v12h-12zM615 2136h12v12h-12zM676 2136h12v12h-12zM773 2136h12v12h-12z"/>
<path fill="#fd7600" d="M627 1734h12v12h-12zM566 1770h12v13h-12zM797 1844h12v12h-12zM554 1868h12v12h-12zM736 1868h13v12h-13zM517 1917h12v12h-12zM688 1917h12v12h-12zM700 1941h12v12h-12zM676 1965h12v13h-12zM700 1978h24v12h-24zM761 1978h12v12h-12zM822 1978h12v12h-12zM773 1990h12v12h-12zM676 2014h12v12h-12zM590 2026h12v13h-12zM676 2039h12v12h-12zM834 2039h12v12h-12zM615 2063h12v12h-12zM663 2063h13v12h-13zM627 2087h12v13h-12zM809 2087h13v13h-13zM639 2100h12v12h-12zM676 2100h12v12h-12zM785 2124h12v12h-12z"/>
<path fill="#fd7300" d="M639 1734h24v12h-24zM566 1758h12v12h-12zM590 1807h12v12h-12zM785 1856h12v12h-12zM822 1856h12v12h-12zM809 1868h13v12h-13zM761 1941h12v12h-12zM566 1953h12v12h-12zM809 1978h13v12h-13zM627 1990h12v12h-12zM688 1990h12v12h-12zM724 1990h12v12h-12zM749 2002h12v12h-12zM602 2051h13v12h-13zM688 2075h12v12h-12zM639 2112h24v12h-24zM676 2112h12v12h-12zM627 2124h12v12h-12zM749 2124h12v12h-12zM773 2124h12v12h-12zM639 2136h12v12h-12zM736 2136h13v12h-13zM785 2136h24v12h-24z"/>
<path fill="#fc8000" d="M663 1734h25v12h-25zM602 1746h13v12h-13zM578 1758h12v12h-12zM676 1807h12v12h-12zM700 1819h12v12h-12zM517 1831h12v13h-12zM566 1844h24v12h-24zM602 1856h13v12h-13zM834 1856h12v12h-12zM529 1892h13v13h-13zM700 1917h12v12h-12zM517 1929h12v12h-12zM736 1941h13v12h-13zM517 1953h12v12h-12zM639 1953h12v12h-12zM724 1965h12v13h-12zM651 1978h25v12h-25zM615 1990h12v12h-12zM822 1990h12v12h-12zM602 2002h13v12h-13zM688 2002h12v12h-12zM785 2002h24v12h-24zM578 2014h12v12h-12zM578 2039h12v12h-12zM724 2051h25v12h-25zM602 2063h13v12h-13zM676 2063h12v12h-12zM809 2075h25v12h-25zM700 2087h12v13h-12zM773 2087h12v13h-12zM517 2100h12v12h-12zM517 2112h12v12h-12zM773 2112h12v12h-12zM590 2124h12v12h-12zM615 2124h12v12h-12z"/>
<path fill="#fd7c00" d="M688 1734h12v12h-12zM590 1746h12v12h-12zM639 1746h24v12h-24zM578 1783h12v12h-12zM688 1807h12v12h-12zM797 1831h25v13h-25zM529 1844h13v12h-13zM529 1856h13v12h-13zM554 1856h12v12h-12zM773 1868h12v12h-12zM517 1905h12v12h-12zM712 1917h12v12h-12zM688 1929h12v12h-12zM749 1941h12v12h-12zM615 1978h12v12h-12zM749 1978h12v12h-12zM773 1978h12v12h-12zM639 1990h12v12h-12zM700 1990h24v12h-24zM676 2002h12v12h-12zM809 2002h13v12h-13zM749 2014h12v12h-12zM578 2026h12v13h-12zM688 2063h12v12h-12zM676 2087h12v13h-12zM651 2100h12v12h-12zM785 2100h12v12h-12zM676 2124h12v12h-12zM797 2124h12v12h-12z"/>
<path fill="#fc8f00" d="M700 1734h12v12h-12zM773 1734h12v12h-12zM627 1746h12v12h-12zM663 1746h13v12h-13zM834 1746h12v12h-12zM639 1770h12v13h-12zM712 1783h12v12h-12zM590 1795h12v12h-12zM615 1795h12v12h-12zM761 1795h12v12h-12zM700 1807h24v12h-24zM761 1807h12v12h-12zM712 1831h24v13h-24zM566 1856h12v12h-12zM627 1856h12v12h-12zM724 1868h12v12h-12zM688 1880h12v12h-12zM785 1880h12v12h-12zM809 1880h13v12h-13zM517 1892h12v13h-12zM688 1892h12v13h-12zM712 1905h12v12h-12zM749 1905h12v12h-12zM542 1917h12v12h-12zM676 1917h12v12h-12zM749 1917h12v12h-12zM834 1917h12v12h-12zM529 1929h13v12h-13zM615 1929h12v12h-12zM797 1929h12v12h-12zM542 1941h24v12h-24zM651 1941h12v12h-12zM809 1941h13v12h-13zM834 1941h12v12h-12zM542 1953h12v12h-12zM724 1953h12v12h-12zM773 1953h12v12h-12zM542 1965h12v13h-12zM834 1978h12v12h-12zM566 2014h12v12h-12zM724 2014h12v12h-12zM773 2014h12v12h-12zM517 2026h12v13h-12zM700 2026h24v13h-24zM785 2026h24v13h-24zM529 2039h13v12h-13zM566 2039h12v12h-12zM688 2039h36v12h-36zM797 2039h37v12h-37zM517 2051h12v12h-12zM834 2051h12v12h-12zM797 2063h12v12h-12zM822 2063h12v12h-12zM736 2075h13v12h-13zM529 2087h13v13h-13zM785 2087h12v13h-12zM663 2100h13v12h-13zM736 2100h13v12h-13zM809 2100h13v12h-13zM578 2136h12v12h-12z"/>
<path fill="#fc9200" d="M712 1734h12v12h-12zM822 1734h24v12h-24zM700 1746h12v12h-12zM773 1746h12v12h-12zM797 1758h12v12h-12zM602 1770h13v13h-13zM627 1770h12v13h-12zM761 1770h12v13h-12zM785 1770h12v13h-12zM822 1770h12v13h-12zM749 1783h12v12h-12zM688 1795h12v12h-12zM712 1795h12v12h-12zM615 1819h12v12h-12zM785 1831h12v13h-12zM761 1844h12v12h-12zM639 1856h24v12h-24zM529 1868h13v12h-13zM590 1868h12v12h-12zM639 1868h24v12h-24zM834 1868h12v12h-12zM663 1880h13v12h-13zM578 1892h12v13h-12zM651 1905h12v12h-12zM809 1905h25v12h-25zM797 1917h12v12h-12zM602 1929h13v12h-13zM627 1929h12v12h-12zM590 1941h12v12h-12zM615 1941h12v12h-12zM785 1941h12v12h-12zM651 1965h12v13h-12zM834 1965h12v13h-12zM590 1978h25v12h-25zM724 2002h12v12h-12zM822 2002h12v12h-12zM554 2014h12v12h-12zM822 2014h12v12h-12zM566 2026h12v13h-12zM724 2026h12v13h-12zM809 2026h13v13h-13zM724 2039h12v12h-12zM761 2039h12v12h-12zM529 2051h13v12h-13zM566 2051h12v12h-12zM700 2051h12v12h-12zM797 2051h12v12h-12zM822 2051h12v12h-12zM566 2063h12v12h-12zM749 2063h12v12h-12zM712 2087h12v13h-12zM736 2087h13v13h-13zM542 2100h12v12h-12zM724 2100h12v12h-12zM529 2112h13v12h-13zM590 2112h12v12h-12zM663 2112h13v12h-13zM712 2112h12v12h-12zM834 2112h12v12h-12zM578 2124h12v12h-12zM602 2124h13v12h-13zM809 2124h13v12h-13zM517 2136h12v12h-12zM712 2136h24v12h-24z"/>
<path fill="#fc9600" d="M724 1734h12v12h-12zM761 1734h12v12h-12zM688 1746h12v12h-12zM785 1746h24v12h-24zM785 1758h12v12h-12zM834 1758h12v12h-12zM615 1770h12v13h-12zM773 1770h12v13h-12zM590 1783h12v12h-12zM676 1795h12v12h-12zM627 1807h12v12h-12zM663 1819h13v12h-13zM724 1819h12v12h-12zM749 1819h12v12h-12zM700 1831h12v13h-12zM773 1831h12v13h-12zM590 1844h12v12h-12zM615 1856h12v12h-12zM724 1856h12v12h-12zM578 1868h12v12h-12zM615 1868h12v12h-12zM627 1880h12v12h-12zM761 1880h12v12h-12zM566 1892h12v13h-12zM639 1892h12v13h-12zM712 1892h12v13h-12zM761 1892h24v13h-24zM554 1929h12v12h-12zM578 1929h12v12h-12zM712 1929h24v12h-24zM712 1941h12v12h-12zM749 1953h12v12h-12zM834 1953h12v12h-12zM602 1965h13v13h-13zM773 1965h12v13h-12zM554 2002h12v12h-12zM712 2002h12v12h-12zM834 2002h12v12h-12zM797 2014h25v12h-25zM542 2026h12v13h-12zM736 2026h13v13h-13zM822 2026h12v13h-12zM749 2051h12v12h-12zM554 2063h12v12h-12zM809 2063h13v12h-13zM834 2063h12v12h-12zM529 2075h13v12h-13zM724 2075h12v12h-12zM785 2075h12v12h-12zM517 2087h12v13h-12zM566 2087h24v13h-24zM724 2087h12v13h-12zM834 2100h12v12h-12zM578 2112h12v12h-12zM615 2112h12v12h-12zM809 2112h13v12h-13zM822 2124h12v12h-12zM834 2136h12v12h-12z"/>
<path fill="#fcaa00" d="M736 1734h13v12h-13zM712 1758h12v12h-12zM749 1770h12v13h-12zM785 1783h12v12h-12zM809 1795h13v12h-13zM834 1795h12v12h-12zM797 1807h12v12h-12zM627 1844h24v12h-24zM749 1892h12v13h-12zM615 1905h12v12h-12zM663 1917h13v12h-13zM529 1990h13v12h-13zM554 2112h12v12h-12z"/>
<path fill="#fc9c00" d="M749 1734h12v12h-12zM797 1734h12v12h-12zM712 1746h12v12h-12zM736 1746h13v12h-13zM761 1758h24v12h-24zM809 1758h25v12h-25zM651 1770h12v13h-12zM834 1770h12v13h-12zM602 1783h13v12h-13zM627 1795h12v12h-12zM639 1807h12v12h-12zM639 1819h12v12h-12zM712 1819h12v12h-12zM822 1819h24v12h-24zM712 1844h24v12h-24zM566 1868h12v12h-12zM602 1868h13v12h-13zM639 1880h24v12h-24zM676 1880h12v12h-12zM736 1880h25v12h-25zM822 1880h12v12h-12zM700 1892h12v13h-12zM797 1892h12v13h-12zM554 1905h12v12h-12zM627 1905h12v12h-12zM676 1905h12v12h-12zM773 1905h12v12h-12zM566 1917h12v12h-12zM590 1929h12v12h-12zM651 1929h12v12h-12zM834 1929h12v12h-12zM590 1953h12v12h-12zM822 1953h12v12h-12zM517 1990h12v12h-12zM542 2002h12v12h-12zM773 2039h12v12h-12zM542 2051h12v12h-12zM785 2063h12v12h-12zM578 2075h12v12h-12zM712 2075h12v12h-12zM773 2075h12v12h-12zM529 2124h13v12h-13zM834 2124h12v12h-12z"/>
<path fill="#fbad00" d="M785 1734h12v12h-12zM736 1758h13v12h-13zM663 1770h25v13h-25zM809 1807h13v12h-13zM834 1807h12v12h-12zM651 1831h12v13h-12zM651 1844h25v12h-25zM663 1856h13v12h-13zM700 1856h12v12h-12zM663 1868h13v12h-13zM590 1892h37v13h-37zM809 1892h13v13h-13zM663 1965h13v13h-13zM542 2063h12v12h-12zM542 2075h24v12h-24zM542 2087h12v13h-12z"/>
<path fill="#fc8c00" d="M809 1734h13v12h-13zM590 1758h25v12h-25zM663 1758h13v12h-13zM578 1770h12v13h-12zM676 1783h12v12h-12zM724 1783h12v12h-12zM736 1807h13v12h-13zM809 1819h13v12h-13zM761 1831h12v13h-12zM736 1844h13v12h-13zM773 1844h12v12h-12zM578 1856h12v12h-12zM822 1868h12v12h-12zM517 1880h12v12h-12zM566 1880h24v12h-24zM724 1880h12v12h-12zM773 1880h12v12h-12zM542 1892h12v13h-12zM724 1892h12v13h-12zM639 1905h12v12h-12zM724 1905h12v12h-12zM809 1917h13v12h-13zM542 1929h12v12h-12zM566 1929h12v12h-12zM639 1929h12v12h-12zM578 1941h12v12h-12zM639 1941h12v12h-12zM724 1941h12v12h-12zM615 1953h12v12h-12zM809 1953h13v12h-13zM554 1965h12v13h-12zM627 1965h12v13h-12zM736 1965h13v13h-13zM797 1965h12v13h-12zM566 1978h12v12h-12zM542 2014h12v12h-12zM785 2014h12v12h-12zM834 2014h12v12h-12zM749 2039h12v12h-12zM809 2051h13v12h-13zM590 2063h12v12h-12zM761 2063h12v12h-12zM676 2075h12v12h-12zM797 2075h12v12h-12zM590 2087h12v13h-12zM615 2087h12v13h-12zM663 2087h13v13h-13zM797 2087h12v13h-12zM822 2087h12v13h-12zM602 2100h13v12h-13zM773 2100h12v12h-12zM822 2112h12v12h-12zM566 2124h12v12h-12zM590 2136h25v12h-25z"/>
<path fill="#f72f00" d="M529 1746h13v12h-13zM554 1758h12v12h-12zM554 1807h12v12h-12z"/>
<path fill="#f51800" d="M542 1746h12v12h-12zM517 1770h12v13h-12zM542 1807h12v12h-12z"/>
<path fill="#fd6d00" d="M566 1746h12v12h-12zM578 1819h12v12h-12zM566 1831h12v13h-12zM554 1844h12v12h-12zM822 1844h12v12h-12zM809 1856h13v12h-13zM749 1929h12v12h-12zM712 1965h12v13h-12zM688 1978h12v12h-12zM736 1978h13v12h-13zM736 1990h13v12h-13zM761 1990h12v12h-12zM797 1990h12v12h-12zM615 2002h12v12h-12zM761 2002h12v12h-12zM761 2014h12v12h-12zM602 2026h13v13h-13zM602 2039h13v12h-13zM688 2087h12v13h-12zM700 2100h12v12h-12zM688 2124h12v12h-12zM651 2136h12v12h-12z"/>
<path fill="#fc8600" d="M676 1746h12v12h-12zM615 1758h12v12h-12zM602 1819h13v12h-13zM736 1819h13v12h-13zM590 1831h12v13h-12zM749 1831h12v13h-12zM749 1844h12v12h-12zM736 1856h13v12h-13zM761 1856h12v12h-12zM542 1880h12v12h-12zM529 1905h25v12h-25zM736 1905h13v12h-13zM761 1905h12v12h-12zM834 1905h12v12h-12zM724 1917h12v12h-12zM761 1917h12v12h-12zM566 1941h12v12h-12zM676 1941h12v12h-12zM554 1953h12v12h-12zM676 1953h12v12h-12zM785 1953h12v12h-12zM517 1965h12v13h-12zM615 1965h12v13h-12zM785 1965h12v13h-12zM554 1978h12v12h-12zM639 1978h12v12h-12zM542 1990h12v12h-12zM578 1990h12v12h-12zM602 1990h13v12h-13zM517 2002h12v12h-12zM700 2002h12v12h-12zM529 2014h13v12h-13zM688 2014h12v12h-12zM590 2039h12v12h-12zM590 2051h12v12h-12zM676 2051h12v12h-12zM712 2051h12v12h-12zM712 2063h24v12h-24zM590 2075h12v12h-12zM615 2075h12v12h-12zM749 2087h12v13h-12zM529 2100h13v12h-13zM590 2100h12v12h-12zM627 2112h12v12h-12zM736 2112h13v12h-13zM797 2112h12v12h-12zM700 2124h12v12h-12zM627 2136h12v12h-12zM663 2136h13v12h-13zM700 2136h12v12h-12z"/>
<path fill="#fc9900" d="M724 1746h12v12h-12zM809 1746h25v12h-25zM651 1758h12v12h-12zM797 1770h12v13h-12zM627 1783h12v12h-12zM663 1783h13v12h-13zM736 1783h13v12h-13zM773 1783h12v12h-12zM822 1783h12v12h-12zM602 1795h13v12h-13zM651 1795h12v12h-12zM736 1795h13v12h-13zM663 1807h13v12h-13zM651 1819h12v12h-12zM761 1819h12v12h-12zM797 1819h12v12h-12zM639 1831h12v13h-12zM676 1868h24v12h-24zM615 1880h12v12h-12zM712 1880h12v12h-12zM663 1892h25v13h-25zM822 1892h24v13h-24zM566 1905h12v12h-12zM785 1905h12v12h-12zM554 1917h12v12h-12zM651 1917h12v12h-12zM785 1929h12v12h-12zM822 1929h12v12h-12zM602 1941h13v12h-13zM797 1941h12v12h-12zM822 1941h12v12h-12zM517 1978h25v12h-25zM700 2014h12v12h-12zM736 2014h13v12h-13zM529 2026h13v13h-13zM554 2026h12v13h-12zM773 2026h12v13h-12zM517 2039h12v12h-12zM554 2039h12v12h-12zM578 2051h12v12h-12zM688 2051h12v12h-12zM578 2063h12v12h-12zM566 2075h12v12h-12zM834 2087h12v13h-12zM566 2100h12v12h-12zM712 2100h12v12h-12zM542 2112h12v12h-12zM602 2112h13v12h-13zM517 2124h12v12h-12zM822 2136h12v12h-12z"/>
<path fill="#fbb100" d="M749 1746h12v12h-12zM736 1770h13v13h-13zM797 1783h25v12h-25zM785 1795h12v12h-12zM688 1844h12v12h-12zM578 1905h12v12h-12zM627 1917h12v12h-12zM663 1953h13v12h-13z"/>
<path fill="#fc9f00" d="M761 1746h12v12h-12zM809 1770h13v13h-13zM688 1783h12v12h-12zM761 1783h12v12h-12zM834 1783h12v12h-12zM615 1807h12v12h-12zM773 1807h12v12h-12zM822 1807h12v12h-12zM627 1819h12v12h-12zM773 1819h24v12h-24zM688 1831h12v13h-12zM688 1856h12v12h-12zM627 1868h12v12h-12zM712 1868h12v12h-12zM590 1880h12v12h-12zM554 1892h12v13h-12zM627 1892h12v13h-12zM736 1892h13v13h-13zM797 1905h12v12h-12zM615 1917h12v12h-12zM602 1953h13v12h-13zM749 1965h24v13h-24zM712 2014h12v12h-12zM688 2026h12v13h-12zM554 2051h12v12h-12zM761 2051h12v12h-12zM785 2051h12v12h-12zM529 2063h13v12h-13zM517 2075h12v12h-12zM554 2087h12v13h-12zM554 2100h12v12h-12zM566 2112h12v12h-12zM554 2124h12v12h-12zM529 2136h49v12h-49zM809 2136h13v12h-13z"/>
<path fill="#f51e00" d="M542 1758h12v12h-12zM639 2026h12v13h-12z"/>
<path fill="#fca300" d="M676 1758h12v12h-12zM700 1770h24v13h-24zM639 1783h12v12h-12zM773 1795h12v12h-12zM797 1795h12v12h-12zM822 1795h12v12h-12zM724 1807h12v12h-12zM785 1807h12v12h-12zM627 1831h12v13h-12zM663 1831h13v13h-13zM602 1844h13v12h-13zM602 1880h13v12h-13zM651 1892h12v13h-12zM785 1917h12v12h-12zM663 1929h13v12h-13zM736 1953h13v12h-13zM761 1953h12v12h-12zM542 2039h12v12h-12zM517 2063h12v12h-12zM542 2124h12v12h-12z"/>
<path fill="#fbb400" d="M688 1758h24v12h-24zM700 1868h12v12h-12zM602 1905h13v12h-13zM602 1917h13v12h-13zM663 1941h13v12h-13z"/>
<path fill="#fca600" d="M724 1758h12v12h-12zM724 1770h12v13h-12zM615 1783h12v12h-12zM651 1783h12v12h-12zM700 1783h12v12h-12zM639 1795h12v12h-12zM602 1831h25v13h-25zM615 1844h12v12h-12zM676 1844h12v12h-12zM676 1856h12v12h-12zM712 1856h12v12h-12zM700 1880h12v12h-12zM785 1892h12v13h-12zM663 1905h13v12h-13zM578 1917h12v12h-12zM651 1953h12v12h-12zM773 2051h12v12h-12zM773 2063h12v12h-12z"/>
<path fill="#fbbf00" d="M749 1758h12v12h-12z"/>
<path fill="#f41300" d="M542 1770h12v13h-12zM542 1795h12v12h-12zM639 2014h12v12h-12z"/>
<path fill="#f83b00" d="M554 1770h12v13h-12zM517 1807h12v12h-12zM627 2039h12v12h-12z"/>
<path fill="#fbbb00" d="M688 1770h12v13h-12zM700 1844h12v12h-12zM590 1905h12v12h-12z"/>
<path fill="#fa4c00" d="M517 1783h12v12h-12zM566 1807h12v12h-12zM529 1819h13v12h-13zM688 1953h12v12h-12zM688 1965h12v13h-12zM615 2026h12v13h-12zM627 2051h12v12h-12z"/>
<path fill="#fd6600" d="M566 1783h12v12h-12zM554 1831h12v13h-12zM834 1831h12v13h-12zM834 1844h12v12h-12zM700 1965h12v13h-12zM724 1978h12v12h-12zM663 2002h13v12h-13zM639 2075h12v12h-12zM700 2112h12v12h-12zM761 2124h12v12h-12zM761 2136h12v12h-12z"/>
<path fill="#f72900" d="M529 1795h13v12h-13zM542 1819h12v12h-12zM651 2026h12v13h-12z"/>
<path fill="#fd7000" d="M578 1795h12v12h-12zM529 1831h13v13h-13zM578 1831h12v13h-12zM822 1831h12v13h-12zM542 1856h12v12h-12zM542 1868h12v12h-12zM736 1929h13v12h-13zM566 1965h24v13h-24zM676 1978h12v12h-12zM651 1990h25v12h-25zM773 2002h12v12h-12zM590 2014h25v12h-25zM639 2087h12v13h-12zM736 2124h13v12h-13z"/>
<path fill="#fc5d00" d="M578 1807h12v12h-12zM566 1819h12v12h-12zM542 1831h12v13h-12zM688 1941h12v12h-12zM651 2002h12v12h-12zM615 2014h12v12h-12zM627 2063h12v12h-12z"/>
<path fill="#fc5700" d="M517 1819h12v12h-12zM809 1990h13v12h-13zM663 2026h13v13h-13zM651 2063h12v12h-12z"/>
<path fill="#fd6a00" d="M590 1819h12v12h-12zM809 1844h13v12h-13zM761 1929h12v12h-12zM712 1953h12v12h-12zM797 1978h12v12h-12zM749 1990h12v12h-12zM627 2002h12v12h-12zM663 2051h13v12h-13zM651 2075h12v12h-12zM639 2124h12v12h-12zM749 2136h12v12h-12z"/>
<path fill="#fbb800" d="M676 1831h12v13h-12zM590 1917h12v12h-12z"/>
<path fill="#fa4600" d="M627 2014h12v12h-12zM651 2051h12v12h-12zM688 2112h12v12h-12z"/>
<path fill="#fb5100" d="M663 2039h13v12h-13zM615 2051h12v12h-12zM639 2063h12v12h-12zM688 2100h12v12h-12z"/>
</g>
<g shape-rendering="crispEdges">
<path fill="#fc9f00" d="M918 1748h30v29h-30zM1067 1748h30v29h-30zM978 1777h30v30h-30zM1216 1986h30v30h-30zM1097 2105h30v30h-30z"/>
<path fill="#fd7c00" d="M948 1748h30v29h-30zM1037 1748h30v29h-30zM1187 1748h29v29h-29zM1037 1777h30v30h-30zM1127 1777h30v30h-30zM1037 1807h60v30h-60zM1187 1807h59v30h-59zM918 1837h30v30h-30zM978 1837h89v30h-89zM1097 1837h90v30h-90zM1216 1837h30v30h-30zM1037 1867h30v30h-30zM1127 1867h119v30h-119zM1008 1897h59v29h-59zM1127 1897h89v29h-89zM918 1926h149v30h-149zM1127 1926h119v30h-119zM918 1956h30v30h-30zM978 1956h59v30h-59zM1067 1956h90v30h-90zM1187 1956h59v30h-59zM918 1986h119v30h-119zM1067 1986h60v30h-60zM1157 1986h30v30h-30zM948 2016h89v30h-89zM1067 2016h30v30h-30zM1157 2016h89v30h-89zM918 2046h119v29h-119zM1187 2046h59v29h-59zM918 2075h60v30h-60zM1008 2075h89v30h-89zM1216 2075h30v30h-30zM918 2105h90v30h-90zM1037 2105h60v30h-60zM1157 2105h30v30h-30zM1216 2105h30v30h-30z"/>
<path fill="#fa4c00" d="M978 1748h30v29h-30zM1127 1807h30v30h-30zM1097 1926h30v30h-30zM948 1956h30v30h-30zM918 2016h30v30h-30zM1037 2016h30v30h-30zM1097 2016h60v30h-60zM1127 2046h30v29h-30zM1097 2075h30v30h-30zM1187 2075h29v30h-29zM1008 2105h29v30h-29zM1127 2105h30v30h-30z"/>
<path fill="#fd6a00" d="M1008 1748h29v29h-29zM1008 1777h29v30h-29zM948 1807h30v30h-30zM1008 1807h29v30h-29zM1097 1807h30v30h-30zM1157 1807h30v30h-30zM1067 1837h30v30h-30zM918 1867h119v30h-119zM1067 1867h30v30h-30zM918 1897h90v29h-90zM1067 1897h60v29h-60zM1216 1897h30v29h-30zM1157 1956h30v30h-30zM1127 1986h30v30h-30zM1037 2046h30v29h-30zM1127 2075h30v30h-30z"/>
<path fill="#fc8c00" d="M1097 1748h90v29h-90zM1216 1748h30v29h-30zM1067 1777h60v30h-60zM1157 1777h89v30h-89zM918 1807h30v30h-30zM1187 1837h29v30h-29zM1097 1867h30v30h-30zM1067 1926h30v30h-30zM1037 1956h30v30h-30zM1037 1986h30v30h-30zM978 2075h30v30h-30zM1187 2105h29v30h-29z"/>
<path fill="#eaef00" d="M918 1777h30v30h-30z"/>
<path fill="#fbb100" d="M1187 1986h29v30h-29z"/>
<path fill="#f72f00" d="M1067 2046h30v29h-30zM1157 2046h30v29h-30zM1157 2075h30v30h-30z"/>
<path fill="#f30d00" d="M1097 2046h30v29h-30z"/>
</g>
<g shape-rendering="crispEdges">
<path fill="#f72f00" d="M1291 1747h60v30h-60zM1321 1807h30v30h-30z"/>
<path fill="#fc9f00" d="M1351 1747h60v30h-60zM1381 1777h30v30h-30zM1381 1866h30v30h-30zM1500 1896h30v30h-30zM1321 1956h60v29h-60zM1351 1985h30v30h-30zM1440 1985h60v30h-60zM1560 2015h60v30h-60zM1560 2045h30v30h-30zM1411 2075h29v30h-29z"/>
<path fill="#fbb100" d="M1411 1747h29v30h-29zM1590 1747h30v30h-30zM1381 1807h59v30h-59zM1590 1807h30v30h-30zM1291 1837h30v29h-30zM1351 1837h89v29h-89zM1500 1837h30v29h-30zM1440 1866h30v30h-30zM1590 1866h30v30h-30zM1381 1896h59v30h-59zM1351 1926h30v30h-30zM1291 1956h30v29h-30zM1440 1956h30v29h-30zM1590 1956h30v29h-30zM1291 1985h30v30h-30zM1321 2015h60v30h-60zM1500 2015h30v30h-30zM1351 2045h30v30h-30zM1500 2045h30v30h-30zM1560 2075h30v30h-30z"/>
<path fill="#f9d900" d="M1440 1747h60v30h-60zM1530 1747h60v30h-60zM1440 1777h90v30h-90zM1560 1777h30v30h-30zM1291 1807h30v30h-30zM1530 1807h60v30h-60zM1470 1837h30v29h-30zM1321 1866h30v30h-30zM1470 1866h30v30h-30zM1530 1866h30v30h-30zM1470 1896h30v30h-30zM1530 1896h30v30h-30zM1440 1926h30v30h-30zM1530 1926h30v30h-30zM1411 1956h29v29h-29zM1291 2045h30v30h-30zM1291 2075h30v30h-30zM1381 2075h30v30h-30zM1321 2105h30v29h-30zM1470 2105h30v29h-30zM1530 2105h30v29h-30z"/>
<path fill="#fbc600" d="M1500 1747h30v30h-30zM1530 1777h30v30h-30zM1440 1807h90v30h-90zM1440 1837h30v29h-30zM1590 1837h30v29h-30zM1411 1866h29v30h-29zM1321 1926h30v30h-30zM1381 1926h59v30h-59zM1560 1926h60v30h-60zM1381 1956h30v29h-30zM1470 1956h30v29h-30zM1321 1985h30v30h-30zM1500 1985h30v30h-30zM1530 2015h30v30h-30zM1321 2045h30v30h-30zM1590 2045h30v30h-30zM1351 2075h30v30h-30zM1590 2075h30v30h-30zM1291 2105h30v29h-30zM1560 2105h60v29h-60z"/>
<path fill="#f30d00" d="M1291 1777h30v30h-30z"/>
<path fill="#fd6a00" d="M1351 1777h30v30h-30z"/>
<path fill="#fc8c00" d="M1411 1777h29v30h-29zM1560 1837h30v29h-30zM1291 1866h30v30h-30zM1351 1866h30v30h-30zM1560 1866h30v30h-30zM1291 1896h60v30h-60zM1470 1926h60v30h-60zM1500 1956h60v29h-60zM1411 1985h29v30h-29zM1560 1985h30v30h-30zM1411 2015h29v30h-29zM1470 2015h30v30h-30zM1411 2045h29v30h-29zM1470 2075h60v30h-60zM1440 2105h30v29h-30zM1500 2105h30v29h-30z"/>
<path fill="#f2e300" d="M1590 1777h30v30h-30zM1530 1837h30v29h-30zM1351 1896h30v30h-30zM1440 1896h30v30h-30zM1560 1896h60v30h-60zM1291 1926h30v30h-30zM1381 2045h30v30h-30zM1321 2075h30v30h-30zM1381 2105h30v29h-30z"/>
<path fill="#eaef00" d="M1500 1866h30v30h-30zM1560 1956h30v29h-30zM1381 1985h30v30h-30zM1381 2015h30v30h-30zM1440 2075h30v30h-30zM1411 2105h29v29h-29z"/>
<path fill="#fd7c00" d="M1530 1985h30v30h-30zM1590 1985h30v30h-30zM1291 2015h30v30h-30zM1530 2045h30v30h-30z"/>
<path fill="#f20000" d="M1440 2015h30v30h-30z"/>
<path fill="#fa4c00" d="M1440 2045h60v30h-60z"/>
<path fill="#e3f900" d="M1530 2075h30v30h-30zM1351 2105h30v29h-30z"/>
</g>
<g shape-rendering="crispEdges">
<path fill="#fc9f00" d="M1691 1734h12v12h-12zM1691 1770h12v13h-12zM1691 1783h12v12h-12zM1715 1783h13v12h-13zM1703 1795h12v12h-12zM1715 1844h13v12h-13zM1691 1856h12v12h-12z"/>
<path fill="#fc8c00" d="M1703 1734h12v12h-12zM1703 1746h12v12h-12zM1728 1783h12v12h-12zM1728 1844h12v12h-12zM1703 1856h12v12h-12z"/>
<path fill="#fc9200" d="M1715 1734h13v12h-13zM1715 1746h13v12h-13zM1728 1831h12v13h-12z"/>
<path fill="#fd7600" d="M1728 1734h12v12h-12zM1837 1734h25v12h-25zM1898 1734h12v12h-12zM2008 1734h12v12h-12zM1825 1746h12v12h-12zM1898 1746h12v12h-12zM1996 1746h12v12h-12zM1898 1758h12v12h-12zM1874 1770h12v13h-12zM1898 1770h12v13h-12zM1874 1783h12v12h-12zM1740 1795h12v12h-12zM1849 1795h13v12h-13zM1898 1795h12v12h-12zM1983 1795h13v12h-13zM1825 1807h12v12h-12zM1874 1807h24v12h-24zM1922 1807h13v12h-13zM1776 1819h12v12h-12zM2008 1819h12v12h-12zM1752 1831h12v13h-12zM1801 1831h24v13h-24zM1996 1844h12v12h-12zM1801 1856h12v12h-12zM1837 1856h12v12h-12zM1874 1856h12v12h-12zM1740 1868h12v12h-12zM1849 1868h13v12h-13zM1801 1880h12v12h-12zM1825 1880h12v12h-12zM1691 1892h24v13h-24zM1886 1892h12v13h-12zM1813 1905h12v12h-12zM1910 1929h25v12h-25z"/>
<path fill="#fb5100" d="M1740 1734h12v12h-12zM1752 1746h12v12h-12zM1983 1917h13v12h-13zM1874 1929h12v12h-12zM1715 1941h13v12h-13zM1862 1941h12v12h-12zM1983 1941h13v12h-13zM1703 1953h12v12h-12zM1728 1953h12v12h-12zM1996 1953h12v12h-12zM1703 1965h12v13h-12zM1740 1978h12v12h-12zM1825 1990h12v12h-12zM1874 1990h12v12h-12zM1971 1990h25v12h-25zM1752 2002h12v12h-12zM1801 2002h24v12h-24zM1898 2002h12v12h-12zM1947 2002h12v12h-12zM1983 2002h13v12h-13zM1703 2014h12v12h-12zM1788 2014h13v12h-13zM1922 2014h13v12h-13zM1935 2026h24v13h-24zM1996 2026h12v13h-12zM1862 2039h36v12h-36zM1959 2039h12v12h-12zM1996 2039h12v12h-12zM1740 2051h12v12h-12zM1837 2051h12v12h-12zM1910 2051h12v12h-12zM1983 2051h13v12h-13zM1691 2063h12v12h-12zM1788 2063h13v12h-13zM1874 2063h12v12h-12zM1862 2075h12v12h-12zM1801 2087h12v13h-12zM1898 2087h12v13h-12zM1935 2087h12v13h-12zM2008 2100h12v12h-12zM1776 2112h12v12h-12zM1825 2112h12v12h-12zM1886 2112h12v12h-12zM1764 2124h12v12h-12zM1788 2124h13v12h-13zM1947 2124h12v12h-12zM1996 2124h12v12h-12zM1776 2136h25v12h-25zM1874 2136h12v12h-12zM1935 2136h12v12h-12z"/>
<path fill="#fc5d00" d="M1752 1734h24v12h-24zM1788 1734h13v12h-13zM1740 1746h12v12h-12zM1764 1746h12v12h-12zM1752 1758h12v12h-12zM1776 1758h12v12h-12zM1764 1770h12v13h-12zM1959 1819h24v12h-24zM1947 1831h12v13h-12zM1947 1844h12v12h-12zM1959 1868h12v12h-12zM1740 1892h24v13h-24zM2008 1892h12v13h-12zM1752 1905h12v12h-12zM2008 1905h12v12h-12zM1752 1917h12v12h-12zM2008 1917h12v12h-12zM1728 1929h24v12h-24zM1959 1929h12v12h-12zM1996 1929h24v12h-24zM1691 1941h12v12h-12zM1728 1941h12v12h-12zM1752 1941h12v12h-12zM1776 1941h12v12h-12zM1837 1941h12v12h-12zM1898 1941h12v12h-12zM1971 1941h12v12h-12zM1996 1941h12v12h-12zM1740 1953h12v12h-12zM1764 1953h12v12h-12zM1788 1953h13v12h-13zM1837 1953h12v12h-12zM1862 1953h12v12h-12zM1947 1953h12v12h-12zM1971 1953h12v12h-12zM2008 1953h12v12h-12zM1691 1965h12v13h-12zM1728 1965h12v13h-12zM1764 1965h12v13h-12zM1837 1965h12v13h-12zM1862 1965h12v13h-12zM1886 1965h12v13h-12zM1691 1978h24v12h-24zM1752 1978h12v12h-12zM1874 1978h12v12h-12zM1898 1978h12v12h-12zM1715 1990h13v12h-13zM1752 1990h12v12h-12zM1788 1990h13v12h-13zM1813 1990h12v12h-12zM1886 1990h12v12h-12zM2008 1990h12v12h-12zM1691 2002h12v12h-12zM1740 2002h12v12h-12zM1910 2002h12v12h-12zM1996 2002h12v12h-12zM1752 2014h12v12h-12zM1776 2014h12v12h-12zM1801 2014h24v12h-24zM1886 2014h24v12h-24zM2008 2014h12v12h-12zM1715 2026h25v13h-25zM1788 2026h13v13h-13zM1813 2026h24v13h-24zM1886 2026h12v13h-12zM1703 2039h12v12h-12zM1776 2039h12v12h-12zM1947 2039h12v12h-12zM1971 2039h25v12h-25zM1703 2051h37v12h-37zM1752 2051h49v12h-49zM1886 2051h12v12h-12zM1922 2051h13v12h-13zM1971 2051h12v12h-12zM1996 2051h24v12h-24zM1715 2063h13v12h-13zM1740 2063h12v12h-12zM1886 2063h24v12h-24zM1935 2063h24v12h-24zM2008 2063h12v12h-12zM1788 2075h49v12h-49zM1849 2075h13v12h-13zM1886 2075h12v12h-12zM1959 2075h12v12h-12zM1983 2075h13v12h-13zM1776 2087h12v13h-12zM1886 2087h12v13h-12zM1922 2087h13v13h-13zM1947 2087h12v13h-12zM1776 2100h12v12h-12zM1874 2100h12v12h-12zM1935 2100h12v12h-12zM1959 2100h37v12h-37zM1910 2112h25v12h-25zM1983 2112h25v12h-25zM1740 2124h12v12h-12zM1837 2124h12v12h-12zM1862 2124h12v12h-12zM1886 2124h12v12h-12zM1910 2124h25v12h-25zM1959 2124h12v12h-12zM1691 2136h37v12h-37zM1740 2136h12v12h-12zM1849 2136h25v12h-25zM1910 2136h12v12h-12zM1959 2136h12v12h-12z"/>
<path fill="#fd6300" d="M1776 1734h12v12h-12zM1764 1758h12v12h-12zM1752 1783h12v12h-12zM1776 1807h12v12h-12zM1971 1844h12v12h-12zM1910 1856h12v12h-12zM1959 1856h24v12h-24zM1922 1868h37v12h-37zM1971 1868h12v12h-12zM1922 1880h13v12h-13zM2008 1880h12v12h-12zM1996 1892h12v13h-12zM1886 1917h12v12h-12zM1971 1917h12v12h-12zM1996 1917h12v12h-12zM1703 1929h12v12h-12zM1752 1929h49v12h-49zM1886 1929h12v12h-12zM1740 1941h12v12h-12zM1947 1941h12v12h-12zM1740 1965h24v13h-24zM1788 1965h25v13h-25zM1849 1965h13v13h-13zM1959 1965h61v13h-61zM1715 1978h13v12h-13zM1776 1978h12v12h-12zM1886 1978h12v12h-12zM1996 1978h12v12h-12zM1691 1990h24v12h-24zM1776 2002h12v12h-12zM1691 2014h12v12h-12zM1740 2014h12v12h-12zM1764 2014h12v12h-12zM1703 2026h12v13h-12zM1898 2026h12v13h-12zM1922 2026h13v13h-13zM1983 2026h13v13h-13zM2008 2026h12v13h-12zM1740 2039h12v12h-12zM1788 2039h13v12h-13zM1813 2039h12v12h-12zM1898 2039h12v12h-12zM1922 2039h25v12h-25zM1813 2051h12v12h-12zM1947 2051h12v12h-12zM1703 2063h12v12h-12zM1776 2063h12v12h-12zM1959 2063h12v12h-12zM1996 2063h12v12h-12zM1691 2075h37v12h-37zM1898 2075h24v12h-24zM1947 2075h12v12h-12zM2008 2075h12v12h-12zM1715 2087h13v13h-13zM1874 2087h12v13h-12zM1959 2087h12v13h-12zM1983 2087h25v13h-25zM1715 2100h13v12h-13zM1788 2100h13v12h-13zM1886 2100h12v12h-12zM1910 2100h12v12h-12zM1703 2112h12v12h-12zM1728 2112h12v12h-12zM1764 2112h12v12h-12zM1862 2112h24v12h-24zM1898 2112h12v12h-12zM1728 2124h12v12h-12zM1752 2124h12v12h-12zM1776 2124h12v12h-12zM1971 2124h25v12h-25zM2008 2124h12v12h-12zM1752 2136h12v12h-12zM1886 2136h12v12h-12zM1947 2136h12v12h-12zM1983 2136h37v12h-37z"/>
<path fill="#fd6600" d="M1801 1734h12v12h-12zM1788 1746h13v12h-13zM1740 1758h12v12h-12zM1801 1783h12v12h-12zM1776 1795h12v12h-12zM1801 1807h12v12h-12zM1935 1831h12v13h-12zM1910 1844h12v12h-12zM1898 1856h12v12h-12zM1922 1856h25v12h-25zM1971 1880h37v12h-37zM1935 1892h12v13h-12zM1728 1905h12v12h-12zM1764 1905h12v12h-12zM1971 1905h25v12h-25zM1691 1917h24v12h-24zM1728 1917h12v12h-12zM1849 1929h13v12h-13zM1898 1929h12v12h-12zM1935 1929h12v12h-12zM1971 1929h12v12h-12zM1788 1941h13v12h-13zM1910 1941h12v12h-12zM1935 1941h12v12h-12zM1691 1953h12v12h-12zM1825 1953h12v12h-12zM1959 1953h12v12h-12zM1874 1965h12v13h-12zM1947 1965h12v13h-12zM1825 1978h12v12h-12zM1959 1978h12v12h-12zM1983 1978h13v12h-13zM1776 1990h12v12h-12zM1715 2002h25v12h-25zM1874 2002h24v12h-24zM2008 2002h12v12h-12zM1691 2026h12v13h-12zM1752 2039h12v12h-12zM1691 2051h12v12h-12zM1898 2051h12v12h-12zM1959 2051h12v12h-12zM1728 2063h12v12h-12zM1801 2063h12v12h-12zM1728 2075h12v12h-12zM1922 2075h13v12h-13zM1910 2087h12v13h-12zM1715 2112h13v12h-13zM1752 2112h12v12h-12zM1898 2136h12v12h-12z"/>
<path fill="#fd7300" d="M1813 1734h24v12h-24zM1983 1734h25v12h-25zM1728 1746h12v12h-12zM1862 1746h12v12h-12zM1886 1746h12v12h-12zM1971 1746h25v12h-25zM1813 1758h61v12h-61zM1983 1758h25v12h-25zM1813 1770h24v13h-24zM1862 1770h12v13h-12zM1886 1770h12v13h-12zM1971 1770h49v13h-49zM1825 1783h12v12h-12zM1849 1783h25v12h-25zM2008 1795h12v12h-12zM1910 1807h12v12h-12zM1959 1807h24v12h-24zM1788 1819h13v12h-13zM1813 1819h12v12h-12zM1886 1819h12v12h-12zM1922 1819h13v12h-13zM1764 1831h12v13h-12zM1788 1831h13v13h-13zM1874 1831h12v13h-12zM2008 1831h12v13h-12zM1740 1844h24v12h-24zM1776 1844h25v12h-25zM1813 1844h24v12h-24zM1849 1844h25v12h-25zM2008 1844h12v12h-12zM1740 1856h12v12h-12zM1813 1856h12v12h-12zM1862 1856h12v12h-12zM1825 1868h12v12h-12zM1862 1868h12v12h-12zM1788 1880h13v12h-13zM1862 1880h12v12h-12zM1898 1880h12v12h-12zM1898 1892h37v13h-37zM1776 1905h37v12h-37zM1825 1905h12v12h-12zM1898 1905h12v12h-12zM1935 1905h24v12h-24zM1837 1917h12v12h-12zM1935 1917h12v12h-12zM1922 1941h13v12h-13zM1752 2087h12v13h-12z"/>
<path fill="#fd7000" d="M1862 1734h24v12h-24zM1959 1734h24v12h-24zM1813 1746h12v12h-12zM1849 1746h13v12h-13zM1874 1746h12v12h-12zM1959 1746h12v12h-12zM2008 1746h12v12h-12zM1874 1758h12v12h-12zM1740 1770h12v13h-12zM1849 1770h13v13h-13zM1740 1783h12v12h-12zM1813 1783h12v12h-12zM1886 1783h12v12h-12zM1983 1783h37v12h-37zM1752 1795h12v12h-12zM1813 1795h12v12h-12zM1862 1795h24v12h-24zM1959 1795h12v12h-12zM1764 1807h12v12h-12zM1788 1807h13v12h-13zM1898 1807h12v12h-12zM1935 1807h24v12h-24zM1996 1807h24v12h-24zM1825 1819h12v12h-12zM1874 1819h12v12h-12zM1898 1819h12v12h-12zM1935 1819h12v12h-12zM1983 1819h25v12h-25zM1776 1831h12v13h-12zM1837 1831h12v13h-12zM1862 1831h12v13h-12zM1886 1831h49v13h-49zM1983 1831h25v13h-25zM1801 1844h12v12h-12zM1837 1844h12v12h-12zM1874 1844h24v12h-24zM1825 1856h12v12h-12zM1849 1856h13v12h-13zM1996 1856h24v12h-24zM1764 1868h12v12h-12zM1788 1868h13v12h-13zM1837 1868h12v12h-12zM1886 1868h12v12h-12zM1983 1868h37v12h-37zM1764 1880h24v12h-24zM1813 1880h12v12h-12zM1837 1880h12v12h-12zM1886 1880h12v12h-12zM1910 1880h12v12h-12zM1947 1880h12v12h-12zM1715 1892h13v13h-13zM1764 1892h12v13h-12zM1788 1892h37v13h-37zM1837 1892h12v13h-12zM1862 1892h24v13h-24zM1959 1892h12v13h-12zM1837 1905h25v12h-25zM1922 1905h13v12h-13zM1801 1917h36v12h-36zM1813 1929h12v12h-12zM1813 1941h24v12h-24zM1740 2075h12v12h-12zM1740 2087h12v13h-12zM1740 2100h12v12h-12z"/>
<path fill="#fd7c00" d="M1886 1734h12v12h-12zM1935 1734h12v12h-12zM1959 1770h12v13h-12zM1837 1783h12v12h-12zM1971 1783h12v12h-12zM1935 1795h12v12h-12zM1971 1795h12v12h-12zM1740 1807h12v12h-12zM1715 1868h13v12h-13zM1691 1880h12v12h-12zM1715 1880h13v12h-13z"/>
<path fill="#fd7900" d="M1910 1734h12v12h-12zM1947 1734h12v12h-12zM1801 1746h12v12h-12zM1910 1746h12v12h-12zM1935 1746h12v12h-12zM1959 1758h24v12h-24zM2008 1758h12v12h-12zM1910 1783h12v12h-12zM1837 1795h12v12h-12zM1910 1795h12v12h-12zM1947 1795h12v12h-12zM1837 1807h12v12h-12zM1983 1807h13v12h-13zM1764 1819h12v12h-12zM1910 1819h12v12h-12zM1764 1844h12v12h-12zM1728 1868h12v12h-12zM1752 1868h12v12h-12zM1813 1868h12v12h-12zM1849 1892h13v13h-13zM1788 1917h13v12h-13z"/>
<path fill="#fc8000" d="M1922 1734h13v12h-13zM1947 1746h12v12h-12zM1728 1758h12v12h-12zM1910 1758h12v12h-12zM1947 1758h12v12h-12zM1922 1770h13v13h-13zM1898 1783h12v12h-12zM1703 1880h12v12h-12z"/>
<path fill="#fbb100" d="M1691 1746h12v12h-12zM1691 1758h12v12h-12zM1703 1770h12v13h-12zM1691 1795h12v12h-12zM1715 1807h13v12h-13z"/>
<path fill="#fc5700" d="M1776 1746h12v12h-12zM1959 1831h12v13h-12zM1935 1844h12v12h-12zM1959 1844h12v12h-12zM1947 1856h12v12h-12zM1740 1905h12v12h-12zM1996 1905h12v12h-12zM1715 1917h13v12h-13zM1740 1917h12v12h-12zM1691 1929h12v12h-12zM1715 1929h13v12h-13zM1983 1929h13v12h-13zM1703 1941h12v12h-12zM1764 1941h12v12h-12zM1849 1941h13v12h-13zM1874 1941h24v12h-24zM2008 1941h12v12h-12zM1715 1953h13v12h-13zM1752 1953h12v12h-12zM1776 1953h12v12h-12zM1849 1953h13v12h-13zM1886 1953h61v12h-61zM1983 1953h13v12h-13zM1715 1965h13v13h-13zM1776 1965h12v13h-12zM1825 1965h12v13h-12zM1898 1965h12v13h-12zM1728 1978h12v12h-12zM1764 1978h12v12h-12zM1788 1978h37v12h-37zM1837 1978h37v12h-37zM1971 1978h12v12h-12zM2008 1978h12v12h-12zM1740 1990h12v12h-12zM1764 1990h12v12h-12zM1801 1990h12v12h-12zM1862 1990h12v12h-12zM1910 1990h12v12h-12zM1703 2002h12v12h-12zM1764 2002h12v12h-12zM1788 2002h13v12h-13zM1922 2002h13v12h-13zM1715 2014h25v12h-25zM1825 2014h12v12h-12zM1910 2014h12v12h-12zM1996 2014h12v12h-12zM1740 2026h48v13h-48zM1801 2026h12v13h-12zM1910 2026h12v13h-12zM1691 2039h12v12h-12zM1715 2039h25v12h-25zM1764 2039h12v12h-12zM1801 2039h12v12h-12zM1910 2039h12v12h-12zM2008 2039h12v12h-12zM1825 2051h12v12h-12zM1935 2051h12v12h-12zM1764 2063h12v12h-12zM1813 2063h12v12h-12zM1922 2063h13v12h-13zM1971 2063h12v12h-12zM1764 2075h24v12h-24zM1837 2075h12v12h-12zM1874 2075h12v12h-12zM1935 2075h12v12h-12zM1971 2075h12v12h-12zM1691 2087h12v13h-12zM1788 2087h13v13h-13zM1813 2087h24v13h-24zM1849 2087h25v13h-25zM1971 2087h12v13h-12zM2008 2087h12v13h-12zM1813 2100h61v12h-61zM1898 2100h12v12h-12zM1922 2100h13v12h-13zM1947 2100h12v12h-12zM1996 2100h12v12h-12zM1691 2112h12v12h-12zM1788 2112h13v12h-13zM1837 2112h12v12h-12zM1935 2112h36v12h-36zM2008 2112h12v12h-12zM1691 2124h37v12h-37zM1849 2124h13v12h-13zM1874 2124h12v12h-12zM1898 2124h12v12h-12zM1935 2124h12v12h-12zM1728 2136h12v12h-12zM1764 2136h12v12h-12zM1837 2136h12v12h-12zM1922 2136h13v12h-13zM1971 2136h12v12h-12z"/>
<path fill="#fd6d00" d="M1837 1746h12v12h-12zM1788 1758h13v12h-13zM1886 1758h12v12h-12zM1788 1770h25v13h-25zM1837 1770h12v13h-12zM1788 1795h25v12h-25zM1825 1795h12v12h-12zM1886 1795h12v12h-12zM1752 1807h12v12h-12zM1813 1807h12v12h-12zM1849 1807h25v12h-25zM1801 1819h12v12h-12zM1837 1819h12v12h-12zM1862 1819h12v12h-12zM1947 1819h12v12h-12zM1971 1831h12v13h-12zM1983 1844h13v12h-13zM1752 1856h49v12h-49zM1886 1856h12v12h-12zM1801 1868h12v12h-12zM1898 1868h12v12h-12zM1728 1880h24v12h-24zM1849 1880h13v12h-13zM1874 1880h12v12h-12zM1935 1880h12v12h-12zM1959 1880h12v12h-12zM1728 1892h12v13h-12zM1776 1892h12v13h-12zM1825 1892h12v13h-12zM1947 1892h12v13h-12zM1971 1892h25v13h-25zM1691 1905h24v12h-24zM1874 1905h24v12h-24zM1910 1905h12v12h-12zM1764 1917h24v12h-24zM1898 1917h37v12h-37zM1947 1917h12v12h-12zM1825 1929h12v12h-12zM1813 1953h12v12h-12zM1813 1965h12v13h-12zM1837 2087h12v13h-12zM1728 2100h12v12h-12zM1752 2100h12v12h-12zM1971 2112h12v12h-12z"/>
<path fill="#fc8600" d="M1922 1746h13v12h-13zM1935 1783h12v12h-12zM1959 1783h12v12h-12zM1922 1795h13v12h-13zM1740 1819h12v12h-12zM1728 1856h12v12h-12zM1691 1868h12v12h-12z"/>
<path fill="#fbad00" d="M1703 1758h12v12h-12zM1715 1795h13v12h-13z"/>
<path fill="#fc9900" d="M1715 1758h13v12h-13z"/>
<path fill="#fd6a00" d="M1801 1758h12v12h-12zM1752 1770h12v13h-12zM1776 1770h12v13h-12zM1764 1783h37v12h-37zM1764 1795h12v12h-12zM1996 1795h12v12h-12zM1849 1819h13v12h-13zM1825 1831h12v13h-12zM1849 1831h13v13h-13zM1898 1844h12v12h-12zM1922 1844h13v12h-13zM1983 1856h13v12h-13zM1776 1868h12v12h-12zM1874 1868h12v12h-12zM1910 1868h12v12h-12zM1752 1880h12v12h-12zM1715 1905h13v12h-13zM1862 1905h12v12h-12zM1959 1905h12v12h-12zM1849 1917h37v12h-37zM1959 1917h12v12h-12zM1801 1929h12v12h-12zM1837 1929h12v12h-12zM1862 1929h12v12h-12zM1947 1929h12v12h-12zM1801 1941h12v12h-12zM1959 1941h12v12h-12zM1801 1953h12v12h-12zM1874 1953h12v12h-12zM1996 1990h12v12h-12zM1752 2063h12v12h-12zM1983 2063h13v12h-13zM1752 2075h12v12h-12zM1996 2075h12v12h-12zM1728 2087h12v13h-12zM1764 2087h12v13h-12zM1764 2100h12v12h-12zM1740 2112h12v12h-12z"/>
<path fill="#fc8900" d="M1922 1758h13v12h-13zM1947 1783h12v12h-12zM1703 1868h12v12h-12z"/>
<path fill="#fc8300" d="M1935 1758h12v12h-12zM1728 1770h12v13h-12zM1910 1770h12v13h-12zM1935 1770h24v13h-24zM1922 1783h13v12h-13zM1752 1819h12v12h-12zM1740 1831h12v13h-12z"/>
<path fill="#fca300" d="M1715 1770h13v13h-13z"/>
<path fill="#fbb400" d="M1703 1783h12v12h-12z"/>
<path fill="#fc9600" d="M1728 1795h12v12h-12z"/>
<path fill="#f9d900" d="M1691 1807h24v12h-24zM1691 1844h12v12h-12z"/>
<path fill="#fc9c00" d="M1728 1807h12v12h-12zM1728 1819h12v12h-12z"/>
<path fill="#eaef00" d="M1691 1819h24v12h-24zM1691 1831h12v13h-12z"/>
<path fill="#fbc600" d="M1715 1819h13v12h-13zM1715 1831h13v13h-13zM1703 1844h12v12h-12z"/>
<path fill="#f2e300" d="M1703 1831h12v13h-12z"/>
<path fill="#fc8f00" d="M1715 1856h13v12h-13z"/>
<path fill="#fa4c00" d="M1910 1965h12v13h-12zM1922 1978h13v12h-13zM1947 1978h12v12h-12zM1728 1990h12v12h-12zM1837 1990h25v12h-25zM1898 1990h12v12h-12zM1935 1990h12v12h-12zM1959 1990h12v12h-12zM1825 2002h24v12h-24zM1862 2002h12v12h-12zM1935 2002h12v12h-12zM1971 2002h12v12h-12zM1874 2014h12v12h-12zM1837 2026h12v13h-12zM1825 2039h24v12h-24zM1801 2051h12v12h-12zM1874 2051h12v12h-12zM1825 2063h37v12h-37zM1703 2087h12v13h-12zM1691 2100h24v12h-24zM1801 2100h12v12h-12zM1813 2112h12v12h-12zM1849 2112h13v12h-13zM1801 2124h12v12h-12z"/>
<path fill="#f94000" d="M1922 1965h13v13h-13zM1910 1978h12v12h-12zM1849 2002h13v12h-13zM1959 2002h12v12h-12zM1837 2014h12v12h-12zM1862 2014h12v12h-12zM1935 2014h12v12h-12zM1983 2014h13v12h-13zM1849 2026h13v13h-13zM1849 2039h13v12h-13zM1825 2124h12v12h-12zM1825 2136h12v12h-12z"/>
<path fill="#fa4600" d="M1935 1965h12v13h-12zM1935 1978h12v12h-12zM1922 1990h13v12h-13zM1947 1990h12v12h-12zM1947 2014h36v12h-36zM1862 2026h24v13h-24zM1959 2026h24v13h-24zM1849 2051h25v12h-25zM1862 2063h12v12h-12zM1910 2063h12v12h-12zM1801 2112h12v12h-12zM1801 2136h12v12h-12z"/>
<path fill="#f83b00" d="M1849 2014h13v12h-13zM1813 2124h12v12h-12z"/>
<path fill="#f72f00" d="M1813 2136h12v12h-12z"/>
</g>
<g shape-rendering="crispEdges">
<path fill="#fd7600" d="M2063 1734h12v12h-12zM2185 1734h24v12h-24zM2124 1746h12v12h-12zM2331 1746h24v12h-24zM2185 1807h12v12h-12zM2161 1819h12v12h-12zM2173 1844h12v12h-12zM2343 1868h12v12h-12zM2063 1892h12v13h-12zM2088 1905h12v12h-12zM2380 1905h12v12h-12zM2148 1917h13v12h-13zM2136 1941h12v12h-12zM2319 1941h12v12h-12zM2294 1953h13v12h-13zM2100 1978h12v12h-12zM2124 1990h12v12h-12zM2380 2002h12v12h-12zM2185 2014h12v12h-12zM2234 2039h12v12h-12zM2148 2051h13v12h-13zM2270 2051h12v12h-12zM2185 2087h12v13h-12zM2136 2112h12v12h-12zM2234 2112h12v12h-12z"/>
<path fill="#fd7000" d="M2075 1734h13v12h-13zM2185 1746h12v12h-12zM2148 1770h13v13h-13zM2185 1770h12v13h-12zM2148 1795h25v12h-25zM2136 1856h12v12h-12zM2124 1917h12v12h-12zM2380 1917h12v12h-12zM2112 1929h12v12h-12zM2270 1941h12v12h-12zM2307 1941h12v12h-12zM2100 1953h12v12h-12zM2088 1965h12v13h-12zM2161 1965h12v13h-12zM2343 1978h12v12h-12zM2367 1978h13v12h-13zM2294 1990h25v12h-25zM2063 2014h12v12h-12zM2246 2014h12v12h-12zM2209 2026h12v13h-12zM2185 2051h12v12h-12zM2173 2075h12v12h-12zM2234 2087h12v13h-12zM2148 2100h13v12h-13zM2209 2100h12v12h-12zM2221 2124h13v12h-13z"/>
<path fill="#fc8600" d="M2088 1734h12v12h-12zM2209 1746h12v12h-12zM2124 1758h12v12h-12zM2343 1758h12v12h-12zM2197 1770h12v13h-12zM2124 1783h12v12h-12zM2197 1783h12v12h-12zM2136 1795h12v12h-12zM2112 1807h12v12h-12zM2148 1819h13v12h-13zM2197 1831h12v13h-12zM2161 1844h12v12h-12zM2063 1868h12v12h-12zM2234 1868h12v12h-12zM2319 1892h12v13h-12zM2355 1905h12v12h-12zM2173 1929h12v12h-12zM2367 1929h13v12h-13zM2100 1965h12v13h-12zM2367 1965h13v13h-13zM2307 1978h12v12h-12zM2075 1990h13v12h-13zM2234 2014h12v12h-12zM2100 2026h12v13h-12zM2173 2026h12v13h-12zM2367 2026h13v13h-13zM2282 2039h12v12h-12zM2331 2039h12v12h-12zM2234 2051h12v12h-12zM2331 2051h12v12h-12zM2282 2075h12v12h-12zM2307 2075h24v12h-24zM2185 2100h12v12h-12zM2319 2112h12v12h-12zM2088 2136h12v12h-12zM2148 2136h13v12h-13zM2221 2136h13v12h-13z"/>
<path fill="#fd6a00" d="M2100 1734h12v12h-12zM2380 1734h12v12h-12zM2100 1746h12v12h-12zM2173 1746h12v12h-12zM2148 1807h13v12h-13zM2173 1807h12v12h-12zM2075 1880h13v12h-13zM2136 1880h12v12h-12zM2088 1892h12v13h-12zM2161 1892h12v13h-12zM2063 1905h12v12h-12zM2100 1929h12v12h-12zM2185 1929h12v12h-12zM2124 1978h12v12h-12zM2100 1990h12v12h-12zM2319 1990h12v12h-12zM2075 2002h13v12h-13zM2343 2002h24v12h-24zM2319 2014h12v12h-12zM2185 2124h12v12h-12zM2209 2136h12v12h-12zM2234 2136h12v12h-12z"/>
<path fill="#f83500" d="M2112 1734h12v12h-12zM2136 1746h12v12h-12zM2112 1905h24v12h-24z"/>
<path fill="#fd6300" d="M2124 1734h12v12h-12zM2185 1758h12v12h-12zM2148 1783h13v12h-13zM2112 1868h12v12h-12zM2100 1880h12v12h-12zM2075 1905h13v12h-13zM2088 1929h12v12h-12zM2307 1929h12v12h-12zM2124 1953h12v12h-12zM2112 1990h12v12h-12zM2246 2039h12v12h-12zM2209 2075h12v12h-12zM2209 2087h12v13h-12z"/>
<path fill="#f83b00" d="M2136 1734h12v12h-12zM2136 1758h12v12h-12zM2063 1917h12v12h-12zM2075 1941h13v12h-13z"/>
<path fill="#fc5d00" d="M2148 1734h13v12h-13zM2148 1758h13v12h-13zM2185 1795h12v12h-12zM2088 1880h12v12h-12zM2100 1892h12v13h-12zM2124 1892h12v13h-12zM2100 1905h12v12h-12zM2088 1917h12v12h-12zM2100 1941h12v12h-12zM2136 1953h12v12h-12zM2112 1965h12v13h-12zM2112 1978h12v12h-12zM2307 2014h12v12h-12z"/>
<path fill="#fc5700" d="M2161 1734h12v12h-12zM2185 1783h12v12h-12zM2173 1819h12v12h-12zM2161 1831h12v13h-12zM2112 1892h12v13h-12zM2100 1917h12v12h-12zM2063 1929h12v12h-12zM2063 2002h12v12h-12zM2270 2039h12v12h-12zM2367 2112h13v12h-13z"/>
<path fill="#fc8c00" d="M2173 1734h12v12h-12zM2209 1734h12v12h-12zM2270 1746h12v12h-12zM2294 1746h13v12h-13zM2221 1758h13v12h-13zM2112 1770h12v13h-12zM2367 1795h13v12h-13zM2258 1807h12v12h-12zM2112 1819h12v12h-12zM2258 1819h12v12h-12zM2185 1844h12v12h-12zM2343 1844h12v12h-12zM2367 1868h13v12h-13zM2063 1880h12v12h-12zM2282 1880h12v12h-12zM2343 1880h12v12h-12zM2282 1917h12v12h-12zM2331 1917h12v12h-12zM2380 1929h12v12h-12zM2161 1941h12v12h-12zM2209 1953h12v12h-12zM2148 1965h13v13h-13zM2185 1965h12v13h-12zM2380 1965h12v13h-12zM2246 1978h12v12h-12zM2136 1990h12v12h-12zM2221 1990h13v12h-13zM2282 1990h12v12h-12zM2234 2002h12v12h-12zM2270 2002h12v12h-12zM2380 2014h12v12h-12zM2063 2026h12v13h-12zM2112 2026h12v13h-12zM2294 2026h13v13h-13zM2100 2039h12v12h-12zM2367 2075h13v12h-13zM2124 2100h12v12h-12zM2270 2100h37v12h-37zM2112 2112h12v12h-12zM2173 2124h12v12h-12zM2246 2124h12v12h-12zM2282 2124h12v12h-12z"/>
<path fill="#fd7900" d="M2221 1734h13v12h-13zM2075 1746h13v12h-13zM2112 1758h12v12h-12zM2124 1770h12v13h-12zM2380 1783h12v12h-12zM2112 1795h12v12h-12zM2173 1831h12v13h-12zM2209 1831h12v13h-12zM2148 1844h13v12h-13zM2209 1844h12v12h-12zM2112 1856h24v12h-24zM2331 1856h12v12h-12zM2148 1880h13v12h-13zM2075 1892h13v13h-13zM2331 1892h12v13h-12zM2173 1917h12v12h-12zM2307 1953h12v12h-12zM2307 1965h12v13h-12zM2331 1965h12v13h-12zM2063 1978h12v12h-12zM2355 1978h12v12h-12zM2355 1990h12v12h-12zM2161 2026h12v13h-12zM2221 2026h13v13h-13zM2343 2026h12v13h-12zM2173 2039h12v12h-12zM2343 2039h12v12h-12zM2136 2051h12v12h-12zM2246 2051h12v12h-12zM2294 2063h13v12h-13zM2246 2075h12v12h-12zM2221 2087h13v13h-13zM2270 2087h12v13h-12zM2307 2087h12v13h-12zM2355 2087h12v13h-12zM2258 2100h12v12h-12zM2319 2100h12v12h-12zM2148 2112h13v12h-13zM2246 2112h12v12h-12zM2380 2136h12v12h-12z"/>
<path fill="#fc8f00" d="M2234 1734h12v12h-12zM2282 1734h12v12h-12zM2307 1734h24v12h-24zM2221 1746h13v12h-13zM2343 1770h24v13h-24zM2100 1795h12v12h-12zM2209 1807h12v12h-12zM2380 1807h12v12h-12zM2246 1819h12v12h-12zM2124 1831h12v13h-12zM2355 1831h12v13h-12zM2136 1844h12v12h-12zM2197 1844h12v12h-12zM2088 1856h12v12h-12zM2161 1856h12v12h-12zM2380 1856h12v12h-12zM2075 1868h13v12h-13zM2100 1868h12v12h-12zM2282 1905h12v12h-12zM2282 1929h12v12h-12zM2258 1941h12v12h-12zM2367 1953h13v12h-13zM2282 1978h12v12h-12zM2161 1990h12v12h-12zM2246 1990h12v12h-12zM2380 1990h12v12h-12zM2197 2002h12v12h-12zM2100 2014h12v12h-12zM2148 2014h25v12h-25zM2294 2014h13v12h-13zM2246 2026h12v13h-12zM2063 2039h12v12h-12zM2063 2063h12v12h-12zM2355 2063h12v12h-12zM2343 2100h12v12h-12zM2282 2112h12v12h-12zM2136 2124h12v12h-12zM2124 2136h12v12h-12z"/>
<path fill="#fca300" d="M2246 1734h12v12h-12zM2234 1758h36v12h-36zM2331 1758h12v12h-12zM2075 1770h13v13h-13zM2331 1783h12v12h-12zM2124 1795h12v12h-12zM2367 1831h13v13h-13zM2197 1868h12v12h-12zM2319 1880h12v12h-12zM2355 1917h25v12h-25zM2209 1929h12v12h-12zM2270 1953h24v12h-24zM2380 1953h12v12h-12zM2197 1965h12v13h-12zM2209 1978h12v12h-12zM2148 2002h13v12h-13zM2088 2063h12v12h-12zM2148 2075h13v12h-13zM2355 2112h12v12h-12zM2161 2124h12v12h-12zM2343 2124h12v12h-12zM2075 2136h13v12h-13zM2112 2136h12v12h-12zM2197 2136h12v12h-12z"/>
<path fill="#fc8300" d="M2258 1734h12v12h-12zM2234 1746h12v12h-12zM2307 1746h12v12h-12zM2367 1746h13v12h-13zM2355 1758h12v12h-12zM2136 1783h12v12h-12zM2197 1795h12v12h-12zM2367 1807h13v12h-13zM2088 1844h12v12h-12zM2185 1868h12v12h-12zM2246 1868h12v12h-12zM2331 1868h12v12h-12zM2185 1905h12v12h-12zM2319 1953h12v12h-12zM2221 1965h13v13h-13zM2136 1978h12v12h-12zM2319 1978h24v12h-24zM2209 1990h12v12h-12zM2367 1990h13v12h-13zM2367 2002h13v12h-13zM2355 2014h12v12h-12zM2136 2026h12v13h-12zM2197 2026h12v13h-12zM2270 2026h12v13h-12zM2148 2039h13v12h-13zM2197 2039h24v12h-24zM2355 2039h12v12h-12zM2075 2051h13v12h-13zM2221 2051h13v12h-13zM2367 2051h13v12h-13zM2148 2063h13v12h-13zM2221 2063h13v12h-13zM2246 2063h12v12h-12zM2185 2075h12v12h-12zM2148 2087h13v13h-13zM2173 2087h12v13h-12zM2367 2100h13v12h-13zM2185 2112h12v12h-12zM2258 2112h12v12h-12zM2148 2124h13v12h-13zM2234 2124h12v12h-12z"/>
<path fill="#fc9600" d="M2270 1734h12v12h-12zM2294 1734h13v12h-13zM2355 1734h12v12h-12zM2063 1746h12v12h-12zM2331 1795h12v12h-12zM2355 1795h12v12h-12zM2075 1819h25v12h-25zM2136 1819h12v12h-12zM2209 1819h12v12h-12zM2331 1819h12v12h-12zM2258 1856h12v12h-12zM2282 1856h12v12h-12zM2173 1868h12v12h-12zM2355 1868h12v12h-12zM2197 1892h12v13h-12zM2258 1929h12v12h-12zM2294 1929h13v12h-13zM2185 1941h12v12h-12zM2331 1941h12v12h-12zM2234 1953h12v12h-12zM2331 1953h12v12h-12zM2282 1965h12v13h-12zM2221 1978h13v12h-13zM2124 2002h12v12h-12zM2161 2002h12v12h-12zM2246 2002h24v12h-24zM2282 2026h12v13h-12zM2075 2039h13v12h-13zM2112 2039h12v12h-12zM2124 2051h12v12h-12zM2282 2051h12v12h-12zM2075 2063h13v12h-13zM2136 2063h12v12h-12zM2161 2063h12v12h-12zM2367 2063h13v12h-13zM2331 2075h12v12h-12zM2331 2087h12v13h-12zM2270 2112h12v12h-12zM2307 2112h12v12h-12zM2112 2124h12v12h-12zM2294 2124h13v12h-13zM2380 2124h12v12h-12zM2270 2136h12v12h-12z"/>
<path fill="#fc8900" d="M2331 1734h12v12h-12zM2246 1746h12v12h-12zM2209 1770h12v13h-12zM2209 1783h12v12h-12zM2209 1795h12v12h-12zM2124 1807h12v12h-12zM2112 1831h12v13h-12zM2185 1831h12v13h-12zM2100 1844h12v12h-12zM2075 1856h13v12h-13zM2367 1856h13v12h-13zM2088 1868h12v12h-12zM2173 1880h12v12h-12zM2294 1880h13v12h-13zM2331 1880h12v12h-12zM2355 1880h12v12h-12zM2307 1892h12v13h-12zM2294 1905h13v12h-13zM2161 1917h12v12h-12zM2148 1941h13v12h-13zM2380 1941h12v12h-12zM2173 2002h12v12h-12zM2367 2014h13v12h-13zM2234 2026h12v13h-12zM2124 2039h24v12h-24zM2063 2051h12v12h-12zM2209 2051h12v12h-12zM2343 2051h12v12h-12zM2173 2063h12v12h-12zM2124 2087h12v13h-12zM2380 2087h12v13h-12zM2355 2100h12v12h-12zM2197 2112h12v12h-12zM2380 2112h12v12h-12zM2367 2124h13v12h-13z"/>
<path fill="#fc9200" d="M2343 1734h12v12h-12zM2355 1746h12v12h-12zM2380 1758h12v12h-12zM2100 1783h12v12h-12zM2343 1795h12v12h-12zM2063 1807h12v12h-12zM2100 1807h12v12h-12zM2367 1844h13v12h-13zM2173 1856h12v12h-12zM2343 1856h12v12h-12zM2234 1905h12v12h-12zM2270 1905h12v12h-12zM2258 1917h12v12h-12zM2343 1917h12v12h-12zM2270 1929h12v12h-12zM2343 1941h24v12h-24zM2246 1953h12v12h-12zM2343 1965h12v13h-12zM2148 1978h13v12h-13zM2185 1990h12v12h-12zM2112 2002h12v12h-12zM2185 2002h12v12h-12zM2136 2014h12v12h-12zM2209 2014h12v12h-12zM2282 2014h12v12h-12zM2124 2026h12v13h-12zM2088 2039h12v12h-12zM2319 2039h12v12h-12zM2380 2039h12v12h-12zM2307 2063h12v12h-12zM2161 2087h12v13h-12zM2197 2100h12v12h-12zM2246 2100h12v12h-12zM2331 2100h12v12h-12zM2173 2112h12v12h-12zM2075 2124h13v12h-13zM2246 2136h12v12h-12z"/>
<path fill="#fd6600" d="M2367 1734h13v12h-13zM2173 1758h12v12h-12zM2136 1770h12v13h-12zM2161 1807h12v12h-12zM2112 1880h12v12h-12zM2136 1892h12v13h-12zM2063 1965h12v13h-12zM2319 1965h12v13h-12zM2307 2002h24v12h-24zM2148 2026h13v13h-13zM2331 2063h12v12h-12zM2221 2100h13v12h-13z"/>
<path fill="#fc8000" d="M2088 1746h12v12h-12zM2197 1746h12v12h-12zM2088 1758h24v12h-24zM2173 1770h12v13h-12zM2367 1783h13v12h-13zM2136 1807h12v12h-12zM2221 1831h13v13h-13zM2148 1856h13v12h-13zM2234 1856h24v12h-24zM2124 1880h12v12h-12zM2161 1880h12v12h-12zM2307 1880h12v12h-12zM2282 1892h12v13h-12zM2355 1892h12v13h-12zM2294 1917h13v12h-13zM2136 1929h12v12h-12zM2124 1941h12v12h-12zM2294 1965h13v13h-13zM2136 2002h12v12h-12zM2221 2014h13v12h-13zM2319 2026h12v13h-12zM2221 2039h13v12h-13zM2161 2051h12v12h-12zM2307 2051h12v12h-12zM2197 2063h12v12h-12zM2319 2063h12v12h-12zM2343 2063h12v12h-12zM2380 2075h12v12h-12zM2282 2087h25v13h-25zM2075 2100h13v12h-13zM2307 2100h12v12h-12zM2331 2112h12v12h-12z"/>
<path fill="#fb5100" d="M2112 1746h12v12h-12zM2173 1795h12v12h-12zM2197 1856h12v12h-12zM2063 1941h12v12h-12zM2270 2063h12v12h-12zM2197 2075h12v12h-12z"/>
<path fill="#fa4600" d="M2148 1746h13v12h-13zM2075 1929h13v12h-13zM2088 1941h12v12h-12zM2063 1953h12v12h-12zM2088 1978h12v12h-12z"/>
<path fill="#fd6d00" d="M2161 1746h12v12h-12zM2380 1746h12v12h-12zM2161 1758h12v12h-12zM2367 1758h13v12h-13zM2124 1819h12v12h-12zM2148 1868h13v12h-13zM2367 1880h13v12h-13zM2124 1929h12v12h-12zM2355 1965h12v13h-12zM2075 1978h13v12h-13zM2088 1990h12v12h-12zM2148 1990h13v12h-13zM2100 2002h12v12h-12zM2331 2002h12v12h-12zM2088 2014h12v12h-12zM2331 2014h12v12h-12zM2088 2026h12v13h-12zM2258 2026h12v13h-12zM2307 2026h12v13h-12zM2258 2039h12v12h-12zM2294 2039h13v12h-13zM2173 2051h12v12h-12zM2197 2051h12v12h-12zM2209 2063h12v12h-12zM2270 2075h12v12h-12zM2258 2087h12v13h-12zM2209 2112h25v12h-25z"/>
<path fill="#fc9f00" d="M2258 1746h12v12h-12zM2100 1770h12v13h-12zM2367 1770h13v13h-13zM2343 1783h12v12h-12zM2221 1795h13v12h-13zM2221 1807h13v12h-13zM2270 1807h12v12h-12zM2355 1819h12v12h-12zM2136 1831h12v13h-12zM2234 1844h12v12h-12zM2209 1856h12v12h-12zM2319 1856h12v12h-12zM2355 1856h12v12h-12zM2124 1868h12v12h-12zM2270 1868h24v12h-24zM2197 1880h12v12h-12zM2343 1892h12v13h-12zM2246 1917h12v12h-12zM2307 1917h24v12h-24zM2197 1929h12v12h-12zM2282 1941h12v12h-12zM2246 1965h12v13h-12zM2234 1978h12v12h-12zM2197 2014h12v12h-12zM2258 2014h12v12h-12zM2185 2026h12v13h-12zM2380 2026h12v13h-12zM2124 2063h12v12h-12zM2294 2075h13v12h-13zM2343 2087h12v13h-12zM2112 2100h12v12h-12zM2234 2100h12v12h-12zM2075 2112h13v12h-13zM2161 2112h12v12h-12zM2258 2124h12v12h-12zM2319 2124h24v12h-24zM2282 2136h25v12h-25z"/>
<path fill="#fc9900" d="M2282 1746h12v12h-12zM2209 1758h12v12h-12zM2088 1770h12v13h-12zM2258 1770h12v13h-12zM2246 1783h12v12h-12zM2088 1807h12v12h-12zM2234 1807h12v12h-12zM2100 1819h12v12h-12zM2343 1819h12v12h-12zM2367 1819h25v12h-25zM2148 1831h13v13h-13zM2343 1831h12v13h-12zM2380 1831h12v13h-12zM2063 1844h12v12h-12zM2063 1856h12v12h-12zM2258 1868h12v12h-12zM2319 1905h12v12h-12zM2185 1917h12v12h-12zM2148 1929h25v12h-25zM2331 1929h12v12h-12zM2173 1941h12v12h-12zM2197 1941h12v12h-12zM2246 1941h12v12h-12zM2197 1953h12v12h-12zM2355 1953h12v12h-12zM2197 1990h12v12h-12zM2270 2014h12v12h-12zM2319 2051h12v12h-12zM2124 2075h12v12h-12zM2100 2100h12v12h-12zM2294 2112h13v12h-13zM2343 2112h12v12h-12zM2063 2124h12v12h-12zM2209 2124h12v12h-12zM2136 2136h12v12h-12zM2258 2136h12v12h-12z"/>
<path fill="#fca600" d="M2319 1746h12v12h-12zM2063 1758h12v12h-12zM2063 1783h12v12h-12zM2307 1795h12v12h-12zM2234 1819h12v12h-12zM2270 1819h12v12h-12zM2319 1819h12v12h-12zM2234 1831h12v13h-12zM2307 1831h12v13h-12zM2100 1856h12v12h-12zM2380 1880h12v12h-12zM2185 1892h12v13h-12zM2234 1892h12v13h-12zM2294 1978h13v12h-13zM2112 2014h12v12h-12zM2100 2075h12v12h-12zM2075 2087h13v13h-13zM2136 2087h12v13h-12zM2367 2087h13v13h-13zM2124 2112h12v12h-12zM2270 2124h12v12h-12zM2185 2136h12v12h-12zM2343 2136h12v12h-12z"/>
<path fill="#fbb100" d="M2075 1758h13v12h-13zM2282 1758h12v12h-12zM2075 1795h13v12h-13zM2294 1819h13v12h-13zM2075 1831h13v13h-13zM2100 1831h12v13h-12zM2282 1831h12v13h-12zM2221 1844h13v12h-13zM2355 1844h12v12h-12zM2234 1880h12v12h-12zM2367 1905h13v12h-13zM2197 1917h12v12h-12zM2173 1965h12v13h-12zM2173 1978h12v12h-12zM2258 1990h12v12h-12zM2100 2051h12v12h-12zM2063 2075h12v12h-12z"/>
<path fill="#fd7300" d="M2197 1758h12v12h-12zM2161 1770h12v13h-12zM2124 1844h12v12h-12zM2380 1844h12v12h-12zM2185 1856h12v12h-12zM2136 1868h12v12h-12zM2136 1905h12v12h-12zM2343 1905h12v12h-12zM2112 1917h12v12h-12zM2112 1941h12v12h-12zM2075 1953h13v12h-13zM2161 1953h12v12h-12zM2331 1990h12v12h-12zM2088 2002h12v12h-12zM2124 2014h12v12h-12zM2075 2026h13v13h-13zM2331 2026h12v13h-12zM2161 2039h12v12h-12zM2185 2039h12v12h-12zM2307 2039h12v12h-12zM2294 2051h13v12h-13zM2185 2063h12v12h-12zM2282 2063h12v12h-12zM2221 2075h25v12h-25zM2197 2087h12v13h-12z"/>
<path fill="#fbb400" d="M2270 1758h12v12h-12zM2307 1770h12v13h-12zM2380 1770h12v13h-12zM2282 1783h12v12h-12zM2246 1807h12v12h-12zM2343 1807h12v12h-12zM2307 1819h12v12h-12zM2063 1831h12v13h-12zM2246 1831h12v13h-12zM2258 1844h12v12h-12zM2294 1844h37v12h-37zM2221 1856h13v12h-13zM2209 1868h12v12h-12zM2258 1905h12v12h-12zM2209 1941h12v12h-12zM2221 1953h13v12h-13zM2258 1978h12v12h-12zM2173 2014h12v12h-12zM2161 2100h12v12h-12zM2100 2112h12v12h-12zM2331 2136h12v12h-12z"/>
<path fill="#fbbf00" d="M2294 1758h25v12h-25zM2075 1807h13v12h-13zM2209 1892h12v13h-12zM2221 1941h13v12h-13zM2234 1965h12v13h-12zM2088 2087h12v13h-12z"/>
<path fill="#fbbb00" d="M2319 1758h12v12h-12zM2270 1770h12v13h-12zM2258 1783h24v12h-24zM2088 1795h12v12h-12zM2270 1831h12v13h-12zM2270 1844h24v12h-24zM2270 1892h12v13h-12zM2234 1917h12v12h-12zM2258 1953h12v12h-12zM2209 1965h12v13h-12zM2221 2002h13v12h-13zM2100 2063h24v12h-24zM2112 2075h12v12h-12zM2088 2112h12v12h-12zM2088 2124h12v12h-12zM2307 2124h12v12h-12zM2100 2136h12v12h-12z"/>
<path fill="#fc9c00" d="M2063 1770h12v13h-12zM2246 1770h12v13h-12zM2331 1770h12v13h-12zM2234 1783h12v12h-12zM2380 1795h12v12h-12zM2088 1831h12v13h-12zM2258 1831h12v13h-12zM2246 1844h12v12h-12zM2221 1868h13v12h-13zM2173 1892h12v13h-12zM2367 1892h13v13h-13zM2161 1905h12v12h-12zM2307 1905h12v12h-12zM2331 1905h12v12h-12zM2270 1917h12v12h-12zM2294 1941h13v12h-13zM2185 1953h12v12h-12zM2343 1953h12v12h-12zM2270 1978h12v12h-12zM2234 1990h12v12h-12zM2209 2002h12v12h-12zM2355 2026h12v13h-12zM2088 2051h12v12h-12zM2112 2051h12v12h-12zM2355 2051h12v12h-12zM2355 2075h12v12h-12zM2100 2087h12v13h-12zM2319 2087h12v13h-12zM2063 2100h12v12h-12zM2063 2112h12v12h-12zM2355 2124h12v12h-12zM2173 2136h12v12h-12zM2367 2136h13v12h-13z"/>
<path fill="#fcaa00" d="M2221 1770h25v13h-25zM2221 1783h13v12h-13zM2319 1783h12v12h-12zM2063 1795h12v12h-12zM2234 1795h24v12h-24zM2331 1807h12v12h-12zM2331 1831h12v13h-12zM2075 1844h13v12h-13zM2270 1856h12v12h-12zM2380 1868h12v12h-12zM2185 1880h12v12h-12zM2246 1905h12v12h-12zM2343 1929h12v12h-12zM2197 1978h12v12h-12zM2270 1990h12v12h-12zM2075 2075h25v12h-25zM2343 2075h12v12h-12zM2063 2087h12v13h-12zM2380 2100h12v12h-12zM2100 2124h12v12h-12zM2063 2136h12v12h-12zM2307 2136h12v12h-12z"/>
<path fill="#fbb800" d="M2282 1770h12v13h-12zM2258 1795h12v12h-12zM2319 1795h12v12h-12zM2282 1807h12v12h-12zM2221 1819h13v12h-13zM2282 1819h12v12h-12zM2294 1868h13v12h-13zM2221 1880h13v12h-13zM2234 1941h12v12h-12zM2270 1965h12v13h-12zM2136 2075h12v12h-12zM2112 2087h12v13h-12zM2173 2100h12v12h-12z"/>
<path fill="#fad700" d="M2294 1770h13v13h-13zM2294 1783h13v12h-13z"/>
<path fill="#fbad00" d="M2319 1770h12v13h-12zM2075 1783h25v12h-25zM2112 1783h12v12h-12zM2319 1807h12v12h-12zM2355 1807h12v12h-12zM2319 1831h12v13h-12zM2331 1844h12v12h-12zM2307 1856h12v12h-12zM2307 1868h24v12h-24zM2246 1880h12v12h-12zM2294 1892h13v13h-13zM2380 1892h12v13h-12zM2197 1905h12v12h-12zM2161 1978h12v12h-12zM2185 1978h12v12h-12zM2161 2136h12v12h-12zM2319 2136h12v12h-12zM2355 2136h12v12h-12z"/>
<path fill="#fa4c00" d="M2161 1783h24v12h-24zM2197 1819h12v12h-12zM2112 1844h12v12h-12zM2112 1953h12v12h-12zM2258 2075h12v12h-12z"/>
<path fill="#fac900" d="M2307 1783h12v12h-12zM2270 1795h12v12h-12z"/>
<path fill="#fd7c00" d="M2355 1783h12v12h-12zM2197 1807h12v12h-12zM2161 1868h12v12h-12zM2148 1892h13v13h-13zM2319 1929h12v12h-12zM2355 1929h12v12h-12zM2367 1941h13v12h-13zM2148 1953h13v12h-13zM2173 1953h12v12h-12zM2124 1965h24v13h-24zM2380 1978h12v12h-12zM2063 1990h12v12h-12zM2173 1990h12v12h-12zM2343 1990h12v12h-12zM2282 2002h25v12h-25zM2075 2014h13v12h-13zM2367 2039h13v12h-13zM2380 2051h12v12h-12zM2234 2063h12v12h-12zM2380 2063h12v12h-12zM2161 2075h12v12h-12zM2246 2087h12v13h-12zM2136 2100h12v12h-12zM2124 2124h12v12h-12zM2197 2124h12v12h-12z"/>
<path fill="#f5df00" d="M2282 1795h12v12h-12z"/>
<path fill="#f2e300" d="M2294 1795h13v12h-13z"/>
<path fill="#f8db00" d="M2294 1807h13v12h-13zM2270 1880h12v12h-12z"/>
<path fill="#fbc200" d="M2307 1807h12v12h-12zM2221 1892h13v13h-13zM2246 1892h12v13h-12zM2221 1905h13v12h-13zM2221 1929h25v12h-25z"/>
<path fill="#fbc600" d="M2063 1819h12v12h-12zM2294 1831h13v13h-13zM2258 1892h12v13h-12zM2173 1905h12v12h-12zM2209 1917h25v12h-25zM2258 1965h12v13h-12z"/>
<path fill="#f72900" d="M2185 1819h12v12h-12z"/>
<path fill="#facd00" d="M2294 1856h13v12h-13zM2209 1905h12v12h-12zM2246 1929h12v12h-12z"/>
<path fill="#fad000" d="M2209 1880h12v12h-12zM2258 1880h12v12h-12z"/>
<path fill="#f94000" d="M2148 1905h13v12h-13zM2136 1917h12v12h-12zM2088 1953h12v12h-12zM2075 1965h13v13h-13zM2343 2014h12v12h-12zM2258 2051h12v12h-12zM2258 2063h12v12h-12z"/>
<path fill="#f62400" d="M2075 1917h13v12h-13z"/>
<path fill="#fad400" d="M2088 2100h12v12h-12z"/>
</g>
<rect x="124.0" y="290.5" width="364.2" height="3.5" fill="#b0b0b0"/>
<rect x="124.0" y="751.2" width="364.2" height="3.2" fill="#777777"/>
<rect x="124.0" y="290.5" width="4.0" height="463.9" fill="#777777"/>
<rect x="486.2" y="290.5" width="2.0" height="463.9" fill="#666666"/>
<rect x="500.1" y="290.5" width="363.9" height="3.5" fill="#b0b0b0"/>
<rect x="500.1" y="751.2" width="363.9" height="3.2" fill="#777777"/>
<rect x="500.1" y="290.5" width="2.1" height="463.9" fill="#333333"/>
<rect x="861.6" y="290.5" width="2.4" height="463.9" fill="#555555"/>
<rect x="900.2" y="290.5" width="363.8" height="3.5" fill="#b0b0b0"/>
<rect x="900.2" y="751.2" width="363.8" height="3.2" fill="#777777"/>
<rect x="900.2" y="290.5" width="2.4" height="463.9" fill="#999999"/>
<rect x="1261.0" y="290.5" width="3.0" height="463.9" fill="#888888"/>
<rect x="1273.0" y="290.5" width="364.0" height="3.5" fill="#b0b0b0"/>
<rect x="1273.0" y="751.2" width="364.0" height="3.2" fill="#777777"/>
<rect x="1273.0" y="290.5" width="2.2" height="463.9" fill="#777777"/>
<rect x="1634.9" y="290.5" width="2.1" height="463.9" fill="#777777"/>
<rect x="124.0" y="765.2" width="364.2" height="2.0" fill="#888888"/>
<rect x="124.0" y="1224.0" width="364.2" height="3.6" fill="#aaaaaa"/>
<rect x="124.0" y="765.2" width="4.0" height="462.4" fill="#777777"/>
<rect x="486.2" y="765.2" width="2.0" height="462.4" fill="#666666"/>
<rect x="500.1" y="765.2" width="363.9" height="2.0" fill="#888888"/>
<rect x="500.1" y="1224.0" width="363.9" height="3.6" fill="#aaaaaa"/>
<rect x="500.1" y="765.2" width="2.1" height="462.4" fill="#333333"/>
<rect x="861.6" y="765.2" width="2.4" height="462.4" fill="#555555"/>
<rect x="900.2" y="765.2" width="363.8" height="2.0" fill="#888888"/>
<rect x="900.2" y="1224.0" width="363.8" height="3.6" fill="#aaaaaa"/>
<rect x="900.2" y="765.2" width="2.4" height="462.4" fill="#999999"/>
<rect x="1261.0" y="765.2" width="3.0" height="462.4" fill="#888888"/>
<rect x="1273.0" y="765.2" width="364.0" height="2.0" fill="#888888"/>
<rect x="1273.0" y="1224.0" width="364.0" height="3.6" fill="#aaaaaa"/>
<rect x="1273.0" y="765.2" width="2.2" height="462.4" fill="#777777"/>
<rect x="1634.9" y="765.2" width="2.1" height="462.4" fill="#777777"/>
<rect x="1673.0" y="765.2" width="363.8" height="2.0" fill="#888888"/>
<rect x="1673.0" y="1224.0" width="363.8" height="3.6" fill="#aaaaaa"/>
<rect x="1673.0" y="765.2" width="3.8" height="462.4" fill="#666666"/>
<rect x="2034.9" y="765.2" width="1.9" height="462.4" fill="#333333"/>
<rect x="2045.2" y="765.2" width="364.8" height="2.0" fill="#888888"/>
<rect x="2045.2" y="1224.0" width="364.8" height="3.6" fill="#aaaaaa"/>
<rect x="2045.2" y="765.2" width="3.4" height="462.4" fill="#aaaaaa"/>
<rect x="2407.0" y="765.2" width="3.0" height="462.4" fill="#999999"/>
<rect x="124.0" y="1235.3" width="364.2" height="3.5" fill="#b4b4b4"/>
<rect x="124.0" y="1694.7" width="364.2" height="3.7" fill="#aaaaaa"/>
<rect x="124.0" y="1235.3" width="4.0" height="463.1" fill="#777777"/>
<rect x="486.2" y="1235.3" width="2.0" height="463.1" fill="#666666"/>
<rect x="500.1" y="1235.3" width="363.9" height="3.5" fill="#b4b4b4"/>
<rect x="500.1" y="1694.7" width="363.9" height="3.7" fill="#aaaaaa"/>
<rect x="500.1" y="1235.3" width="2.1" height="463.1" fill="#333333"/>
<rect x="861.6" y="1235.3" width="2.4" height="463.1" fill="#555555"/>
<rect x="900.2" y="1235.3" width="363.8" height="3.5" fill="#b4b4b4"/>
<rect x="900.2" y="1694.7" width="363.8" height="3.7" fill="#aaaaaa"/>
<rect x="900.2" y="1235.3" width="2.4" height="463.1" fill="#999999"/>
<rect x="1261.0" y="1235.3" width="3.0" height="463.1" fill="#888888"/>
<rect x="1273.0" y="1235.3" width="364.0" height="3.5" fill="#b4b4b4"/>
<rect x="1273.0" y="1694.7" width="364.0" height="3.7" fill="#aaaaaa"/>
<rect x="1273.0" y="1235.3" width="2.2" height="463.1" fill="#777777"/>
<rect x="1634.9" y="1235.3" width="2.1" height="463.1" fill="#777777"/>
<rect x="124.0" y="1710.6" width="364.2" height="2.2" fill="#333333"/>
<rect x="124.0" y="2171.0" width="364.2" height="2.0" fill="#888888"/>
<rect x="124.0" y="1710.6" width="4.0" height="462.4" fill="#777777"/>
<rect x="486.2" y="1710.6" width="2.0" height="462.4" fill="#666666"/>
<rect x="500.1" y="1710.6" width="363.9" height="2.2" fill="#333333"/>
<rect x="500.1" y="2171.0" width="363.9" height="2.0" fill="#888888"/>
<rect x="500.1" y="1710.6" width="2.1" height="462.4" fill="#333333"/>
<rect x="861.6" y="1710.6" width="2.4" height="462.4" fill="#555555"/>
<rect x="900.2" y="1710.6" width="363.8" height="2.2" fill="#333333"/>
<rect x="900.2" y="2171.0" width="363.8" height="2.0" fill="#888888"/>
<rect x="900.2" y="1710.6" width="2.4" height="462.4" fill="#999999"/>
<rect x="1261.0" y="1710.6" width="3.0" height="462.4" fill="#888888"/>
<rect x="1273.0" y="1710.6" width="364.0" height="2.2" fill="#333333"/>
<rect x="1273.0" y="2171.0" width="364.0" height="2.0" fill="#888888"/>
<rect x="1273.0" y="1710.6" width="2.2" height="462.4" fill="#777777"/>
<rect x="1634.9" y="1710.6" width="2.1" height="462.4" fill="#777777"/>
<rect x="1673.0" y="1710.6" width="363.8" height="2.2" fill="#333333"/>
<rect x="1673.0" y="2171.0" width="363.8" height="2.0" fill="#888888"/>
<rect x="1673.0" y="1710.6" width="3.8" height="462.4" fill="#666666"/>
<rect x="2034.9" y="1710.6" width="1.9" height="462.4" fill="#333333"/>
<rect x="2045.2" y="1710.6" width="364.8" height="2.2" fill="#333333"/>
<rect x="2045.2" y="2171.0" width="364.8" height="2.0" fill="#888888"/>
<rect x="2045.2" y="1710.6" width="3.4" height="462.4" fill="#aaaaaa"/>
<rect x="2407.0" y="1710.6" width="3.0" height="462.4" fill="#999999"/>
<text x="52.5" y="64.1" font-size="45.0" textLength="31.5" lengthAdjust="spacingAndGlyphs">N</text>
<text x="326.0" y="149.0" font-size="113.0" textLength="353.0" lengthAdjust="spacingAndGlyphs">ASCAT</text>
<text x="1065.0" y="146.3" font-size="112.0" textLength="436.0" lengthAdjust="spacingAndGlyphs">ESA-CCI</text>
<text x="1886.0" y="147.0" font-size="110.0" textLength="304.0" lengthAdjust="spacingAndGlyphs">SMAP</text>
<text x="171.5" y="246.4" font-size="83.5" textLength="277.0" lengthAdjust="spacingAndGlyphs">Original</text>
<text x="516.0" y="246.4" font-size="83.5" textLength="325.0" lengthAdjust="spacingAndGlyphs">Improved</text>
<text x="939.5" y="246.0" font-size="83.5" textLength="277.0" lengthAdjust="spacingAndGlyphs">Original</text>
<text x="1285.5" y="246.0" font-size="83.5" textLength="323.0" lengthAdjust="spacingAndGlyphs">Improved</text>
<text x="1707.5" y="245.0" font-size="83.5" textLength="274.5" lengthAdjust="spacingAndGlyphs">Original</text>
<text x="2055.0" y="245.0" font-size="83.5" textLength="322.0" lengthAdjust="spacingAndGlyphs">Improved</text>
<text x="191.0" y="2276.8" font-size="100.0" textLength="559.0" lengthAdjust="spacingAndGlyphs">SM(cm³/cm³)</text>
<text x="245.0" y="2467.0" font-size="85.0" text-anchor="middle">0.00</text>
<text x="494.4" y="2467.0" font-size="85.0" text-anchor="middle">0.07</text>
<text x="743.8" y="2467.0" font-size="85.0" text-anchor="middle">0.14</text>
<text x="993.2" y="2467.0" font-size="85.0" text-anchor="middle">0.21</text>
<text x="1242.6" y="2467.0" font-size="85.0" text-anchor="middle">0.28</text>
<text x="1492.0" y="2467.0" font-size="85.0" text-anchor="middle">0.35</text>
<text x="1741.4" y="2467.0" font-size="85.0" text-anchor="middle">0.42</text>
<text x="1990.8" y="2467.0" font-size="85.0" text-anchor="middle">0.49</text>
<text x="2240.2" y="2467.0" font-size="85.0" text-anchor="middle">0.56</text>
<text x="0.0" y="0.0" font-size="66.0" text-anchor="middle" transform="translate(94,530.0) rotate(-90) scale(0.987,1.07)">CTP-SMTMN</text>
<text x="0.0" y="0.0" font-size="66.0" text-anchor="middle" transform="translate(94,980.8) rotate(-90) scale(0.993,1.07)">OZNET</text>
<text x="0.0" y="0.0" font-size="66.0" text-anchor="middle" transform="translate(94,1454.2) rotate(-90) scale(1.000,1.07)">HOBE</text>
<text x="0.0" y="0.0" font-size="66.0" text-anchor="middle" transform="translate(94,1920.8) rotate(-90) scale(1.000,1.07)">SNOTEL</text>
<polygon points="69.2,85.7 26.7,214.3 69.2,186.3 112.8,214.3" fill="#000"/>
<rect x="206.0" y="2308" width="252.6" height="83" fill="#f20000"/>
<rect x="458.6" y="2308" width="252.6" height="83" fill="#fd6400"/>
<rect x="711.2" y="2308" width="252.6" height="83" fill="#fc9b00"/>
<rect x="963.9" y="2308" width="252.6" height="83" fill="#fad800"/>
<rect x="1216.5" y="2308" width="252.6" height="83" fill="#e2fa00"/>
<rect x="1469.1" y="2308" width="252.6" height="83" fill="#a8f800"/>
<rect x="1721.8" y="2308" width="252.6" height="83" fill="#6cf800"/>
<rect x="1974.4" y="2308" width="252.6" height="83" fill="#00f500"/>
<line x1="458.6" y1="2308" x2="458.6" y2="2391" stroke="#808080" stroke-width="2"/>
<line x1="711.2" y1="2308" x2="711.2" y2="2391" stroke="#808080" stroke-width="2"/>
<line x1="963.9" y1="2308" x2="963.9" y2="2391" stroke="#808080" stroke-width="2"/>
<line x1="1216.5" y1="2308" x2="1216.5" y2="2391" stroke="#808080" stroke-width="2"/>
<line x1="1469.1" y1="2308" x2="1469.1" y2="2391" stroke="#808080" stroke-width="2"/>
<line x1="1721.8" y1="2308" x2="1721.8" y2="2391" stroke="#808080" stroke-width="2"/>
<line x1="1974.4" y1="2308" x2="1974.4" y2="2391" stroke="#808080" stroke-width="2"/>
<rect x="206.0" y="2308.0" width="2021.0" height="83.0" fill="none" stroke="#808080" stroke-width="2"/>
</svg></body></html>
